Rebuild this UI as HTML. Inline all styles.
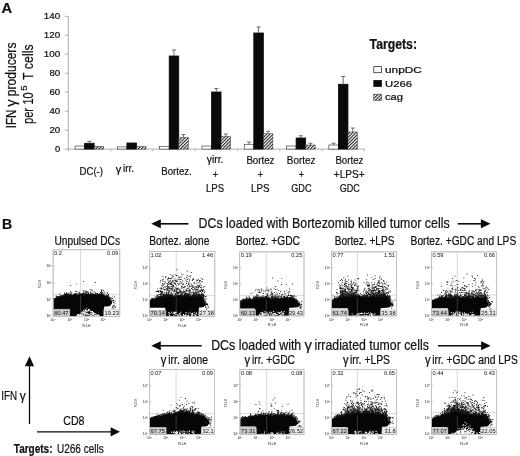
<!DOCTYPE html>
<html lang="en"><head><meta charset="utf-8"><title>Figure</title>
<style>html,body{margin:0;padding:0;background:#fff;}body{width:520px;height:456px;overflow:hidden;}svg{display:block;filter:grayscale(1);}text{font-family:"Liberation Sans", Arial, Helvetica, sans-serif;fill:#111;}.b text{stroke:#111;stroke-width:.22px;}</style>
</head><body>
<svg width="520" height="456" viewBox="0 0 520 456">
<defs><pattern id="hatch" width="2.3" height="2.3" patternUnits="userSpaceOnUse" patternTransform="rotate(-45)"><rect width="2.3" height="2.3" fill="#fff"/><rect width="2.3" height="1.05" fill="#1a1a1a"/></pattern></defs>
<rect width="520" height="456" fill="#fff"/>
<g class="b">
<text x="1.60" y="13.20" font-size="15.5" textLength="10.60" lengthAdjust="spacingAndGlyphs" font-weight="bold">A</text>
<text x="2.00" y="229.40" font-size="15.5" textLength="10.20" lengthAdjust="spacingAndGlyphs" font-weight="bold">B</text>
<g stroke="#a6a6a6" stroke-width="0.9" fill="none">
<path d="M68.3 16 V151.5"/>
<path d="M68.3 149.1 H364.5"/>
<path d="M64.8 149.10 H68.3"/>
<path d="M64.8 130.13 H68.3"/>
<path d="M64.8 111.16 H68.3"/>
<path d="M64.8 92.18 H68.3"/>
<path d="M64.8 73.21 H68.3"/>
<path d="M64.8 54.24 H68.3"/>
<path d="M64.8 35.27 H68.3"/>
<path d="M64.8 16.30 H68.3"/>
<path d="M110.60 149.1 v2.2"/>
<path d="M152.90 149.1 v2.2"/>
<path d="M195.20 149.1 v2.2"/>
<path d="M237.50 149.1 v2.2"/>
<path d="M279.80 149.1 v2.2"/>
<path d="M322.10 149.1 v2.2"/>
<path d="M364.40 149.1 v2.2"/>
</g>
<text x="55.00" y="152.10" font-size="8.7" textLength="5.20" lengthAdjust="spacingAndGlyphs" fill="#1a1a1a">0</text>
<text x="49.40" y="133.13" font-size="8.7" textLength="10.80" lengthAdjust="spacingAndGlyphs" fill="#1a1a1a">20</text>
<text x="49.40" y="114.16" font-size="8.7" textLength="10.80" lengthAdjust="spacingAndGlyphs" fill="#1a1a1a">40</text>
<text x="49.40" y="95.18" font-size="8.7" textLength="10.80" lengthAdjust="spacingAndGlyphs" fill="#1a1a1a">60</text>
<text x="49.40" y="76.21" font-size="8.7" textLength="10.80" lengthAdjust="spacingAndGlyphs" fill="#1a1a1a">80</text>
<text x="43.80" y="57.24" font-size="8.7" textLength="16.40" lengthAdjust="spacingAndGlyphs" fill="#1a1a1a">100</text>
<text x="43.80" y="38.27" font-size="8.7" textLength="16.40" lengthAdjust="spacingAndGlyphs" fill="#1a1a1a">120</text>
<text x="43.80" y="19.30" font-size="8.7" textLength="16.40" lengthAdjust="spacingAndGlyphs" fill="#1a1a1a">140</text>
<g transform="rotate(-90)">
<text x="-128.30" y="15.50" font-size="14.5" textLength="18.50" lengthAdjust="spacingAndGlyphs">IFN</text>
<text x="-106.80" y="15.50" font-size="14.5" textLength="7.40" lengthAdjust="spacingAndGlyphs">γ</text>
<text x="-96.20" y="15.50" font-size="14.5" textLength="53.60" lengthAdjust="spacingAndGlyphs">producers</text>
<text x="-124.10" y="32.90" font-size="14.5" textLength="16.20" lengthAdjust="spacingAndGlyphs">per</text>
<text x="-104.60" y="32.90" font-size="14.5" textLength="12.20" lengthAdjust="spacingAndGlyphs">10</text>
<text x="-90.70" y="27.20" font-size="9" textLength="5.40" lengthAdjust="spacingAndGlyphs">5</text>
<text x="-79.90" y="32.90" font-size="14.5" textLength="35.50" lengthAdjust="spacingAndGlyphs">T cells</text>
</g>
<rect x="75.05" y="146.00" width="9.55" height="3.10" fill="#fff" stroke="#2a2a2a" stroke-width="0.6"/>
<rect x="84.60" y="143.25" width="9.55" height="5.85" fill="#0a0a0a" stroke="#0a0a0a" stroke-width="0.8"/>
<path d="M89.38 143.25 V141.30 M87.38 141.30 h4" stroke="#4a4a4a" stroke-width="0.8" fill="none"/>
<rect x="94.15" y="146.25" width="9.55" height="2.85" fill="url(#hatch)" stroke="#333" stroke-width="0.5"/>
<rect x="117.35" y="146.90" width="9.55" height="2.20" fill="#fff" stroke="#2a2a2a" stroke-width="0.6"/>
<rect x="126.90" y="143.00" width="9.55" height="6.10" fill="#0a0a0a" stroke="#0a0a0a" stroke-width="0.8"/>
<rect x="136.45" y="146.50" width="9.55" height="2.60" fill="url(#hatch)" stroke="#333" stroke-width="0.5"/>
<rect x="159.65" y="146.25" width="9.55" height="2.85" fill="#fff" stroke="#2a2a2a" stroke-width="0.6"/>
<rect x="169.20" y="56.00" width="9.55" height="93.10" fill="#0a0a0a" stroke="#0a0a0a" stroke-width="0.8"/>
<path d="M173.97 56.00 V50.00 M171.97 50.00 h4" stroke="#4a4a4a" stroke-width="0.8" fill="none"/>
<rect x="178.75" y="137.50" width="9.55" height="11.60" fill="url(#hatch)" stroke="#333" stroke-width="0.5"/>
<path d="M183.52 137.50 V134.50 M181.52 134.50 h4" stroke="#4a4a4a" stroke-width="0.8" fill="none"/>
<rect x="201.95" y="146.00" width="9.55" height="3.10" fill="#fff" stroke="#2a2a2a" stroke-width="0.6"/>
<rect x="211.50" y="92.00" width="9.55" height="57.10" fill="#0a0a0a" stroke="#0a0a0a" stroke-width="0.8"/>
<path d="M216.28 92.00 V88.50 M214.28 88.50 h4" stroke="#4a4a4a" stroke-width="0.8" fill="none"/>
<rect x="221.05" y="136.50" width="9.55" height="12.60" fill="url(#hatch)" stroke="#333" stroke-width="0.5"/>
<path d="M225.82 136.50 V134.00 M223.82 134.00 h4" stroke="#4a4a4a" stroke-width="0.8" fill="none"/>
<rect x="244.25" y="144.25" width="9.55" height="4.85" fill="#fff" stroke="#2a2a2a" stroke-width="0.6"/>
<path d="M249.03 144.25 V142.00 M247.03 142.00 h4" stroke="#4a4a4a" stroke-width="0.8" fill="none"/>
<rect x="253.80" y="33.00" width="9.55" height="116.10" fill="#0a0a0a" stroke="#0a0a0a" stroke-width="0.8"/>
<path d="M258.57 33.00 V27.00 M256.57 27.00 h4" stroke="#4a4a4a" stroke-width="0.8" fill="none"/>
<rect x="263.35" y="133.75" width="9.55" height="15.35" fill="url(#hatch)" stroke="#333" stroke-width="0.5"/>
<path d="M268.12 133.75 V131.25 M266.12 131.25 h4" stroke="#4a4a4a" stroke-width="0.8" fill="none"/>
<rect x="286.55" y="146.00" width="9.55" height="3.10" fill="#fff" stroke="#2a2a2a" stroke-width="0.6"/>
<rect x="296.10" y="138.00" width="9.55" height="11.10" fill="#0a0a0a" stroke="#0a0a0a" stroke-width="0.8"/>
<path d="M300.88 138.00 V135.75 M298.88 135.75 h4" stroke="#4a4a4a" stroke-width="0.8" fill="none"/>
<rect x="305.65" y="145.00" width="9.55" height="4.10" fill="url(#hatch)" stroke="#333" stroke-width="0.5"/>
<path d="M310.43 145.00 V143.25 M308.43 143.25 h4" stroke="#4a4a4a" stroke-width="0.8" fill="none"/>
<rect x="328.85" y="145.00" width="9.55" height="4.10" fill="#fff" stroke="#2a2a2a" stroke-width="0.6"/>
<path d="M333.62 145.00 V143.25 M331.62 143.25 h4" stroke="#4a4a4a" stroke-width="0.8" fill="none"/>
<rect x="338.40" y="84.25" width="9.55" height="64.85" fill="#0a0a0a" stroke="#0a0a0a" stroke-width="0.8"/>
<path d="M343.17 84.25 V76.50 M341.17 76.50 h4" stroke="#4a4a4a" stroke-width="0.8" fill="none"/>
<rect x="347.95" y="132.00" width="9.55" height="17.10" fill="url(#hatch)" stroke="#333" stroke-width="0.5"/>
<path d="M352.72 132.00 V128.00 M350.72 128.00 h4" stroke="#4a4a4a" stroke-width="0.8" fill="none"/>
<text x="79.50" y="174.60" font-size="11.5" textLength="23.50" lengthAdjust="spacingAndGlyphs">DC(-)</text>
<text x="115.80" y="173.20" font-size="11.5" textLength="5.50" lengthAdjust="spacingAndGlyphs">γ</text>
<text x="123.00" y="172.20" font-size="11.5" textLength="11.00" lengthAdjust="spacingAndGlyphs">irr.</text>
<text x="161.30" y="174.60" font-size="11.5" textLength="30.50" lengthAdjust="spacingAndGlyphs">Bortez.</text>
<text x="206.70" y="163.40" font-size="11.5" textLength="16.80" lengthAdjust="spacingAndGlyphs">γirr.</text>
<text x="215.30" y="178.00" font-size="11.5" textLength="5.20" lengthAdjust="spacingAndGlyphs" text-anchor="middle">+</text>
<text x="206.00" y="192.30" font-size="11.5" textLength="18.00" lengthAdjust="spacingAndGlyphs">LPS</text>
<text x="246.40" y="163.70" font-size="11.5" textLength="28.10" lengthAdjust="spacingAndGlyphs">Bortez</text>
<text x="260.40" y="178.00" font-size="11.5" textLength="5.20" lengthAdjust="spacingAndGlyphs" text-anchor="middle">+</text>
<text x="251.00" y="192.40" font-size="11.5" textLength="18.40" lengthAdjust="spacingAndGlyphs">LPS</text>
<text x="286.80" y="163.70" font-size="11.5" textLength="28.60" lengthAdjust="spacingAndGlyphs">Bortez</text>
<text x="301.40" y="178.00" font-size="11.5" textLength="5.20" lengthAdjust="spacingAndGlyphs" text-anchor="middle">+</text>
<text x="291.20" y="192.40" font-size="11.5" textLength="20.40" lengthAdjust="spacingAndGlyphs">GDC</text>
<text x="335.40" y="163.70" font-size="11.5" textLength="28.10" lengthAdjust="spacingAndGlyphs">Bortez</text>
<text x="333.80" y="178.00" font-size="11.5" textLength="30.80" lengthAdjust="spacingAndGlyphs">+LPS+</text>
<text x="339.80" y="192.40" font-size="11.5" textLength="20.10" lengthAdjust="spacingAndGlyphs">GDC</text>
<text x="369.60" y="49.20" font-size="14.5" textLength="47.40" lengthAdjust="spacingAndGlyphs" font-weight="bold">Targets:</text>
<rect x="373.8" y="66.6" width="7.6" height="6.1" fill="#fff" stroke="#333" stroke-width="0.8"/>
<rect x="373.8" y="80.4" width="7.6" height="6.1" fill="#0a0a0a" stroke="#111" stroke-width="0.8"/>
<rect x="373.8" y="94.2" width="7.6" height="6.1" fill="url(#hatch)" stroke="#333" stroke-width="0.6"/>
<text x="385.00" y="73.00" font-size="8.6" textLength="36.80" lengthAdjust="spacingAndGlyphs" fill="#222">unpDC</text>
<text x="385.00" y="86.60" font-size="8.6" textLength="27.00" lengthAdjust="spacingAndGlyphs" fill="#222">U266</text>
<text x="385.00" y="99.80" font-size="8.6" textLength="18.00" lengthAdjust="spacingAndGlyphs" fill="#222">cag</text>
<path d="M158.2 223.8 H188.4" stroke="#0a0a0a" stroke-width="1.6" fill="none"/>
<path d="M151.2 223.8 l9.6 -4.5 v9 z" fill="#0a0a0a"/>
<text x="198.50" y="227.80" font-size="14.6" textLength="251.10" lengthAdjust="spacingAndGlyphs">DCs loaded with Bortezomib killed tumor cells</text>
<path d="M457.7 223.8 H483.5" stroke="#0a0a0a" stroke-width="1.6" fill="none"/>
<path d="M490.5 223.8 l-9.6 -4.5 v9 z" fill="#0a0a0a"/>
<path d="M158.2 345.8 H201.7" stroke="#0a0a0a" stroke-width="1.6" fill="none"/>
<path d="M151.2 345.8 l9.6 -4.5 v9 z" fill="#0a0a0a"/>
<text x="211.20" y="349.70" font-size="14.6" textLength="90.00" lengthAdjust="spacingAndGlyphs">DCs loaded with</text>
<text x="304.50" y="349.70" font-size="14.6" textLength="7.50" lengthAdjust="spacingAndGlyphs">γ</text>
<text x="314.50" y="349.70" font-size="14.6" textLength="114.30" lengthAdjust="spacingAndGlyphs">irradiated tumor cells</text>
<path d="M438 345.8 H483.7" stroke="#0a0a0a" stroke-width="1.6" fill="none"/>
<path d="M490.7 345.8 l-9.6 -4.5 v9 z" fill="#0a0a0a"/>
<text x="54.50" y="245.00" font-size="12" textLength="65.50" lengthAdjust="spacingAndGlyphs">Unpulsed DCs</text>
<text x="149.20" y="244.70" font-size="12" textLength="60.20" lengthAdjust="spacingAndGlyphs">Bortez. alone</text>
<text x="236.00" y="244.70" font-size="12" textLength="64.00" lengthAdjust="spacingAndGlyphs">Bortez. +GDC</text>
<text x="334.70" y="244.70" font-size="12" textLength="59.70" lengthAdjust="spacingAndGlyphs">Bortez. +LPS</text>
<text x="410.60" y="244.70" font-size="12" textLength="105.60" lengthAdjust="spacingAndGlyphs">Bortez. +GDC and LPS</text>
<text x="160.70" y="363.70" font-size="12" textLength="5.60" lengthAdjust="spacingAndGlyphs">γ</text>
<text x="168.30" y="363.70" font-size="12" textLength="39.60" lengthAdjust="spacingAndGlyphs">irr. alone</text>
<text x="244.50" y="363.70" font-size="12" textLength="5.60" lengthAdjust="spacingAndGlyphs">γ</text>
<text x="252.00" y="363.70" font-size="12" textLength="43.00" lengthAdjust="spacingAndGlyphs">irr. +GDC</text>
<text x="343.00" y="363.70" font-size="12" textLength="5.60" lengthAdjust="spacingAndGlyphs">γ</text>
<text x="350.00" y="363.70" font-size="12" textLength="40.00" lengthAdjust="spacingAndGlyphs">irr. +LPS</text>
<text x="425.00" y="363.70" font-size="12" textLength="5.60" lengthAdjust="spacingAndGlyphs">γ</text>
<text x="432.20" y="363.70" font-size="12" textLength="85.60" lengthAdjust="spacingAndGlyphs">irr. +GDC and LPS</text>
<path d="M29.5 424 V364" stroke="#0a0a0a" stroke-width="1.3" fill="none"/>
<path d="M29.5 356.2 l-4.6 10 h9.2 z" fill="#0a0a0a"/>
<path d="M37 431.8 H112" stroke="#0a0a0a" stroke-width="1.3" fill="none"/>
<path d="M120 431.8 l-9.4 -4.6 v9.2 z" fill="#0a0a0a"/>
<text x="1.30" y="400.00" font-size="12" textLength="15.80" lengthAdjust="spacingAndGlyphs">IFN</text>
<text x="19.80" y="400.00" font-size="12" textLength="6.00" lengthAdjust="spacingAndGlyphs">γ</text>
<text x="63.30" y="425.00" font-size="12" textLength="21.20" lengthAdjust="spacingAndGlyphs">CD8</text>
<text x="13.80" y="452.50" font-size="12" textLength="38.70" lengthAdjust="spacingAndGlyphs" font-weight="bold">Targets:</text>
<text x="57.00" y="452.50" font-size="12" textLength="46.70" lengthAdjust="spacingAndGlyphs">U266 cells</text>
</g>
<g>
<rect x="53.1" y="249.8" width="66.70" height="66.60" fill="#fff" stroke="#bcbcbc" stroke-width="0.7"/>
<path d="M80.6 249.8 V316.4 M53.1 294.4 H119.8" stroke="#c8c8c8" stroke-width="0.7" fill="none"/>
<path d="M69.78 316.4 v-1.6 M53.1 299.75 h1.6 M86.45 316.4 v-1.6 M53.1 283.10 h1.6 M103.12 316.4 v-1.6 M53.1 266.45 h1.6" stroke="#999" stroke-width="0.6" fill="none"/>
<text x="50.70" y="321.20" font-size="3.3" fill="#b8b8b8">10<tspan dy="-1.3" font-size="2.3">0</tspan></text>
<text x="46.50" y="317.40" font-size="3.3" fill="#b8b8b8">10<tspan dy="-1.3" font-size="2.3">0</tspan></text>
<text x="67.38" y="321.20" font-size="3.3" fill="#b8b8b8">10<tspan dy="-1.3" font-size="2.3">1</tspan></text>
<text x="46.50" y="300.75" font-size="3.3" fill="#b8b8b8">10<tspan dy="-1.3" font-size="2.3">1</tspan></text>
<text x="84.05" y="321.20" font-size="3.3" fill="#b8b8b8">10<tspan dy="-1.3" font-size="2.3">2</tspan></text>
<text x="46.50" y="284.10" font-size="3.3" fill="#b8b8b8">10<tspan dy="-1.3" font-size="2.3">2</tspan></text>
<text x="100.72" y="321.20" font-size="3.3" fill="#b8b8b8">10<tspan dy="-1.3" font-size="2.3">3</tspan></text>
<text x="46.50" y="267.45" font-size="3.3" fill="#b8b8b8">10<tspan dy="-1.3" font-size="2.3">3</tspan></text>
<text x="86.45" y="326.60" font-size="2.9" text-anchor="middle" fill="#999">FL1-H</text>
<text transform="translate(40.50 284.10) rotate(-90)" font-size="2.9" text-anchor="middle" fill="#999">FL2-H</text>
<path d="M53.5 298.4 L54.0 298.3 L54.5 298.6 L55.0 298.1 L55.5 297.9 L56.0 297.7 L56.5 297.1 L57.0 297.1 L57.5 297.1 L58.0 297.2 L58.5 296.5 L59.0 296.2 L59.5 295.7 L60.0 296.2 L60.5 296.3 L61.0 295.5 L61.5 296.0 L62.0 296.3 L62.5 296.0 L63.0 295.7 L63.4 295.0 L63.9 294.4 L64.4 294.5 L64.9 294.0 L65.4 293.9 L65.9 293.8 L66.4 293.4 L66.9 293.7 L67.4 293.8 L67.9 294.4 L68.4 294.3 L68.9 294.4 L69.4 294.3 L69.9 294.4 L70.4 294.3 L70.9 294.0 L71.4 294.6 L71.9 295.0 L72.4 295.0 L72.9 294.9 L73.4 294.4 L73.9 294.0 L74.4 293.9 L74.9 293.5 L75.4 294.1 L75.9 294.1 L76.4 294.5 L76.9 294.2 L77.4 294.7 L77.9 294.9 L78.4 294.0 L78.9 293.8 L79.4 294.4 L79.9 294.3 L80.4 294.8 L80.9 294.4 L81.4 293.8 L81.9 294.1 L82.4 294.5 L82.8 294.1 L83.3 293.7 L83.8 293.7 L84.3 294.5 L84.8 294.6 L85.3 294.0 L85.8 293.8 L86.3 293.6 L86.8 293.4 L87.3 294.1 L87.8 293.8 L88.3 294.0 L88.8 294.0 L89.3 293.8 L89.8 294.2 L90.3 293.8 L90.8 294.1 L91.3 293.7 L91.8 293.9 L92.3 293.7 L92.8 293.7 L93.3 294.4 L93.8 294.7 L94.3 294.2 L94.8 294.6 L95.3 294.1 L95.8 294.0 L96.3 294.5 L96.8 294.5 L97.3 293.9 L97.8 294.6 L98.3 294.1 L98.8 293.9 L99.3 294.3 L99.8 294.1 L100.3 293.9 L100.8 293.6 L101.3 293.4 L101.8 294.0 L102.3 293.9 L102.7 294.4 L103.2 294.4 L103.7 294.6 L104.2 295.4 L104.7 295.3 L105.2 295.5 L105.7 296.0 L106.2 295.6 L106.7 295.5 L107.2 296.3 L107.7 296.8 L108.2 296.5 L108.7 296.4 L109.2 297.1 L109.7 297.7 L110.2 297.8 L110.7 299.4 L111.2 300.6 L111.7 301.4 L112.2 302.0 L112.2 303.1 L111.7 303.7 L111.2 304.4 L110.7 305.0 L110.2 305.7 L109.7 306.1 L109.2 306.2 L108.7 306.3 L108.2 306.3 L107.7 306.4 L107.2 306.4 L106.7 306.5 L106.2 306.5 L105.7 306.5 L105.2 306.6 L104.7 306.6 L104.2 306.6 L103.7 316.1 L103.2 316.1 L102.7 316.1 L102.3 316.1 L101.8 316.1 L101.3 316.1 L100.8 316.1 L100.3 316.1 L99.8 316.1 L99.3 316.1 L98.8 316.1 L98.3 316.1 L97.8 316.1 L97.3 316.1 L96.8 316.1 L96.3 316.1 L95.8 316.1 L95.3 316.1 L94.8 316.1 L94.3 316.1 L93.8 316.1 L93.3 316.1 L92.8 316.1 L92.3 316.1 L91.8 316.1 L91.3 316.1 L90.8 316.1 L90.3 316.1 L89.8 316.1 L89.3 316.1 L88.8 316.1 L88.3 316.1 L87.8 316.1 L87.3 316.1 L86.8 316.1 L86.3 316.1 L85.8 316.1 L85.3 316.1 L84.8 316.1 L84.3 316.1 L83.8 316.1 L83.3 316.1 L82.8 316.1 L82.4 316.1 L81.9 316.1 L81.4 316.1 L80.9 316.1 L80.4 316.1 L79.9 316.1 L79.4 316.1 L78.9 316.1 L78.4 316.1 L77.9 316.1 L77.4 316.1 L76.9 316.1 L76.4 316.1 L75.9 316.1 L75.4 316.1 L74.9 316.1 L74.4 316.1 L73.9 316.1 L73.4 316.1 L72.9 316.1 L72.4 316.1 L71.9 316.1 L71.4 316.1 L70.9 316.1 L70.4 316.1 L69.9 316.1 L69.4 309.6 L68.9 309.6 L68.4 309.6 L67.9 309.6 L67.4 309.6 L66.9 309.6 L66.4 309.6 L65.9 309.6 L65.4 309.6 L64.9 309.6 L64.4 309.6 L63.9 309.6 L63.4 309.6 L63.0 309.6 L62.5 309.6 L62.0 309.6 L61.5 309.6 L61.0 309.6 L60.5 309.6 L60.0 309.6 L59.5 309.6 L59.0 309.6 L58.5 309.6 L58.0 309.6 L57.5 309.6 L57.0 309.6 L56.5 309.6 L56.0 309.6 L55.5 309.6 L55.0 309.6 L54.5 309.6 L54.0 309.6 L53.5 309.6Z" fill="#060606"/>
<path d="M80.6 295.7 V315.4" stroke="#5a5a5a" stroke-width="0.6" fill="none"/>
<path d="M60.2 296.2h.9v.9h-.9zM111.0 300.3h.9v.9h-.9zM95.7 293.8h.9v.9h-.9zM102.8 293.6h.9v.9h-.9zM71.4 294.5h.9v.9h-.9zM96.7 294.5h.9v.9h-.9zM67.6 293.2h.9v.9h-.9zM104.5 294.6h.9v.9h-.9zM70.7 292.3h.9v.9h-.9zM66.2 293.7h.9v.9h-.9zM70.0 294.0h.9v.9h-.9zM57.7 297.0h.9v.9h-.9zM75.9 293.4h.9v.9h-.9zM61.9 295.9h.9v.9h-.9zM106.8 292.3h.9v.9h-.9zM92.9 292.7h.9v.9h-.9zM88.6 293.9h.9v.9h-.9zM56.2 297.7h.9v.9h-.9zM107.9 295.8h.9v.9h-.9zM111.0 300.5h.9v.9h-.9zM91.7 293.3h.9v.9h-.9zM97.3 293.6h.9v.9h-.9zM113.2 302.0h.9v.9h-.9zM86.4 292.5h.9v.9h-.9zM107.3 295.2h.9v.9h-.9zM95.7 292.8h.9v.9h-.9zM108.2 296.2h.9v.9h-.9zM94.6 292.8h.9v.9h-.9zM105.6 295.6h.9v.9h-.9zM100.8 292.0h.9v.9h-.9zM88.0 293.0h.9v.9h-.9zM76.7 293.5h.9v.9h-.9zM90.1 293.7h.9v.9h-.9zM91.9 289.9h.9v.9h-.9zM106.1 294.6h.9v.9h-.9zM77.1 293.2h.9v.9h-.9zM88.4 293.6h.9v.9h-.9zM103.6 294.6h.9v.9h-.9zM98.4 294.1h.9v.9h-.9zM89.6 293.7h.9v.9h-.9zM67.7 293.4h.9v.9h-.9zM83.5 292.9h.9v.9h-.9zM108.5 296.2h.9v.9h-.9zM54.8 297.9h.9v.9h-.9zM94.2 294.1h.9v.9h-.9zM64.1 292.5h.9v.9h-.9zM93.1 294.0h.9v.9h-.9zM106.8 295.1h.9v.9h-.9zM93.5 294.3h.9v.9h-.9zM79.6 293.1h.9v.9h-.9zM108.1 294.8h.9v.9h-.9zM76.8 293.5h.9v.9h-.9zM72.8 294.8h.9v.9h-.9zM83.4 292.2h.9v.9h-.9zM104.3 294.4h.9v.9h-.9zM110.2 297.6h.9v.9h-.9zM64.1 293.9h.9v.9h-.9zM70.4 294.1h.9v.9h-.9zM78.6 293.2h.9v.9h-.9zM83.3 293.4h.9v.9h-.9zM103.7 291.4h.9v.9h-.9zM80.8 294.3h.9v.9h-.9zM56.0 296.1h.9v.9h-.9zM56.6 296.2h.9v.9h-.9zM87.8 293.5h.9v.9h-.9zM100.9 293.6h.9v.9h-.9zM62.1 295.8h.9v.9h-.9zM55.6 296.5h.9v.9h-.9zM68.1 294.3h.9v.9h-.9zM56.9 296.3h.9v.9h-.9zM80.5 294.0h.9v.9h-.9zM92.8 292.4h.9v.9h-.9zM110.7 298.5h.9v.9h-.9zM65.9 293.2h.9v.9h-.9zM64.7 294.5h.9v.9h-.9zM82.0 293.1h.9v.9h-.9zM64.7 294.3h.9v.9h-.9zM74.5 292.9h.9v.9h-.9zM84.9 293.9h.9v.9h-.9zM98.8 293.5h.9v.9h-.9zM100.9 291.7h.9v.9h-.9zM59.3 293.6h.9v.9h-.9zM96.8 294.4h.9v.9h-.9zM80.9 293.6h.9v.9h-.9zM107.9 296.4h.9v.9h-.9zM87.7 292.1h.9v.9h-.9zM101.2 291.1h.9v.9h-.9zM81.5 293.0h.9v.9h-.9zM66.2 292.4h.9v.9h-.9zM102.5 293.1h.9v.9h-.9zM96.5 294.3h.9v.9h-.9zM107.3 293.2h.9v.9h-.9zM111.9 300.7h.9v.9h-.9zM100.8 293.3h.9v.9h-.9zM107.9 295.2h.9v.9h-.9zM74.7 293.5h.9v.9h-.9zM80.2 294.1h.9v.9h-.9zM99.5 293.8h.9v.9h-.9zM55.8 296.4h.9v.9h-.9zM57.9 296.0h.9v.9h-.9zM64.3 294.2h.9v.9h-.9zM100.7 293.5h.9v.9h-.9zM62.9 295.1h.9v.9h-.9zM96.9 293.1h.9v.9h-.9zM94.8 292.3h.9v.9h-.9zM83.2 291.3h.9v.9h-.9zM59.2 296.0h.9v.9h-.9zM85.2 293.7h.9v.9h-.9zM97.2 293.1h.9v.9h-.9zM85.0 293.1h.9v.9h-.9zM87.2 293.8h.9v.9h-.9zM76.6 293.0h.9v.9h-.9zM107.3 296.1h.9v.9h-.9zM104.4 292.6h.9v.9h-.9zM85.1 293.9h.9v.9h-.9zM66.0 293.1h.9v.9h-.9zM83.8 293.0h.9v.9h-.9zM55.7 294.9h.9v.9h-.9zM84.6 294.2h.9v.9h-.9zM101.4 292.8h.9v.9h-.9zM83.1 292.8h.9v.9h-.9zM58.0 296.6h.9v.9h-.9zM78.6 291.5h.9v.9h-.9zM108.7 296.2h.9v.9h-.9zM82.1 294.0h.9v.9h-.9zM79.7 292.9h.9v.9h-.9zM107.3 295.8h.9v.9h-.9zM72.8 294.7h.9v.9h-.9zM90.6 292.1h.9v.9h-.9zM61.8 295.0h.9v.9h-.9zM55.4 297.7h.9v.9h-.9zM67.5 292.9h.9v.9h-.9zM73.1 294.5h.9v.9h-.9zM90.7 294.1h.9v.9h-.9zM97.3 293.8h.9v.9h-.9zM84.3 294.2h.9v.9h-.9zM65.8 293.2h.9v.9h-.9zM79.9 293.9h.9v.9h-.9zM78.5 293.4h.9v.9h-.9zM63.5 294.8h.9v.9h-.9zM91.4 292.9h.9v.9h-.9zM85.4 292.5h.9v.9h-.9zM90.3 292.3h.9v.9h-.9zM67.9 293.3h.9v.9h-.9zM102.0 292.1h.9v.9h-.9zM72.8 294.6h.9v.9h-.9zM108.6 296.2h.9v.9h-.9zM113.1 300.3h.9v.9h-.9zM62.0 296.0h.9v.9h-.9zM97.0 293.7h.9v.9h-.9zM59.8 294.8h.9v.9h-.9zM79.0 292.5h.9v.9h-.9zM61.5 295.6h.9v.9h-.9zM94.6 294.6h.9v.9h-.9zM66.0 292.8h.9v.9h-.9zM108.0 294.0h.9v.9h-.9zM60.9 294.9h.9v.9h-.9zM98.9 293.3h.9v.9h-.9zM94.6 294.5h.9v.9h-.9zM58.3 296.4h.9v.9h-.9zM56.3 296.5h.9v.9h-.9zM84.5 293.8h.9v.9h-.9zM62.8 295.5h.9v.9h-.9zM66.2 292.3h.9v.9h-.9zM112.6 300.0h.9v.9h-.9zM59.7 296.1h.9v.9h-.9zM110.3 297.3h.9v.9h-.9zM99.3 294.0h.9v.9h-.9zM81.7 293.6h.9v.9h-.9zM79.5 293.7h.9v.9h-.9zM114.6 306.1h.9v.9h-.9zM111.5 297.8h.9v.9h-.9zM114.7 300.6h.9v.9h-.9zM112.2 298.0h.9v.9h-.9zM112.5 295.7h.9v.9h-.9zM113.5 306.8h.9v.9h-.9zM112.3 306.3h.9v.9h-.9zM114.5 303.4h.9v.9h-.9zM113.7 301.9h.9v.9h-.9zM112.9 307.9h.9v.9h-.9zM111.8 307.0h.9v.9h-.9zM112.8 304.9h.9v.9h-.9zM111.9 300.6h.9v.9h-.9zM115.2 306.8h.9v.9h-.9zM113.7 305.2h.9v.9h-.9zM113.5 305.1h.9v.9h-.9zM114.1 296.4h.9v.9h-.9zM113.2 299.8h.9v.9h-.9zM85.7 290.6h.9v.9h-.9zM89.8 293.4h.9v.9h-.9zM101.0 290.1h.9v.9h-.9zM86.1 291.4h.9v.9h-.9zM83.7 289.9h.9v.9h-.9zM94.9 282.1h.9v.9h-.9zM64.4 293.6h.9v.9h-.9zM79.1 293.6h.9v.9h-.9zM72.8 293.9h.9v.9h-.9zM101.1 290.9h.9v.9h-.9zM89.7 288.9h.9v.9h-.9zM66.1 293.6h.9v.9h-.9zM99.4 293.8h.9v.9h-.9zM85.1 291.6h.9v.9h-.9zM70.3 285.0h.9v.9h-.9zM79.3 293.0h.9v.9h-.9zM76.4 291.1h.9v.9h-.9zM86.6 292.2h.9v.9h-.9zM69.6 293.4h.9v.9h-.9zM69.5 292.7h.9v.9h-.9zM102.9 290.0h.9v.9h-.9zM72.7 294.6h.9v.9h-.9zM100.1 292.1h.9v.9h-.9zM85.6 291.4h.9v.9h-.9zM101.4 289.3h.9v.9h-.9zM87.4 291.1h.9v.9h-.9zM69.9 291.3h.9v.9h-.9zM83.5 291.3h.9v.9h-.9zM71.4 292.8h.9v.9h-.9zM89.9 291.4h.9v.9h-.9zM82.4 289.7h.9v.9h-.9zM91.1 289.5h.9v.9h-.9zM75.0 293.2h.9v.9h-.9zM94.0 290.7h.9v.9h-.9zM75.8 283.7h.9v.9h-.9zM83.2 281.1h.9v.9h-.9zM75.0 291.0h.9v.9h-.9zM99.1 294.0h.9v.9h-.9z" fill="#161616"/>
<path d="M76.5 315.2h1v.9h-1zM85.2 311.3h1v.9h-1zM77.5 314.6h1v.9h-1zM76.7 315.4h1v.9h-1zM91.2 312.7h1v.9h-1zM90.1 313.4h1v.9h-1zM86.5 314.0h1v.9h-1zM83.2 311.4h1v.9h-1zM95.1 315.3h1v.9h-1zM77.9 313.9h1v.9h-1zM90.0 310.8h1v.9h-1zM80.1 314.1h1v.9h-1zM81.2 312.1h1v.9h-1zM83.9 311.6h1v.9h-1zM98.7 315.4h1v.9h-1zM88.2 310.1h1v.9h-1zM97.1 315.0h1v.9h-1zM83.9 315.0h1v.9h-1zM96.0 315.4h1v.9h-1zM77.0 314.8h1v.9h-1zM86.6 310.2h1v.9h-1zM82.2 311.7h1v.9h-1zM76.8 315.3h1v.9h-1zM90.9 315.1h1v.9h-1zM82.3 311.9h1v.9h-1zM91.7 314.2h1v.9h-1zM78.4 314.7h1v.9h-1zM92.4 313.9h1v.9h-1zM77.8 314.2h1v.9h-1zM88.7 309.0h1v.9h-1zM97.6 314.6h1v.9h-1zM85.5 309.8h1v.9h-1zM82.3 314.0h1v.9h-1zM84.6 309.4h1v.9h-1zM96.5 315.1h1v.9h-1zM83.7 313.4h1v.9h-1zM83.7 313.2h1v.9h-1zM84.3 314.4h1v.9h-1zM88.5 309.9h1v.9h-1zM88.0 309.3h1v.9h-1zM88.5 314.3h1v.9h-1zM93.2 312.0h1v.9h-1zM81.8 315.4h1v.9h-1zM87.4 311.3h1v.9h-1zM88.6 308.7h1v.9h-1zM90.6 310.9h1v.9h-1zM76.5 314.9h1v.9h-1zM93.9 315.2h1v.9h-1zM77.0 314.5h1v.9h-1zM96.6 315.4h1v.9h-1zM90.2 314.7h1v.9h-1zM92.9 312.9h1v.9h-1zM80.9 314.7h1v.9h-1zM93.4 313.6h1v.9h-1zM93.4 314.0h1v.9h-1zM83.1 310.1h1v.9h-1zM91.1 312.9h1v.9h-1zM87.9 310.1h1v.9h-1zM92.0 311.1h1v.9h-1zM84.9 310.0h1v.9h-1zM91.0 310.9h1v.9h-1zM94.3 312.9h1v.9h-1zM96.3 313.8h1v.9h-1zM90.4 312.5h1v.9h-1zM92.0 311.7h1v.9h-1zM85.1 312.7h1v.9h-1zM78.5 313.7h1v.9h-1zM98.8 315.4h1v.9h-1zM79.0 315.0h1v.9h-1zM85.2 313.6h1v.9h-1zM98.3 315.5h1v.9h-1zM82.4 315.0h1v.9h-1zM90.6 311.1h1v.9h-1zM79.3 315.3h1v.9h-1zM86.0 311.2h1v.9h-1zM96.8 315.5h1v.9h-1zM77.6 315.2h1v.9h-1zM80.2 314.7h1v.9h-1zM92.2 312.8h1v.9h-1zM80.4 314.9h1v.9h-1zM81.7 314.8h1v.9h-1zM93.2 314.3h1v.9h-1zM88.2 309.5h1v.9h-1zM86.5 313.6h1v.9h-1zM96.3 313.8h1v.9h-1zM83.2 312.5h1v.9h-1zM98.0 315.2h1v.9h-1zM80.3 315.3h1v.9h-1zM97.7 314.8h1v.9h-1zM84.2 312.3h1v.9h-1zM87.4 313.5h1v.9h-1zM98.8 315.4h1v.9h-1zM80.7 315.5h1v.9h-1zM86.3 312.8h1v.9h-1zM94.1 313.2h1v.9h-1zM89.5 314.6h1v.9h-1zM78.8 314.7h1v.9h-1zM81.2 311.8h1v.9h-1zM87.4 310.6h1v.9h-1zM98.8 315.5h1v.9h-1zM87.8 314.5h1v.9h-1zM93.5 315.5h1v.9h-1zM94.7 313.0h1v.9h-1zM94.7 315.3h1v.9h-1zM81.5 312.4h1v.9h-1zM77.3 314.8h1v.9h-1zM86.2 308.2h1v.9h-1zM89.1 309.7h1v.9h-1zM82.3 311.6h1v.9h-1zM85.0 309.3h1v.9h-1zM77.2 314.3h1v.9h-1zM80.0 313.7h1v.9h-1zM87.6 314.4h1v.9h-1zM95.0 314.7h1v.9h-1zM82.5 315.2h1v.9h-1zM82.3 313.2h1v.9h-1zM92.2 313.9h1v.9h-1zM91.5 315.0h1v.9h-1zM84.5 312.6h1v.9h-1zM98.2 315.1h1v.9h-1zM90.7 315.4h1v.9h-1zM84.1 311.2h1v.9h-1zM80.7 313.4h1v.9h-1zM86.0 315.4h1v.9h-1zM98.8 315.4h1v.9h-1z" fill="#fff"/>
<rect x="53.50" y="309.10" width="16.40" height="7.10" fill="#cbcbcb" stroke="#999" stroke-width="0.4"/>
<rect x="103.80" y="309.10" width="15.60" height="7.10" fill="#ececec" stroke="#aaa" stroke-width="0.4"/>
<text x="54.10" y="254.90" font-size="5.7" text-anchor="start" fill="#6a6a6a">0.2</text>
<text x="118.20" y="254.90" font-size="5.7" text-anchor="end" fill="#6a6a6a">0.09</text>
<text x="54.30" y="315.10" font-size="5.7" text-anchor="start" fill="#5c5c5c">80.47</text>
<text x="118.80" y="315.10" font-size="5.7" text-anchor="end" fill="#5c5c5c">19.23</text>
<rect x="53.1" y="249.8" width="66.70" height="66.60" fill="none" stroke="#bcbcbc" stroke-width="0.7"/>
</g>
<g>
<rect x="149.4" y="251.5" width="65.40" height="64.80" fill="#fff" stroke="#bcbcbc" stroke-width="0.7"/>
<path d="M176.2 251.5 V316.3 M149.4 295.6 H214.8" stroke="#c8c8c8" stroke-width="0.7" fill="none"/>
<path d="M165.75 316.3 v-1.6 M149.4 300.10 h1.6 M182.10 316.3 v-1.6 M149.4 283.90 h1.6 M198.45 316.3 v-1.6 M149.4 267.70 h1.6" stroke="#999" stroke-width="0.6" fill="none"/>
<text x="147.00" y="321.10" font-size="3.3" fill="#b8b8b8">10<tspan dy="-1.3" font-size="2.3">0</tspan></text>
<text x="142.80" y="317.30" font-size="3.3" fill="#b8b8b8">10<tspan dy="-1.3" font-size="2.3">0</tspan></text>
<text x="163.35" y="321.10" font-size="3.3" fill="#b8b8b8">10<tspan dy="-1.3" font-size="2.3">1</tspan></text>
<text x="142.80" y="301.10" font-size="3.3" fill="#b8b8b8">10<tspan dy="-1.3" font-size="2.3">1</tspan></text>
<text x="179.70" y="321.10" font-size="3.3" fill="#b8b8b8">10<tspan dy="-1.3" font-size="2.3">2</tspan></text>
<text x="142.80" y="284.90" font-size="3.3" fill="#b8b8b8">10<tspan dy="-1.3" font-size="2.3">2</tspan></text>
<text x="196.05" y="321.10" font-size="3.3" fill="#b8b8b8">10<tspan dy="-1.3" font-size="2.3">3</tspan></text>
<text x="142.80" y="268.70" font-size="3.3" fill="#b8b8b8">10<tspan dy="-1.3" font-size="2.3">3</tspan></text>
<text x="182.10" y="326.50" font-size="2.9" text-anchor="middle" fill="#999">FL1-H</text>
<text transform="translate(136.80 284.90) rotate(-90)" font-size="2.9" text-anchor="middle" fill="#999">FL2-H</text>
<path d="M149.8 299.7 L150.3 299.7 L150.8 299.7 L151.3 299.0 L151.8 298.4 L152.3 298.4 L152.8 298.3 L153.3 298.7 L153.8 298.8 L154.3 298.6 L154.8 298.4 L155.3 298.4 L155.8 297.7 L156.3 297.6 L156.8 297.2 L157.3 297.7 L157.8 297.0 L158.3 297.4 L158.8 296.8 L159.2 297.0 L159.7 296.7 L160.2 296.6 L160.7 296.9 L161.2 296.2 L161.7 295.8 L162.2 296.4 L162.7 296.3 L163.2 295.7 L163.7 296.3 L164.2 296.7 L164.7 295.9 L165.2 295.9 L165.7 295.5 L166.2 295.5 L166.7 295.9 L167.2 295.6 L167.7 296.0 L168.2 295.5 L168.7 295.4 L169.2 296.0 L169.7 295.9 L170.2 295.8 L170.7 296.0 L171.2 296.0 L171.7 295.9 L172.2 295.4 L172.7 295.9 L173.2 296.5 L173.7 296.8 L174.2 296.6 L174.7 296.2 L175.2 295.9 L175.7 296.2 L176.2 296.3 L176.7 295.7 L177.2 295.6 L177.7 295.6 L178.1 295.8 L178.6 296.2 L179.1 296.1 L179.6 295.6 L180.1 296.1 L180.6 296.0 L181.1 296.0 L181.6 295.7 L182.1 295.8 L182.6 295.7 L183.1 296.2 L183.6 295.6 L184.1 295.9 L184.6 295.6 L185.1 296.0 L185.6 295.5 L186.1 295.5 L186.6 295.5 L187.1 295.9 L187.6 295.4 L188.1 295.7 L188.6 295.5 L189.1 295.5 L189.6 295.7 L190.1 296.3 L190.6 296.2 L191.1 296.6 L191.6 296.0 L192.1 296.4 L192.6 296.1 L193.1 295.7 L193.6 296.1 L194.1 296.5 L194.6 295.7 L195.1 295.6 L195.6 296.1 L196.1 295.9 L196.6 295.6 L197.0 295.3 L197.5 295.1 L198.0 295.6 L198.5 296.3 L199.0 296.7 L199.5 296.4 L200.0 295.7 L200.5 295.6 L201.0 296.1 L201.5 296.4 L202.0 296.7 L202.5 296.8 L203.0 297.5 L203.5 298.2 L204.0 299.6 L204.5 300.9 L205.0 302.8 L205.5 304.2 L206.0 304.9 L206.0 305.4 L205.5 305.6 L205.0 305.7 L204.5 306.0 L204.0 306.7 L203.5 307.1 L203.0 307.2 L202.5 307.2 L202.0 307.3 L201.5 307.4 L201.0 307.4 L200.5 307.5 L200.0 307.5 L199.5 307.5 L199.0 307.5 L198.5 316.0 L198.0 316.0 L197.5 316.0 L197.0 316.0 L196.6 316.0 L196.1 316.0 L195.6 316.0 L195.1 316.0 L194.6 316.0 L194.1 316.0 L193.6 316.0 L193.1 316.0 L192.6 316.0 L192.1 316.0 L191.6 316.0 L191.1 316.0 L190.6 316.0 L190.1 316.0 L189.6 316.0 L189.1 316.0 L188.6 316.0 L188.1 316.0 L187.6 316.0 L187.1 316.0 L186.6 316.0 L186.1 316.0 L185.6 316.0 L185.1 316.0 L184.6 316.0 L184.1 316.0 L183.6 316.0 L183.1 316.0 L182.6 316.0 L182.1 316.0 L181.6 316.0 L181.1 316.0 L180.6 316.0 L180.1 316.0 L179.6 316.0 L179.1 316.0 L178.6 316.0 L178.1 316.0 L177.7 316.0 L177.2 316.0 L176.7 316.0 L176.2 316.0 L175.7 316.0 L175.2 316.0 L174.7 316.0 L174.2 316.0 L173.7 316.0 L173.2 316.0 L172.7 316.0 L172.2 316.0 L171.7 316.0 L171.2 316.0 L170.7 316.0 L170.2 316.0 L169.7 316.0 L169.2 316.0 L168.7 316.0 L168.2 316.0 L167.7 316.0 L167.2 316.0 L166.7 316.0 L166.2 316.0 L165.7 316.0 L165.2 307.7 L164.7 307.7 L164.2 307.7 L163.7 307.7 L163.2 307.7 L162.7 307.7 L162.2 307.7 L161.7 307.7 L161.2 307.7 L160.7 307.7 L160.2 307.7 L159.7 307.7 L159.2 307.7 L158.8 307.7 L158.3 307.7 L157.8 307.7 L157.3 307.7 L156.8 307.7 L156.3 307.7 L155.8 307.7 L155.3 307.7 L154.8 307.7 L154.3 307.7 L153.8 307.7 L153.3 307.7 L152.8 307.7 L152.3 307.7 L151.8 307.7 L151.3 307.7 L150.8 307.7 L150.3 307.7 L149.8 307.7Z" fill="#060606"/>
<path d="M176.2 297.5 V315.3" stroke="#5a5a5a" stroke-width="0.6" fill="none"/>
<path d="M166.9 294.4h.9v.9h-.9zM166.2 293.5h.9v.9h-.9zM179.6 294.7h.9v.9h-.9zM190.3 296.2h.9v.9h-.9zM166.5 295.7h.9v.9h-.9zM189.1 294.6h.9v.9h-.9zM157.9 295.5h.9v.9h-.9zM174.2 296.4h.9v.9h-.9zM175.0 293.2h.9v.9h-.9zM182.1 295.1h.9v.9h-.9zM202.5 294.5h.9v.9h-.9zM193.4 295.7h.9v.9h-.9zM183.7 294.0h.9v.9h-.9zM195.1 295.0h.9v.9h-.9zM170.1 295.5h.9v.9h-.9zM192.0 295.9h.9v.9h-.9zM151.4 298.1h.9v.9h-.9zM201.6 295.3h.9v.9h-.9zM201.2 294.4h.9v.9h-.9zM180.7 294.9h.9v.9h-.9zM171.9 295.8h.9v.9h-.9zM170.4 295.6h.9v.9h-.9zM203.3 297.4h.9v.9h-.9zM181.1 295.3h.9v.9h-.9zM157.5 297.2h.9v.9h-.9zM190.1 296.0h.9v.9h-.9zM164.3 296.3h.9v.9h-.9zM168.7 294.6h.9v.9h-.9zM158.4 297.4h.9v.9h-.9zM168.1 294.7h.9v.9h-.9zM193.4 295.4h.9v.9h-.9zM203.3 297.9h.9v.9h-.9zM152.1 298.0h.9v.9h-.9zM175.5 296.0h.9v.9h-.9zM188.2 295.4h.9v.9h-.9zM163.9 296.1h.9v.9h-.9zM203.8 299.6h.9v.9h-.9zM170.8 295.8h.9v.9h-.9zM161.8 295.4h.9v.9h-.9zM162.9 294.5h.9v.9h-.9zM178.8 295.4h.9v.9h-.9zM159.6 296.3h.9v.9h-.9zM184.7 294.3h.9v.9h-.9zM164.5 295.5h.9v.9h-.9zM198.8 295.1h.9v.9h-.9zM163.3 295.2h.9v.9h-.9zM193.5 295.8h.9v.9h-.9zM188.5 294.7h.9v.9h-.9zM205.4 303.7h.9v.9h-.9zM188.9 295.2h.9v.9h-.9zM191.8 296.2h.9v.9h-.9zM178.7 295.9h.9v.9h-.9zM167.8 295.9h.9v.9h-.9zM163.2 295.2h.9v.9h-.9zM164.7 295.9h.9v.9h-.9zM195.9 295.6h.9v.9h-.9zM203.4 297.6h.9v.9h-.9zM172.4 294.0h.9v.9h-.9zM201.2 295.8h.9v.9h-.9zM157.5 296.3h.9v.9h-.9zM198.1 295.0h.9v.9h-.9zM194.8 295.4h.9v.9h-.9zM185.4 295.3h.9v.9h-.9zM173.4 296.4h.9v.9h-.9zM172.2 295.1h.9v.9h-.9zM196.1 295.7h.9v.9h-.9zM162.0 296.2h.9v.9h-.9zM205.4 303.7h.9v.9h-.9zM153.4 297.5h.9v.9h-.9zM199.8 294.5h.9v.9h-.9zM170.7 295.1h.9v.9h-.9zM167.7 295.9h.9v.9h-.9zM199.4 295.2h.9v.9h-.9zM162.4 294.9h.9v.9h-.9zM151.8 298.2h.9v.9h-.9zM151.1 298.9h.9v.9h-.9zM159.6 295.9h.9v.9h-.9zM167.2 295.4h.9v.9h-.9zM160.8 296.7h.9v.9h-.9zM199.2 296.1h.9v.9h-.9zM156.2 296.8h.9v.9h-.9zM180.8 295.6h.9v.9h-.9zM180.3 295.4h.9v.9h-.9zM195.7 295.6h.9v.9h-.9zM186.4 295.1h.9v.9h-.9zM186.3 295.1h.9v.9h-.9zM173.9 296.3h.9v.9h-.9zM190.9 296.4h.9v.9h-.9zM202.7 296.3h.9v.9h-.9zM198.8 295.9h.9v.9h-.9zM204.5 300.1h.9v.9h-.9zM174.6 295.8h.9v.9h-.9zM184.8 294.6h.9v.9h-.9zM197.9 295.5h.9v.9h-.9zM153.9 298.7h.9v.9h-.9zM155.2 298.3h.9v.9h-.9zM150.9 299.5h.9v.9h-.9zM156.8 296.4h.9v.9h-.9zM185.3 293.6h.9v.9h-.9zM204.8 301.9h.9v.9h-.9zM204.1 299.6h.9v.9h-.9zM163.3 293.9h.9v.9h-.9zM177.3 295.4h.9v.9h-.9zM193.2 295.3h.9v.9h-.9zM181.1 295.7h.9v.9h-.9zM164.1 296.6h.9v.9h-.9zM184.7 293.4h.9v.9h-.9zM206.2 303.9h.9v.9h-.9zM203.2 297.2h.9v.9h-.9zM167.3 293.8h.9v.9h-.9zM184.4 294.8h.9v.9h-.9zM151.1 298.8h.9v.9h-.9zM177.7 294.7h.9v.9h-.9zM197.1 294.3h.9v.9h-.9zM169.6 295.6h.9v.9h-.9zM199.2 293.5h.9v.9h-.9zM177.9 295.5h.9v.9h-.9zM185.7 294.9h.9v.9h-.9zM170.9 295.8h.9v.9h-.9zM172.2 294.7h.9v.9h-.9zM157.6 296.5h.9v.9h-.9zM204.3 299.9h.9v.9h-.9zM164.7 295.6h.9v.9h-.9zM156.2 296.7h.9v.9h-.9zM186.2 295.3h.9v.9h-.9zM181.4 295.1h.9v.9h-.9zM183.1 295.8h.9v.9h-.9zM167.9 295.7h.9v.9h-.9zM206.9 304.6h.9v.9h-.9zM178.8 295.8h.9v.9h-.9zM160.2 296.2h.9v.9h-.9zM162.0 296.1h.9v.9h-.9zM171.2 295.7h.9v.9h-.9zM203.5 298.0h.9v.9h-.9zM169.2 295.2h.9v.9h-.9zM172.9 295.4h.9v.9h-.9zM187.1 295.8h.9v.9h-.9zM188.4 295.4h.9v.9h-.9zM164.6 294.8h.9v.9h-.9zM206.4 304.1h.9v.9h-.9zM160.1 296.2h.9v.9h-.9zM166.4 294.2h.9v.9h-.9zM163.6 296.2h.9v.9h-.9zM186.5 294.8h.9v.9h-.9zM183.8 295.2h.9v.9h-.9zM204.7 300.5h.9v.9h-.9zM203.4 297.9h.9v.9h-.9zM176.7 295.4h.9v.9h-.9zM190.9 295.6h.9v.9h-.9zM163.9 295.8h.9v.9h-.9zM191.5 295.5h.9v.9h-.9zM187.9 295.0h.9v.9h-.9zM190.8 296.3h.9v.9h-.9zM167.8 296.0h.9v.9h-.9zM200.8 295.0h.9v.9h-.9zM172.5 293.5h.9v.9h-.9zM201.5 296.3h.9v.9h-.9zM197.8 294.7h.9v.9h-.9zM168.2 295.3h.9v.9h-.9zM173.8 296.7h.9v.9h-.9zM153.3 298.6h.9v.9h-.9zM167.8 295.9h.9v.9h-.9zM157.3 296.5h.9v.9h-.9zM171.9 295.4h.9v.9h-.9zM184.4 293.7h.9v.9h-.9zM158.7 296.6h.9v.9h-.9zM199.1 295.0h.9v.9h-.9zM203.1 297.0h.9v.9h-.9zM171.2 295.8h.9v.9h-.9zM201.9 295.7h.9v.9h-.9zM181.6 294.6h.9v.9h-.9zM165.2 295.3h.9v.9h-.9zM201.7 296.4h.9v.9h-.9zM185.3 295.8h.9v.9h-.9zM197.8 294.4h.9v.9h-.9zM186.9 295.5h.9v.9h-.9zM151.6 297.9h.9v.9h-.9zM170.7 295.7h.9v.9h-.9zM154.8 296.7h.9v.9h-.9zM179.9 295.5h.9v.9h-.9zM198.1 294.0h.9v.9h-.9zM181.5 295.2h.9v.9h-.9zM198.3 296.0h.9v.9h-.9zM201.4 296.4h.9v.9h-.9zM195.5 295.6h.9v.9h-.9zM185.6 292.2h.9v.9h-.9zM162.8 295.9h.9v.9h-.9zM195.7 295.1h.9v.9h-.9zM180.1 295.1h.9v.9h-.9zM188.7 294.1h.9v.9h-.9zM187.2 295.6h.9v.9h-.9zM166.6 295.8h.9v.9h-.9zM157.4 297.7h.9v.9h-.9zM205.6 304.1h.9v.9h-.9zM184.5 295.5h.9v.9h-.9zM205.1 302.3h.9v.9h-.9zM160.4 295.4h.9v.9h-.9zM199.1 294.1h.9v.9h-.9zM163.0 295.3h.9v.9h-.9zM187.8 295.2h.9v.9h-.9zM208.1 306.8h.9v.9h-.9zM206.4 307.4h.9v.9h-.9zM205.0 306.8h.9v.9h-.9zM206.8 303.9h.9v.9h-.9zM205.2 305.6h.9v.9h-.9zM205.4 303.2h.9v.9h-.9zM207.1 303.7h.9v.9h-.9zM206.4 302.9h.9v.9h-.9zM207.5 304.8h.9v.9h-.9zM206.1 308.9h.9v.9h-.9zM206.5 307.8h.9v.9h-.9zM206.0 302.8h.9v.9h-.9zM188.7 286.3h.9v.9h-.9zM170.3 295.3h.9v.9h-.9zM168.8 291.1h.9v.9h-.9zM192.4 284.8h.9v.9h-.9zM171.1 277.8h.9v.9h-.9zM176.7 279.8h.9v.9h-.9zM189.6 290.8h.9v.9h-.9zM166.7 295.1h.9v.9h-.9zM180.3 279.1h.9v.9h-.9zM197.8 290.9h.9v.9h-.9zM193.2 286.5h.9v.9h-.9zM205.0 296.1h.9v.9h-.9zM162.4 291.6h.9v.9h-.9zM178.8 292.3h.9v.9h-.9zM166.4 288.2h.9v.9h-.9zM175.4 290.7h.9v.9h-.9zM177.2 291.8h.9v.9h-.9zM170.7 288.1h.9v.9h-.9zM186.5 294.4h.9v.9h-.9zM183.3 289.5h.9v.9h-.9zM166.5 293.9h.9v.9h-.9zM187.2 294.6h.9v.9h-.9zM184.7 294.4h.9v.9h-.9zM200.6 290.5h.9v.9h-.9zM200.7 289.7h.9v.9h-.9zM169.9 281.2h.9v.9h-.9zM170.3 293.5h.9v.9h-.9zM202.1 280.9h.9v.9h-.9zM188.0 282.3h.9v.9h-.9zM163.2 294.0h.9v.9h-.9zM178.3 295.3h.9v.9h-.9zM198.7 296.3h.9v.9h-.9zM192.6 294.3h.9v.9h-.9zM178.9 277.0h.9v.9h-.9zM195.6 294.6h.9v.9h-.9zM170.7 284.2h.9v.9h-.9zM164.4 296.0h.9v.9h-.9zM170.7 286.4h.9v.9h-.9zM161.6 287.7h.9v.9h-.9zM162.2 280.6h.9v.9h-.9zM160.6 294.5h.9v.9h-.9zM190.9 285.6h.9v.9h-.9zM178.4 296.2h.9v.9h-.9zM162.4 276.2h.9v.9h-.9zM189.0 280.6h.9v.9h-.9zM197.7 287.1h.9v.9h-.9zM191.4 295.2h.9v.9h-.9zM200.0 287.0h.9v.9h-.9zM193.8 283.0h.9v.9h-.9zM170.7 295.7h.9v.9h-.9zM201.1 293.3h.9v.9h-.9zM174.2 295.2h.9v.9h-.9zM166.3 295.0h.9v.9h-.9zM158.9 296.7h.9v.9h-.9zM174.5 292.9h.9v.9h-.9zM171.0 291.9h.9v.9h-.9zM170.3 295.4h.9v.9h-.9zM193.9 286.5h.9v.9h-.9zM172.1 286.8h.9v.9h-.9zM194.6 294.6h.9v.9h-.9zM193.4 294.3h.9v.9h-.9zM202.3 289.5h.9v.9h-.9zM164.2 293.4h.9v.9h-.9zM181.1 294.9h.9v.9h-.9zM163.3 294.2h.9v.9h-.9zM164.1 292.2h.9v.9h-.9zM164.4 296.3h.9v.9h-.9zM192.4 285.1h.9v.9h-.9zM191.3 292.5h.9v.9h-.9zM176.1 295.7h.9v.9h-.9zM202.9 289.1h.9v.9h-.9zM204.7 300.4h.9v.9h-.9zM202.4 290.3h.9v.9h-.9zM186.7 290.6h.9v.9h-.9zM194.9 291.7h.9v.9h-.9zM185.3 289.4h.9v.9h-.9zM201.4 286.9h.9v.9h-.9zM166.2 290.6h.9v.9h-.9zM181.6 294.5h.9v.9h-.9zM164.8 288.7h.9v.9h-.9zM161.2 292.0h.9v.9h-.9zM166.0 288.7h.9v.9h-.9zM175.2 287.3h.9v.9h-.9zM165.2 293.7h.9v.9h-.9zM189.5 289.5h.9v.9h-.9zM176.7 287.7h.9v.9h-.9zM188.1 295.6h.9v.9h-.9zM185.9 289.7h.9v.9h-.9zM178.6 295.1h.9v.9h-.9zM166.8 278.6h.9v.9h-.9zM162.4 292.8h.9v.9h-.9zM188.4 283.5h.9v.9h-.9zM175.5 294.7h.9v.9h-.9zM160.7 288.6h.9v.9h-.9zM186.7 293.1h.9v.9h-.9zM182.7 293.6h.9v.9h-.9zM199.2 295.0h.9v.9h-.9zM176.6 281.1h.9v.9h-.9zM193.9 289.1h.9v.9h-.9zM184.6 291.3h.9v.9h-.9zM193.9 293.0h.9v.9h-.9zM159.9 291.6h.9v.9h-.9zM190.9 296.2h.9v.9h-.9zM167.2 294.6h.9v.9h-.9zM203.7 295.2h.9v.9h-.9zM157.2 290.6h.9v.9h-.9zM197.6 294.4h.9v.9h-.9zM204.1 291.8h.9v.9h-.9zM169.5 294.7h.9v.9h-.9zM161.6 291.3h.9v.9h-.9zM184.3 291.0h.9v.9h-.9zM192.1 295.0h.9v.9h-.9zM186.7 288.2h.9v.9h-.9zM195.9 283.2h.9v.9h-.9zM173.8 290.6h.9v.9h-.9zM195.5 291.5h.9v.9h-.9zM171.6 281.8h.9v.9h-.9zM178.7 292.2h.9v.9h-.9zM191.0 288.1h.9v.9h-.9zM162.2 283.0h.9v.9h-.9zM176.6 293.1h.9v.9h-.9zM191.8 287.1h.9v.9h-.9zM167.6 284.2h.9v.9h-.9zM192.4 295.1h.9v.9h-.9zM194.4 294.9h.9v.9h-.9zM185.8 290.6h.9v.9h-.9zM188.4 287.7h.9v.9h-.9zM168.5 285.9h.9v.9h-.9zM167.3 287.0h.9v.9h-.9zM193.6 293.8h.9v.9h-.9zM168.1 280.4h.9v.9h-.9zM169.9 279.8h.9v.9h-.9zM196.5 294.0h.9v.9h-.9zM192.8 296.0h.9v.9h-.9zM186.7 285.1h.9v.9h-.9zM180.0 291.5h.9v.9h-.9zM193.1 292.2h.9v.9h-.9zM189.0 285.4h.9v.9h-.9zM169.2 283.2h.9v.9h-.9zM192.5 292.1h.9v.9h-.9zM185.5 292.5h.9v.9h-.9zM177.2 288.4h.9v.9h-.9zM189.8 290.1h.9v.9h-.9zM180.1 291.7h.9v.9h-.9zM175.7 290.8h.9v.9h-.9zM161.1 292.8h.9v.9h-.9zM185.8 289.1h.9v.9h-.9zM168.1 278.3h.9v.9h-.9zM190.3 295.5h.9v.9h-.9zM169.6 289.8h.9v.9h-.9zM193.9 294.3h.9v.9h-.9zM164.1 282.9h.9v.9h-.9zM174.3 289.5h.9v.9h-.9zM169.5 295.0h.9v.9h-.9zM183.7 294.3h.9v.9h-.9zM195.3 291.9h.9v.9h-.9zM183.3 291.0h.9v.9h-.9zM176.2 288.7h.9v.9h-.9zM167.7 289.8h.9v.9h-.9zM172.5 276.3h.9v.9h-.9zM197.6 282.0h.9v.9h-.9zM182.0 284.3h.9v.9h-.9zM178.4 292.7h.9v.9h-.9zM159.6 296.7h.9v.9h-.9zM160.4 291.2h.9v.9h-.9zM191.5 295.2h.9v.9h-.9zM199.1 281.3h.9v.9h-.9zM198.0 287.0h.9v.9h-.9zM190.8 296.0h.9v.9h-.9zM205.6 297.9h.9v.9h-.9zM181.0 292.9h.9v.9h-.9zM179.7 295.3h.9v.9h-.9zM175.9 288.3h.9v.9h-.9zM180.7 276.3h.9v.9h-.9zM181.8 285.9h.9v.9h-.9zM177.4 283.1h.9v.9h-.9zM186.1 282.9h.9v.9h-.9zM180.8 278.9h.9v.9h-.9zM197.1 291.9h.9v.9h-.9zM175.8 289.5h.9v.9h-.9zM181.0 295.9h.9v.9h-.9zM185.6 293.6h.9v.9h-.9zM186.4 294.2h.9v.9h-.9zM172.7 294.9h.9v.9h-.9zM200.7 295.5h.9v.9h-.9zM175.8 288.3h.9v.9h-.9zM196.9 294.5h.9v.9h-.9zM180.9 291.3h.9v.9h-.9zM189.3 283.4h.9v.9h-.9zM178.3 294.4h.9v.9h-.9zM201.1 292.4h.9v.9h-.9zM187.1 290.2h.9v.9h-.9zM177.7 295.5h.9v.9h-.9zM180.7 287.7h.9v.9h-.9zM175.4 279.9h.9v.9h-.9zM167.8 287.8h.9v.9h-.9zM182.5 295.1h.9v.9h-.9zM197.7 292.7h.9v.9h-.9zM173.2 291.4h.9v.9h-.9zM200.3 295.1h.9v.9h-.9zM174.9 295.5h.9v.9h-.9zM201.7 293.4h.9v.9h-.9zM163.0 278.7h.9v.9h-.9zM165.1 281.5h.9v.9h-.9zM179.3 278.8h.9v.9h-.9zM192.3 295.0h.9v.9h-.9zM185.9 294.6h.9v.9h-.9zM160.0 294.0h.9v.9h-.9zM187.1 294.0h.9v.9h-.9zM194.0 292.6h.9v.9h-.9zM198.8 296.4h.9v.9h-.9zM199.5 290.3h.9v.9h-.9zM195.2 290.2h.9v.9h-.9zM188.1 294.0h.9v.9h-.9zM198.7 294.5h.9v.9h-.9zM171.4 284.4h.9v.9h-.9zM159.8 281.9h.9v.9h-.9zM160.0 294.6h.9v.9h-.9zM172.3 290.3h.9v.9h-.9zM170.9 295.2h.9v.9h-.9zM202.0 291.1h.9v.9h-.9zM197.4 292.2h.9v.9h-.9zM174.1 289.6h.9v.9h-.9zM180.4 281.2h.9v.9h-.9zM177.7 294.5h.9v.9h-.9zM181.5 286.9h.9v.9h-.9zM159.6 287.8h.9v.9h-.9zM168.4 287.7h.9v.9h-.9zM165.0 286.7h.9v.9h-.9zM188.7 289.3h.9v.9h-.9zM174.7 283.1h.9v.9h-.9zM189.5 292.6h.9v.9h-.9zM193.7 282.2h.9v.9h-.9zM204.0 292.3h.9v.9h-.9zM168.4 292.7h.9v.9h-.9zM167.1 289.1h.9v.9h-.9zM176.5 290.4h.9v.9h-.9zM200.7 294.2h.9v.9h-.9zM174.4 295.0h.9v.9h-.9zM172.4 289.4h.9v.9h-.9zM162.2 293.7h.9v.9h-.9zM195.5 285.9h.9v.9h-.9zM177.8 287.8h.9v.9h-.9zM195.1 287.5h.9v.9h-.9zM160.7 291.0h.9v.9h-.9zM186.7 294.6h.9v.9h-.9zM194.8 293.4h.9v.9h-.9zM158.9 294.0h.9v.9h-.9zM180.8 295.2h.9v.9h-.9zM168.2 282.2h.9v.9h-.9zM203.8 296.2h.9v.9h-.9zM197.3 284.5h.9v.9h-.9zM185.9 289.9h.9v.9h-.9zM164.5 286.0h.9v.9h-.9zM201.0 285.3h.9v.9h-.9zM196.6 295.2h.9v.9h-.9zM195.0 295.2h.9v.9h-.9zM179.7 291.0h.9v.9h-.9zM165.4 276.1h.9v.9h-.9zM202.7 293.8h.9v.9h-.9zM160.3 293.3h.9v.9h-.9zM194.7 291.8h.9v.9h-.9zM172.4 284.6h.9v.9h-.9zM194.2 294.6h.9v.9h-.9zM177.9 293.4h.9v.9h-.9zM170.6 283.5h.9v.9h-.9zM157.7 291.6h.9v.9h-.9zM180.5 276.6h.9v.9h-.9zM172.3 285.3h.9v.9h-.9zM157.0 288.4h.9v.9h-.9zM177.6 293.3h.9v.9h-.9zM182.1 293.0h.9v.9h-.9zM161.6 288.1h.9v.9h-.9zM194.8 294.5h.9v.9h-.9zM171.1 285.9h.9v.9h-.9zM176.6 291.6h.9v.9h-.9zM160.9 287.5h.9v.9h-.9zM163.5 288.9h.9v.9h-.9zM188.6 279.0h.9v.9h-.9zM171.3 288.9h.9v.9h-.9zM159.8 294.0h.9v.9h-.9zM200.8 289.2h.9v.9h-.9zM181.3 295.0h.9v.9h-.9zM162.2 293.4h.9v.9h-.9zM169.6 288.2h.9v.9h-.9zM167.6 292.2h.9v.9h-.9zM160.9 288.6h.9v.9h-.9zM178.9 288.7h.9v.9h-.9zM200.7 294.4h.9v.9h-.9zM157.2 297.2h.9v.9h-.9zM196.2 286.2h.9v.9h-.9zM160.5 290.4h.9v.9h-.9zM160.2 296.5h.9v.9h-.9zM177.0 292.3h.9v.9h-.9zM197.1 286.7h.9v.9h-.9zM203.1 296.0h.9v.9h-.9zM166.3 286.1h.9v.9h-.9zM177.3 289.2h.9v.9h-.9zM195.9 293.3h.9v.9h-.9zM198.0 295.3h.9v.9h-.9zM170.8 295.5h.9v.9h-.9zM162.7 283.7h.9v.9h-.9zM199.3 294.6h.9v.9h-.9zM198.4 286.7h.9v.9h-.9zM171.1 293.5h.9v.9h-.9zM175.7 281.1h.9v.9h-.9zM190.8 295.8h.9v.9h-.9zM195.1 294.0h.9v.9h-.9zM195.2 291.8h.9v.9h-.9zM183.5 291.5h.9v.9h-.9zM184.9 293.8h.9v.9h-.9zM181.7 287.9h.9v.9h-.9zM172.6 295.6h.9v.9h-.9zM165.9 295.0h.9v.9h-.9zM200.1 295.1h.9v.9h-.9zM203.2 294.4h.9v.9h-.9zM189.0 294.8h.9v.9h-.9zM168.7 294.9h.9v.9h-.9zM157.6 293.9h.9v.9h-.9zM171.9 288.3h.9v.9h-.9zM168.3 293.6h.9v.9h-.9zM163.6 281.3h.9v.9h-.9zM176.0 294.4h.9v.9h-.9zM197.8 279.2h.9v.9h-.9zM160.2 293.3h.9v.9h-.9zM193.9 282.4h.9v.9h-.9zM174.5 278.6h.9v.9h-.9zM170.9 281.8h.9v.9h-.9zM161.7 285.5h.9v.9h-.9zM190.1 294.8h.9v.9h-.9zM171.1 293.9h.9v.9h-.9zM181.0 285.8h.9v.9h-.9zM189.3 292.1h.9v.9h-.9zM167.0 289.4h.9v.9h-.9zM186.2 277.0h.9v.9h-.9zM167.5 293.6h.9v.9h-.9zM203.2 294.1h.9v.9h-.9zM196.9 294.8h.9v.9h-.9zM182.0 291.4h.9v.9h-.9zM184.8 286.2h.9v.9h-.9zM179.4 283.3h.9v.9h-.9zM164.4 288.9h.9v.9h-.9zM177.6 295.1h.9v.9h-.9zM197.2 289.1h.9v.9h-.9zM180.0 292.3h.9v.9h-.9zM155.8 291.1h.9v.9h-.9zM167.2 283.5h.9v.9h-.9zM196.5 294.1h.9v.9h-.9zM196.4 289.4h.9v.9h-.9zM168.8 291.6h.9v.9h-.9zM174.6 280.0h.9v.9h-.9zM164.8 293.7h.9v.9h-.9zM195.3 290.3h.9v.9h-.9zM168.8 287.8h.9v.9h-.9zM177.8 279.0h.9v.9h-.9zM167.0 293.8h.9v.9h-.9zM183.1 291.9h.9v.9h-.9zM164.8 294.3h.9v.9h-.9zM167.2 279.7h.9v.9h-.9zM178.4 289.8h.9v.9h-.9zM200.0 280.3h.9v.9h-.9zM188.9 291.4h.9v.9h-.9zM195.3 294.1h.9v.9h-.9zM173.5 282.3h.9v.9h-.9zM169.8 283.8h.9v.9h-.9zM181.0 273.4h.9v.9h-.9zM173.5 286.3h.9v.9h-.9zM181.7 281.8h.9v.9h-.9zM200.7 281.4h.9v.9h-.9zM198.5 289.9h.9v.9h-.9zM182.4 295.6h.9v.9h-.9zM200.1 291.0h.9v.9h-.9zM176.1 291.9h.9v.9h-.9zM176.6 294.7h.9v.9h-.9zM189.8 294.0h.9v.9h-.9zM172.4 276.8h.9v.9h-.9zM190.0 276.7h.9v.9h-.9zM195.1 294.8h.9v.9h-.9zM198.7 285.0h.9v.9h-.9zM170.8 293.0h.9v.9h-.9zM170.1 293.9h.9v.9h-.9zM190.9 288.1h.9v.9h-.9zM183.7 287.4h.9v.9h-.9zM164.8 295.1h.9v.9h-.9zM184.4 278.1h.9v.9h-.9zM191.8 287.7h.9v.9h-.9zM197.3 290.6h.9v.9h-.9zM184.0 291.2h.9v.9h-.9zM155.5 295.9h.9v.9h-.9zM204.8 301.4h.9v.9h-.9zM189.5 291.1h.9v.9h-.9zM201.8 293.9h.9v.9h-.9zM171.2 289.6h.9v.9h-.9zM159.9 290.6h.9v.9h-.9zM167.1 285.0h.9v.9h-.9zM176.8 275.2h.9v.9h-.9zM168.0 290.5h.9v.9h-.9zM169.3 287.8h.9v.9h-.9zM198.8 295.8h.9v.9h-.9zM191.5 294.2h.9v.9h-.9zM195.4 292.4h.9v.9h-.9zM167.3 285.9h.9v.9h-.9zM180.9 292.4h.9v.9h-.9zM171.4 294.7h.9v.9h-.9zM182.8 287.0h.9v.9h-.9zM166.1 290.3h.9v.9h-.9zM194.0 295.8h.9v.9h-.9zM175.1 295.9h.9v.9h-.9zM162.7 285.2h.9v.9h-.9zM163.0 288.7h.9v.9h-.9zM186.6 280.7h.9v.9h-.9zM201.5 293.3h.9v.9h-.9zM162.3 296.0h.9v.9h-.9zM202.3 295.1h.9v.9h-.9zM166.5 288.1h.9v.9h-.9zM162.2 279.3h.9v.9h-.9zM175.2 294.0h.9v.9h-.9zM180.3 293.8h.9v.9h-.9zM179.6 281.4h.9v.9h-.9zM176.4 295.2h.9v.9h-.9zM168.2 294.5h.9v.9h-.9zM165.2 277.0h.9v.9h-.9zM160.4 294.4h.9v.9h-.9zM156.6 291.2h.9v.9h-.9zM173.0 285.0h.9v.9h-.9zM184.4 293.3h.9v.9h-.9zM157.2 295.1h.9v.9h-.9zM166.6 295.4h.9v.9h-.9zM180.3 290.3h.9v.9h-.9zM178.4 284.2h.9v.9h-.9zM199.6 283.3h.9v.9h-.9zM203.1 289.2h.9v.9h-.9zM156.1 294.7h.9v.9h-.9zM172.7 286.1h.9v.9h-.9zM176.3 295.5h.9v.9h-.9zM174.3 294.4h.9v.9h-.9zM171.4 283.3h.9v.9h-.9zM175.8 292.7h.9v.9h-.9zM164.2 294.5h.9v.9h-.9zM182.4 280.2h.9v.9h-.9zM171.1 295.5h.9v.9h-.9zM195.9 287.3h.9v.9h-.9zM205.5 298.5h.9v.9h-.9zM181.2 292.7h.9v.9h-.9zM167.7 290.1h.9v.9h-.9zM163.1 295.5h.9v.9h-.9zM196.1 292.6h.9v.9h-.9zM189.8 290.8h.9v.9h-.9zM163.1 288.7h.9v.9h-.9zM172.5 279.8h.9v.9h-.9zM200.7 277.9h.9v.9h-.9zM187.1 278.8h.9v.9h-.9zM163.8 294.8h.9v.9h-.9zM156.9 290.9h.9v.9h-.9zM173.9 289.1h.9v.9h-.9zM169.5 286.5h.9v.9h-.9zM182.6 291.8h.9v.9h-.9zM166.2 292.2h.9v.9h-.9zM197.2 280.1h.9v.9h-.9zM165.9 292.0h.9v.9h-.9zM197.4 288.5h.9v.9h-.9zM184.5 292.9h.9v.9h-.9zM161.5 293.2h.9v.9h-.9zM192.6 294.8h.9v.9h-.9zM181.8 295.3h.9v.9h-.9zM184.0 293.8h.9v.9h-.9zM164.6 289.4h.9v.9h-.9zM174.5 281.5h.9v.9h-.9zM184.5 286.7h.9v.9h-.9zM167.4 287.4h.9v.9h-.9zM177.9 276.6h.9v.9h-.9zM192.3 294.3h.9v.9h-.9zM188.5 292.9h.9v.9h-.9zM159.2 296.0h.9v.9h-.9zM173.0 280.7h.9v.9h-.9zM167.9 292.3h.9v.9h-.9zM161.6 294.1h.9v.9h-.9zM197.7 288.4h.9v.9h-.9zM183.8 294.4h.9v.9h-.9zM158.5 291.3h.9v.9h-.9zM171.6 288.7h.9v.9h-.9zM193.0 293.1h.9v.9h-.9zM166.2 293.0h.9v.9h-.9zM200.3 287.4h.9v.9h-.9zM194.3 294.8h.9v.9h-.9zM168.0 277.3h.9v.9h-.9zM201.1 295.7h.9v.9h-.9zM180.7 283.1h.9v.9h-.9zM177.9 284.5h.9v.9h-.9zM182.6 295.5h.9v.9h-.9zM168.8 294.2h.9v.9h-.9zM177.0 294.4h.9v.9h-.9zM203.9 290.3h.9v.9h-.9zM161.4 284.6h.9v.9h-.9zM183.9 285.9h.9v.9h-.9zM172.5 287.8h.9v.9h-.9zM171.7 275.3h.9v.9h-.9zM188.2 293.7h.9v.9h-.9zM169.0 289.7h.9v.9h-.9zM175.1 284.1h.9v.9h-.9zM179.4 283.2h.9v.9h-.9zM166.5 283.0h.9v.9h-.9zM187.1 293.3h.9v.9h-.9zM202.3 278.7h.9v.9h-.9zM170.2 273.9h.9v.9h-.9zM183.2 284.1h.9v.9h-.9zM177.3 292.1h.9v.9h-.9zM186.8 270.8h.9v.9h-.9zM193.1 294.5h.9v.9h-.9zM203.3 297.8h.9v.9h-.9zM198.3 291.6h.9v.9h-.9zM161.0 291.9h.9v.9h-.9zM162.4 290.7h.9v.9h-.9zM178.6 292.6h.9v.9h-.9zM176.2 285.4h.9v.9h-.9zM192.8 289.8h.9v.9h-.9zM175.9 275.1h.9v.9h-.9zM192.8 291.2h.9v.9h-.9zM188.4 295.2h.9v.9h-.9zM174.4 290.8h.9v.9h-.9zM192.2 279.3h.9v.9h-.9zM169.6 288.6h.9v.9h-.9zM198.4 293.5h.9v.9h-.9zM173.5 291.5h.9v.9h-.9zM175.2 274.7h.9v.9h-.9zM169.1 278.2h.9v.9h-.9zM170.0 282.8h.9v.9h-.9zM173.3 286.2h.9v.9h-.9zM164.3 289.4h.9v.9h-.9zM185.6 292.5h.9v.9h-.9zM196.0 280.5h.9v.9h-.9zM168.0 281.9h.9v.9h-.9zM159.6 289.9h.9v.9h-.9zM194.4 288.5h.9v.9h-.9zM192.7 278.1h.9v.9h-.9zM180.0 294.0h.9v.9h-.9zM189.7 285.9h.9v.9h-.9zM182.1 291.6h.9v.9h-.9zM163.3 287.1h.9v.9h-.9zM167.1 288.8h.9v.9h-.9zM170.5 278.1h.9v.9h-.9zM202.9 286.6h.9v.9h-.9zM206.1 295.7h.9v.9h-.9zM197.8 285.5h.9v.9h-.9zM176.7 294.9h.9v.9h-.9zM187.9 291.4h.9v.9h-.9zM183.9 292.2h.9v.9h-.9zM198.4 286.5h.9v.9h-.9zM199.3 294.4h.9v.9h-.9zM178.1 294.4h.9v.9h-.9zM169.9 294.5h.9v.9h-.9zM193.0 286.9h.9v.9h-.9zM176.7 295.3h.9v.9h-.9zM195.6 292.1h.9v.9h-.9zM183.2 283.4h.9v.9h-.9zM172.8 274.4h.9v.9h-.9zM168.9 281.2h.9v.9h-.9zM192.0 286.3h.9v.9h-.9zM177.3 288.2h.9v.9h-.9zM190.8 272.0h.9v.9h-.9zM196.4 279.4h.9v.9h-.9zM199.0 286.1h.9v.9h-.9zM195.4 292.4h.9v.9h-.9zM202.2 294.6h.9v.9h-.9zM188.5 290.1h.9v.9h-.9zM193.2 279.0h.9v.9h-.9zM187.4 287.8h.9v.9h-.9zM191.8 280.0h.9v.9h-.9zM196.0 292.7h.9v.9h-.9zM184.8 286.4h.9v.9h-.9zM200.8 293.7h.9v.9h-.9zM179.4 289.4h.9v.9h-.9zM172.0 280.5h.9v.9h-.9zM165.6 294.0h.9v.9h-.9zM188.6 293.0h.9v.9h-.9zM199.1 280.0h.9v.9h-.9zM188.2 284.2h.9v.9h-.9zM203.0 295.5h.9v.9h-.9zM170.2 278.2h.9v.9h-.9zM157.5 295.5h.9v.9h-.9zM185.8 281.4h.9v.9h-.9zM187.4 294.9h.9v.9h-.9zM179.1 291.4h.9v.9h-.9zM169.7 291.7h.9v.9h-.9zM201.5 294.9h.9v.9h-.9zM191.8 289.0h.9v.9h-.9zM178.6 291.8h.9v.9h-.9zM179.7 290.3h.9v.9h-.9zM182.5 274.3h.9v.9h-.9zM188.5 275.8h.9v.9h-.9zM190.6 285.7h.9v.9h-.9zM163.8 283.9h.9v.9h-.9zM196.0 289.7h.9v.9h-.9zM168.0 286.7h.9v.9h-.9zM194.0 288.6h.9v.9h-.9zM160.1 280.3h.9v.9h-.9zM175.2 287.5h.9v.9h-.9zM185.5 279.5h.9v.9h-.9zM199.7 284.7h.9v.9h-.9zM202.3 291.4h.9v.9h-.9zM181.1 294.1h.9v.9h-.9zM167.9 283.8h.9v.9h-.9zM201.3 290.1h.9v.9h-.9zM202.3 279.1h.9v.9h-.9zM186.9 285.4h.9v.9h-.9zM169.0 283.3h.9v.9h-.9zM189.0 290.1h.9v.9h-.9zM186.1 283.0h.9v.9h-.9zM177.6 292.1h.9v.9h-.9zM204.4 286.1h.9v.9h-.9zM199.4 291.3h.9v.9h-.9zM173.9 283.2h.9v.9h-.9zM180.6 295.9h.9v.9h-.9zM171.9 280.6h.9v.9h-.9zM201.0 288.7h.9v.9h-.9zM204.9 301.9h.9v.9h-.9zM195.5 290.3h.9v.9h-.9zM172.8 295.8h.9v.9h-.9zM193.8 295.0h.9v.9h-.9zM199.2 296.2h.9v.9h-.9zM158.0 290.5h.9v.9h-.9zM190.7 292.3h.9v.9h-.9zM191.1 283.8h.9v.9h-.9zM197.1 292.5h.9v.9h-.9zM186.9 275.3h.9v.9h-.9zM185.4 294.4h.9v.9h-.9zM190.2 275.3h.9v.9h-.9zM195.6 288.9h.9v.9h-.9zM176.6 269.3h.9v.9h-.9zM157.5 295.8h.9v.9h-.9z" fill="#161616"/>
<path d="M195.9 312.5h1v.9h-1zM196.0 313.4h1v.9h-1zM195.8 313.0h1v.9h-1zM172.9 313.2h1v.9h-1zM193.9 311.9h1v.9h-1zM185.4 312.1h1v.9h-1zM191.7 315.4h1v.9h-1zM173.8 312.0h1v.9h-1zM195.4 314.7h1v.9h-1zM169.5 312.9h1v.9h-1zM180.5 311.7h1v.9h-1zM191.5 315.3h1v.9h-1zM183.0 314.1h1v.9h-1zM168.3 312.1h1v.9h-1zM179.8 314.5h1v.9h-1zM179.0 312.9h1v.9h-1zM194.8 315.1h1v.9h-1zM191.6 313.9h1v.9h-1zM182.8 315.4h1v.9h-1zM174.7 312.3h1v.9h-1zM191.3 314.1h1v.9h-1zM188.2 315.1h1v.9h-1zM190.3 312.9h1v.9h-1zM193.5 314.2h1v.9h-1zM172.4 313.2h1v.9h-1zM192.0 313.1h1v.9h-1zM187.8 312.8h1v.9h-1zM185.4 315.3h1v.9h-1zM168.3 314.4h1v.9h-1zM191.4 314.8h1v.9h-1zM183.2 314.7h1v.9h-1zM184.7 314.7h1v.9h-1zM176.6 314.0h1v.9h-1zM175.6 312.0h1v.9h-1zM194.3 314.6h1v.9h-1zM174.1 313.0h1v.9h-1zM179.8 312.7h1v.9h-1zM168.7 312.8h1v.9h-1zM185.5 312.4h1v.9h-1zM169.3 315.3h1v.9h-1zM191.8 312.8h1v.9h-1zM174.6 313.7h1v.9h-1zM191.4 314.3h1v.9h-1zM186.8 315.3h1v.9h-1zM171.0 311.8h1v.9h-1zM183.6 315.4h1v.9h-1zM173.3 315.3h1v.9h-1zM187.6 315.3h1v.9h-1zM178.4 314.6h1v.9h-1zM195.3 314.8h1v.9h-1zM175.4 314.2h1v.9h-1zM189.5 311.7h1v.9h-1zM184.2 315.4h1v.9h-1zM191.4 315.3h1v.9h-1zM180.2 314.8h1v.9h-1zM191.1 314.5h1v.9h-1zM180.6 315.4h1v.9h-1zM175.4 311.6h1v.9h-1zM169.0 315.4h1v.9h-1zM185.6 313.9h1v.9h-1zM173.7 315.2h1v.9h-1zM185.0 315.1h1v.9h-1zM177.4 315.1h1v.9h-1zM191.7 312.7h1v.9h-1zM191.8 314.4h1v.9h-1zM179.0 314.2h1v.9h-1zM173.3 311.8h1v.9h-1zM174.4 312.7h1v.9h-1zM186.9 315.2h1v.9h-1zM192.2 313.5h1v.9h-1z" fill="#fff"/>
<rect x="149.80" y="310.20" width="16.10" height="5.90" fill="#cbcbcb" stroke="#999" stroke-width="0.4"/>
<rect x="199.00" y="310.20" width="15.40" height="5.90" fill="#ececec" stroke="#aaa" stroke-width="0.4"/>
<text x="150.40" y="256.60" font-size="5.7" text-anchor="start" fill="#6a6a6a">1.02</text>
<text x="213.20" y="256.60" font-size="5.7" text-anchor="end" fill="#6a6a6a">1.46</text>
<text x="150.60" y="315.00" font-size="5.7" text-anchor="start" fill="#5c5c5c">70.14</text>
<text x="213.80" y="315.00" font-size="5.7" text-anchor="end" fill="#5c5c5c">27.38</text>
<rect x="149.4" y="251.5" width="65.40" height="64.80" fill="none" stroke="#bcbcbc" stroke-width="0.7"/>
</g>
<g>
<rect x="239.7" y="251.9" width="64.30" height="64.10" fill="#fff" stroke="#bcbcbc" stroke-width="0.7"/>
<path d="M266.2 251.9 V316.0 M239.7 295.4 H304.0" stroke="#c8c8c8" stroke-width="0.7" fill="none"/>
<path d="M255.77 316.0 v-1.6 M239.7 299.98 h1.6 M271.85 316.0 v-1.6 M239.7 283.95 h1.6 M287.93 316.0 v-1.6 M239.7 267.93 h1.6" stroke="#999" stroke-width="0.6" fill="none"/>
<text x="237.30" y="320.80" font-size="3.3" fill="#b8b8b8">10<tspan dy="-1.3" font-size="2.3">0</tspan></text>
<text x="233.10" y="317.00" font-size="3.3" fill="#b8b8b8">10<tspan dy="-1.3" font-size="2.3">0</tspan></text>
<text x="253.37" y="320.80" font-size="3.3" fill="#b8b8b8">10<tspan dy="-1.3" font-size="2.3">1</tspan></text>
<text x="233.10" y="300.98" font-size="3.3" fill="#b8b8b8">10<tspan dy="-1.3" font-size="2.3">1</tspan></text>
<text x="269.45" y="320.80" font-size="3.3" fill="#b8b8b8">10<tspan dy="-1.3" font-size="2.3">2</tspan></text>
<text x="233.10" y="284.95" font-size="3.3" fill="#b8b8b8">10<tspan dy="-1.3" font-size="2.3">2</tspan></text>
<text x="285.53" y="320.80" font-size="3.3" fill="#b8b8b8">10<tspan dy="-1.3" font-size="2.3">3</tspan></text>
<text x="233.10" y="268.93" font-size="3.3" fill="#b8b8b8">10<tspan dy="-1.3" font-size="2.3">3</tspan></text>
<text x="271.85" y="326.20" font-size="2.9" text-anchor="middle" fill="#999">FL1-H</text>
<text transform="translate(227.10 284.95) rotate(-90)" font-size="2.9" text-anchor="middle" fill="#999">FL2-H</text>
<path d="M240.1 300.6 L240.6 300.8 L241.1 300.9 L241.6 301.0 L242.1 300.3 L242.6 300.0 L243.1 299.6 L243.6 299.4 L244.1 299.9 L244.6 299.4 L245.1 299.5 L245.6 299.2 L246.1 299.0 L246.6 299.0 L247.1 299.4 L247.6 299.4 L248.0 298.6 L248.5 298.5 L249.0 298.2 L249.5 298.8 L250.0 299.0 L250.5 299.1 L251.0 299.1 L251.5 299.0 L252.0 299.1 L252.5 298.9 L253.0 298.2 L253.5 298.5 L254.0 298.2 L254.5 298.4 L255.0 298.3 L255.5 298.1 L256.0 297.9 L256.5 297.9 L257.0 297.7 L257.5 297.4 L258.0 298.0 L258.5 298.3 L259.0 298.7 L259.5 298.6 L260.0 298.4 L260.5 298.5 L261.0 297.9 L261.5 298.1 L262.0 298.0 L262.5 297.6 L262.9 297.5 L263.4 297.7 L263.9 297.6 L264.4 297.7 L264.9 298.0 L265.4 297.9 L265.9 297.5 L266.4 297.7 L266.9 297.6 L267.4 297.5 L267.9 297.4 L268.4 297.5 L268.9 297.3 L269.4 297.8 L269.9 298.4 L270.4 298.1 L270.9 298.3 L271.4 298.6 L271.9 297.8 L272.4 297.5 L272.9 298.1 L273.4 298.4 L273.9 298.4 L274.4 297.8 L274.9 297.8 L275.4 298.3 L275.9 298.6 L276.4 298.7 L276.9 298.0 L277.4 298.4 L277.8 298.1 L278.3 298.3 L278.8 297.8 L279.3 298.4 L279.8 298.3 L280.3 298.4 L280.8 297.9 L281.3 298.1 L281.8 298.1 L282.3 298.2 L282.8 297.9 L283.3 298.2 L283.8 297.9 L284.3 297.7 L284.8 297.5 L285.3 297.9 L285.8 297.5 L286.3 297.4 L286.8 297.2 L287.3 297.7 L287.8 297.9 L288.3 298.0 L288.8 297.5 L289.3 297.7 L289.8 297.6 L290.3 297.4 L290.8 297.1 L291.3 298.1 L291.8 297.8 L292.3 297.9 L292.7 298.0 L293.2 298.5 L293.7 298.4 L294.2 298.8 L294.7 299.1 L295.2 299.9 L295.7 299.5 L296.2 299.8 L296.7 300.3 L297.2 301.3 L297.7 301.4 L298.2 301.9 L298.7 303.0 L299.2 303.5 L299.7 304.0 L300.2 304.9 L300.2 305.5 L299.7 305.6 L299.2 306.1 L298.7 306.5 L298.2 306.9 L297.7 307.2 L297.2 307.3 L296.7 307.3 L296.2 307.4 L295.7 307.4 L295.2 307.5 L294.7 307.5 L294.2 307.6 L293.7 307.6 L293.2 307.7 L292.7 307.7 L292.3 307.7 L291.8 307.7 L291.3 307.8 L290.8 307.8 L290.3 307.8 L289.8 307.8 L289.3 307.8 L288.8 315.7 L288.3 315.7 L287.8 315.7 L287.3 315.7 L286.8 315.7 L286.3 315.7 L285.8 315.7 L285.3 315.7 L284.8 315.7 L284.3 315.7 L283.8 315.7 L283.3 315.7 L282.8 315.7 L282.3 315.7 L281.8 315.7 L281.3 315.7 L280.8 315.7 L280.3 315.7 L279.8 315.7 L279.3 315.7 L278.8 315.7 L278.3 315.7 L277.8 315.7 L277.4 315.7 L276.9 315.7 L276.4 315.7 L275.9 315.7 L275.4 315.7 L274.9 315.7 L274.4 315.7 L273.9 315.7 L273.4 315.7 L272.9 315.7 L272.4 315.7 L271.9 315.7 L271.4 315.7 L270.9 315.7 L270.4 315.7 L269.9 315.7 L269.4 315.7 L268.9 315.7 L268.4 315.7 L267.9 315.7 L267.4 315.7 L266.9 315.7 L266.4 315.7 L265.9 315.7 L265.4 315.7 L264.9 315.7 L264.4 315.7 L263.9 315.7 L263.4 315.7 L262.9 315.7 L262.5 315.7 L262.0 315.7 L261.5 315.7 L261.0 315.7 L260.5 315.7 L260.0 315.7 L259.5 315.7 L259.0 315.7 L258.5 315.7 L258.0 315.7 L257.5 315.7 L257.0 315.7 L256.5 315.7 L256.0 315.7 L255.5 315.7 L255.0 308.4 L254.5 308.4 L254.0 308.4 L253.5 308.4 L253.0 308.4 L252.5 308.4 L252.0 308.4 L251.5 308.4 L251.0 308.4 L250.5 308.4 L250.0 308.4 L249.5 308.4 L249.0 308.4 L248.5 308.4 L248.0 308.4 L247.6 308.4 L247.1 308.4 L246.6 308.4 L246.1 308.4 L245.6 308.4 L245.1 308.4 L244.6 308.4 L244.1 308.4 L243.6 308.4 L243.1 308.4 L242.6 308.4 L242.1 308.4 L241.6 308.4 L241.1 308.4 L240.6 308.4 L240.1 308.4Z" fill="#060606"/>
<path d="M266.2 299.5 V315.0" stroke="#5a5a5a" stroke-width="0.6" fill="none"/>
<path d="M295.8 298.6h.9v.9h-.9zM256.3 297.1h.9v.9h-.9zM292.1 297.7h.9v.9h-.9zM276.3 298.4h.9v.9h-.9zM255.5 297.9h.9v.9h-.9zM253.0 297.9h.9v.9h-.9zM243.0 299.2h.9v.9h-.9zM245.9 298.0h.9v.9h-.9zM277.0 298.0h.9v.9h-.9zM287.5 297.6h.9v.9h-.9zM269.8 297.8h.9v.9h-.9zM260.8 297.6h.9v.9h-.9zM267.0 297.5h.9v.9h-.9zM292.9 297.9h.9v.9h-.9zM290.5 296.9h.9v.9h-.9zM259.1 298.4h.9v.9h-.9zM242.7 299.9h.9v.9h-.9zM262.5 297.2h.9v.9h-.9zM293.7 295.2h.9v.9h-.9zM243.3 298.9h.9v.9h-.9zM248.5 297.3h.9v.9h-.9zM260.2 296.9h.9v.9h-.9zM273.7 298.3h.9v.9h-.9zM241.0 300.7h.9v.9h-.9zM293.2 298.4h.9v.9h-.9zM269.7 298.0h.9v.9h-.9zM261.6 297.0h.9v.9h-.9zM253.6 297.6h.9v.9h-.9zM281.0 296.0h.9v.9h-.9zM272.2 295.7h.9v.9h-.9zM267.4 296.9h.9v.9h-.9zM278.2 297.0h.9v.9h-.9zM295.0 299.8h.9v.9h-.9zM249.0 297.6h.9v.9h-.9zM289.9 297.1h.9v.9h-.9zM258.8 296.4h.9v.9h-.9zM258.7 298.3h.9v.9h-.9zM243.9 299.8h.9v.9h-.9zM284.7 297.4h.9v.9h-.9zM284.0 296.5h.9v.9h-.9zM301.2 303.7h.9v.9h-.9zM266.4 297.0h.9v.9h-.9zM291.1 297.2h.9v.9h-.9zM258.3 297.3h.9v.9h-.9zM247.3 299.1h.9v.9h-.9zM301.0 304.4h.9v.9h-.9zM256.9 296.6h.9v.9h-.9zM267.9 297.4h.9v.9h-.9zM242.5 299.8h.9v.9h-.9zM260.8 295.9h.9v.9h-.9zM255.7 296.8h.9v.9h-.9zM292.3 297.5h.9v.9h-.9zM300.8 303.9h.9v.9h-.9zM270.0 298.2h.9v.9h-.9zM268.6 295.9h.9v.9h-.9zM273.2 298.3h.9v.9h-.9zM263.4 297.3h.9v.9h-.9zM252.2 298.5h.9v.9h-.9zM242.8 298.8h.9v.9h-.9zM251.5 298.9h.9v.9h-.9zM276.3 298.4h.9v.9h-.9zM294.3 298.3h.9v.9h-.9zM272.2 296.3h.9v.9h-.9zM253.7 297.5h.9v.9h-.9zM280.0 297.9h.9v.9h-.9zM298.7 302.9h.9v.9h-.9zM292.9 297.9h.9v.9h-.9zM291.5 298.0h.9v.9h-.9zM243.9 299.4h.9v.9h-.9zM296.7 300.1h.9v.9h-.9zM270.1 297.7h.9v.9h-.9zM255.4 297.6h.9v.9h-.9zM241.3 300.5h.9v.9h-.9zM286.7 296.9h.9v.9h-.9zM254.0 298.2h.9v.9h-.9zM283.1 297.8h.9v.9h-.9zM296.0 298.9h.9v.9h-.9zM246.8 297.3h.9v.9h-.9zM297.1 300.1h.9v.9h-.9zM291.0 296.3h.9v.9h-.9zM284.3 297.0h.9v.9h-.9zM276.4 298.5h.9v.9h-.9zM248.8 297.5h.9v.9h-.9zM276.8 298.0h.9v.9h-.9zM279.5 297.7h.9v.9h-.9zM271.6 296.8h.9v.9h-.9zM293.7 298.0h.9v.9h-.9zM290.0 297.2h.9v.9h-.9zM275.3 297.9h.9v.9h-.9zM297.1 300.9h.9v.9h-.9zM298.3 301.6h.9v.9h-.9zM281.4 296.4h.9v.9h-.9zM282.1 297.8h.9v.9h-.9zM245.4 298.7h.9v.9h-.9zM265.8 296.3h.9v.9h-.9zM288.2 295.0h.9v.9h-.9zM267.8 297.0h.9v.9h-.9zM274.8 296.8h.9v.9h-.9zM245.5 299.0h.9v.9h-.9zM249.5 298.5h.9v.9h-.9zM258.8 296.3h.9v.9h-.9zM253.3 296.6h.9v.9h-.9zM258.5 298.2h.9v.9h-.9zM299.6 303.9h.9v.9h-.9zM247.5 299.3h.9v.9h-.9zM244.7 299.0h.9v.9h-.9zM253.5 298.4h.9v.9h-.9zM241.6 300.2h.9v.9h-.9zM243.7 299.3h.9v.9h-.9zM274.9 296.3h.9v.9h-.9zM280.6 297.1h.9v.9h-.9zM283.1 297.1h.9v.9h-.9zM292.3 297.8h.9v.9h-.9zM244.0 299.2h.9v.9h-.9zM272.1 297.3h.9v.9h-.9zM288.0 297.8h.9v.9h-.9zM283.4 297.8h.9v.9h-.9zM266.2 297.5h.9v.9h-.9zM257.7 297.4h.9v.9h-.9zM274.2 296.2h.9v.9h-.9zM257.7 296.5h.9v.9h-.9zM246.6 298.3h.9v.9h-.9zM250.4 297.7h.9v.9h-.9zM299.1 303.3h.9v.9h-.9zM289.6 297.5h.9v.9h-.9zM259.2 298.6h.9v.9h-.9zM267.4 297.4h.9v.9h-.9zM283.3 297.6h.9v.9h-.9zM266.1 296.7h.9v.9h-.9zM254.8 298.0h.9v.9h-.9zM262.7 297.6h.9v.9h-.9zM294.4 298.8h.9v.9h-.9zM246.8 298.3h.9v.9h-.9zM290.2 296.9h.9v.9h-.9zM266.2 297.6h.9v.9h-.9zM240.8 300.3h.9v.9h-.9zM255.5 298.0h.9v.9h-.9zM295.5 299.5h.9v.9h-.9zM262.6 296.7h.9v.9h-.9zM285.9 297.5h.9v.9h-.9zM285.6 297.0h.9v.9h-.9zM278.8 295.7h.9v.9h-.9zM289.0 296.9h.9v.9h-.9zM287.3 297.3h.9v.9h-.9zM274.1 297.2h.9v.9h-.9zM278.2 298.0h.9v.9h-.9zM241.9 299.3h.9v.9h-.9zM261.3 297.7h.9v.9h-.9zM258.1 297.5h.9v.9h-.9zM265.0 296.7h.9v.9h-.9zM276.6 297.5h.9v.9h-.9zM288.1 297.6h.9v.9h-.9zM273.2 297.4h.9v.9h-.9zM284.4 296.8h.9v.9h-.9zM294.6 298.5h.9v.9h-.9zM274.3 297.7h.9v.9h-.9zM255.3 297.7h.9v.9h-.9zM270.9 296.7h.9v.9h-.9zM243.3 299.3h.9v.9h-.9zM285.5 297.5h.9v.9h-.9zM292.0 297.8h.9v.9h-.9zM287.4 297.3h.9v.9h-.9zM275.0 297.8h.9v.9h-.9zM265.1 296.8h.9v.9h-.9zM285.2 297.3h.9v.9h-.9zM266.3 297.7h.9v.9h-.9zM283.0 297.5h.9v.9h-.9zM284.5 297.1h.9v.9h-.9zM265.0 296.5h.9v.9h-.9zM248.7 296.2h.9v.9h-.9zM245.9 296.6h.9v.9h-.9zM276.2 298.2h.9v.9h-.9zM297.3 300.8h.9v.9h-.9zM271.5 298.6h.9v.9h-.9zM289.0 296.8h.9v.9h-.9zM255.2 298.2h.9v.9h-.9zM266.1 295.6h.9v.9h-.9zM293.4 298.1h.9v.9h-.9zM242.9 298.4h.9v.9h-.9zM252.9 297.3h.9v.9h-.9zM270.9 296.0h.9v.9h-.9zM249.6 297.7h.9v.9h-.9zM284.3 297.7h.9v.9h-.9zM274.9 297.6h.9v.9h-.9zM282.8 295.7h.9v.9h-.9zM281.0 297.4h.9v.9h-.9zM277.2 298.2h.9v.9h-.9zM269.0 297.2h.9v.9h-.9zM284.3 297.7h.9v.9h-.9zM272.6 297.4h.9v.9h-.9zM274.8 297.8h.9v.9h-.9zM242.4 299.3h.9v.9h-.9zM284.2 296.2h.9v.9h-.9zM281.7 294.3h.9v.9h-.9zM249.3 298.1h.9v.9h-.9zM279.2 298.3h.9v.9h-.9zM249.2 298.0h.9v.9h-.9zM272.4 296.4h.9v.9h-.9zM283.7 297.4h.9v.9h-.9zM245.4 298.3h.9v.9h-.9zM300.5 305.7h.9v.9h-.9zM299.3 302.3h.9v.9h-.9zM300.1 307.0h.9v.9h-.9zM301.4 301.0h.9v.9h-.9zM300.7 306.2h.9v.9h-.9zM299.8 307.6h.9v.9h-.9zM299.5 304.3h.9v.9h-.9zM299.6 305.0h.9v.9h-.9zM300.9 307.5h.9v.9h-.9zM299.3 307.3h.9v.9h-.9zM299.2 305.4h.9v.9h-.9zM269.8 294.6h.9v.9h-.9zM266.2 297.2h.9v.9h-.9zM285.8 290.4h.9v.9h-.9zM258.3 296.9h.9v.9h-.9zM274.7 297.2h.9v.9h-.9zM271.4 291.9h.9v.9h-.9zM270.8 294.3h.9v.9h-.9zM287.3 296.4h.9v.9h-.9zM278.9 293.1h.9v.9h-.9zM289.2 291.0h.9v.9h-.9zM277.1 295.7h.9v.9h-.9zM256.4 295.1h.9v.9h-.9zM278.6 296.0h.9v.9h-.9zM264.9 297.3h.9v.9h-.9zM274.9 296.6h.9v.9h-.9zM290.5 295.3h.9v.9h-.9zM278.6 295.3h.9v.9h-.9zM262.1 297.6h.9v.9h-.9zM276.7 288.7h.9v.9h-.9zM254.5 297.8h.9v.9h-.9zM267.1 293.2h.9v.9h-.9zM266.8 289.8h.9v.9h-.9zM259.6 298.1h.9v.9h-.9zM281.6 293.4h.9v.9h-.9zM278.9 295.4h.9v.9h-.9zM265.6 297.5h.9v.9h-.9zM291.9 296.4h.9v.9h-.9zM287.5 292.2h.9v.9h-.9zM284.9 293.2h.9v.9h-.9zM260.8 288.4h.9v.9h-.9zM292.9 297.1h.9v.9h-.9zM259.2 292.1h.9v.9h-.9zM269.7 298.2h.9v.9h-.9zM272.1 294.2h.9v.9h-.9zM289.0 297.1h.9v.9h-.9zM264.6 296.4h.9v.9h-.9zM262.7 295.9h.9v.9h-.9zM262.6 295.3h.9v.9h-.9zM256.4 295.9h.9v.9h-.9zM264.9 296.3h.9v.9h-.9zM266.5 296.6h.9v.9h-.9zM280.2 296.3h.9v.9h-.9zM258.9 297.3h.9v.9h-.9zM287.7 294.8h.9v.9h-.9zM275.5 296.6h.9v.9h-.9zM275.2 289.0h.9v.9h-.9zM259.0 290.3h.9v.9h-.9zM288.3 291.7h.9v.9h-.9zM257.6 291.4h.9v.9h-.9zM267.6 295.3h.9v.9h-.9zM273.9 292.0h.9v.9h-.9zM273.1 296.2h.9v.9h-.9zM268.2 291.5h.9v.9h-.9zM291.2 296.6h.9v.9h-.9zM262.6 296.7h.9v.9h-.9zM264.2 296.4h.9v.9h-.9zM258.1 294.7h.9v.9h-.9zM289.5 296.7h.9v.9h-.9zM264.4 297.4h.9v.9h-.9zM275.0 295.8h.9v.9h-.9zM266.7 296.8h.9v.9h-.9zM260.8 297.0h.9v.9h-.9zM256.7 296.2h.9v.9h-.9zM260.0 297.7h.9v.9h-.9zM287.1 296.4h.9v.9h-.9zM272.8 296.3h.9v.9h-.9zM254.5 296.8h.9v.9h-.9zM284.3 295.9h.9v.9h-.9zM266.9 296.6h.9v.9h-.9zM285.9 295.4h.9v.9h-.9zM272.4 293.3h.9v.9h-.9zM271.1 297.2h.9v.9h-.9zM284.0 291.3h.9v.9h-.9zM271.2 296.9h.9v.9h-.9zM265.6 289.7h.9v.9h-.9zM275.6 298.0h.9v.9h-.9zM258.5 292.1h.9v.9h-.9zM283.8 296.8h.9v.9h-.9zM271.7 294.5h.9v.9h-.9zM255.2 296.2h.9v.9h-.9zM277.0 293.6h.9v.9h-.9zM263.5 291.2h.9v.9h-.9zM289.7 295.1h.9v.9h-.9zM266.3 296.8h.9v.9h-.9zM283.7 297.9h.9v.9h-.9zM273.5 287.7h.9v.9h-.9zM257.5 289.6h.9v.9h-.9zM275.4 297.2h.9v.9h-.9zM264.8 296.1h.9v.9h-.9zM277.0 297.7h.9v.9h-.9zM271.6 296.5h.9v.9h-.9zM279.9 291.4h.9v.9h-.9zM273.9 294.8h.9v.9h-.9zM267.4 295.1h.9v.9h-.9zM257.1 294.5h.9v.9h-.9zM276.5 297.3h.9v.9h-.9zM260.1 298.1h.9v.9h-.9zM259.8 298.3h.9v.9h-.9zM288.5 294.4h.9v.9h-.9zM293.7 296.3h.9v.9h-.9zM265.8 293.7h.9v.9h-.9zM280.5 290.7h.9v.9h-.9zM260.8 289.3h.9v.9h-.9zM253.4 296.1h.9v.9h-.9zM259.5 297.1h.9v.9h-.9zM264.9 297.2h.9v.9h-.9zM260.7 296.5h.9v.9h-.9zM291.3 294.9h.9v.9h-.9zM258.5 297.1h.9v.9h-.9zM290.3 294.7h.9v.9h-.9zM276.5 296.4h.9v.9h-.9zM287.2 297.0h.9v.9h-.9zM275.4 293.9h.9v.9h-.9zM271.5 292.7h.9v.9h-.9zM291.7 294.9h.9v.9h-.9zM279.8 298.1h.9v.9h-.9zM277.9 290.1h.9v.9h-.9zM277.7 296.4h.9v.9h-.9zM266.4 296.8h.9v.9h-.9zM285.7 283.9h.9v.9h-.9zM287.9 297.5h.9v.9h-.9zM256.6 295.4h.9v.9h-.9zM270.1 288.6h.9v.9h-.9zM262.6 292.9h.9v.9h-.9zM277.5 280.5h.9v.9h-.9zM271.0 288.9h.9v.9h-.9zM267.3 294.0h.9v.9h-.9zM258.2 288.9h.9v.9h-.9zM280.9 294.5h.9v.9h-.9zM255.6 288.7h.9v.9h-.9zM288.0 293.4h.9v.9h-.9zM265.3 290.4h.9v.9h-.9zM272.2 277.5h.9v.9h-.9zM295.7 298.6h.9v.9h-.9zM275.8 292.4h.9v.9h-.9zM270.7 292.8h.9v.9h-.9zM268.7 289.9h.9v.9h-.9zM260.0 292.2h.9v.9h-.9zM295.5 295.9h.9v.9h-.9zM255.2 289.9h.9v.9h-.9zM261.0 290.5h.9v.9h-.9zM292.3 295.7h.9v.9h-.9zM255.1 296.5h.9v.9h-.9zM270.7 290.9h.9v.9h-.9zM271.1 297.2h.9v.9h-.9zM256.3 297.3h.9v.9h-.9zM286.7 296.1h.9v.9h-.9zM291.9 297.5h.9v.9h-.9zM281.2 278.2h.9v.9h-.9zM249.7 298.3h.9v.9h-.9zM264.8 296.6h.9v.9h-.9zM283.8 293.5h.9v.9h-.9zM292.7 295.8h.9v.9h-.9zM272.2 294.3h.9v.9h-.9zM256.0 293.7h.9v.9h-.9zM255.1 297.1h.9v.9h-.9zM266.7 287.5h.9v.9h-.9zM289.2 288.5h.9v.9h-.9zM268.0 289.6h.9v.9h-.9zM262.7 289.7h.9v.9h-.9zM250.7 293.1h.9v.9h-.9zM283.4 295.8h.9v.9h-.9zM262.2 296.5h.9v.9h-.9zM275.8 294.7h.9v.9h-.9zM281.1 284.0h.9v.9h-.9zM291.8 283.6h.9v.9h-.9zM266.8 295.4h.9v.9h-.9zM271.8 296.7h.9v.9h-.9zM275.2 286.1h.9v.9h-.9zM253.3 292.4h.9v.9h-.9zM263.1 293.2h.9v.9h-.9zM281.0 294.7h.9v.9h-.9z" fill="#161616"/>
<path d="M279.5 315.0h1v.9h-1zM260.0 315.1h1v.9h-1zM272.5 313.8h1v.9h-1zM271.9 313.8h1v.9h-1zM280.8 314.7h1v.9h-1zM261.8 314.6h1v.9h-1zM279.7 312.1h1v.9h-1zM260.9 315.1h1v.9h-1zM283.7 311.1h1v.9h-1zM265.2 313.6h1v.9h-1zM259.2 313.7h1v.9h-1zM262.5 312.8h1v.9h-1zM262.0 313.4h1v.9h-1zM266.6 313.8h1v.9h-1zM282.7 313.6h1v.9h-1zM283.3 312.6h1v.9h-1zM263.9 314.6h1v.9h-1zM279.2 312.3h1v.9h-1zM261.7 312.1h1v.9h-1zM265.7 313.4h1v.9h-1zM281.2 311.4h1v.9h-1zM262.5 314.9h1v.9h-1zM264.9 313.2h1v.9h-1zM283.1 313.0h1v.9h-1zM277.8 312.0h1v.9h-1zM270.4 314.2h1v.9h-1zM278.7 313.1h1v.9h-1zM281.0 310.9h1v.9h-1zM270.1 314.3h1v.9h-1zM261.3 313.3h1v.9h-1zM266.2 314.4h1v.9h-1zM271.2 312.6h1v.9h-1zM275.7 313.9h1v.9h-1zM274.9 313.1h1v.9h-1zM281.8 312.8h1v.9h-1zM280.1 314.7h1v.9h-1zM280.1 315.1h1v.9h-1zM279.2 315.1h1v.9h-1zM273.8 314.6h1v.9h-1zM262.2 312.5h1v.9h-1zM261.6 312.8h1v.9h-1zM260.1 314.8h1v.9h-1zM268.3 313.4h1v.9h-1zM275.1 314.3h1v.9h-1zM280.5 315.1h1v.9h-1zM263.0 314.2h1v.9h-1zM273.9 313.0h1v.9h-1zM281.1 314.3h1v.9h-1zM274.7 312.8h1v.9h-1zM262.2 314.3h1v.9h-1zM269.5 313.2h1v.9h-1zM271.8 314.9h1v.9h-1zM263.3 314.4h1v.9h-1zM260.3 312.3h1v.9h-1zM281.3 312.5h1v.9h-1zM263.7 313.3h1v.9h-1zM258.8 314.8h1v.9h-1zM264.6 313.3h1v.9h-1zM273.1 313.5h1v.9h-1zM262.2 313.7h1v.9h-1zM277.4 311.7h1v.9h-1zM267.6 313.9h1v.9h-1zM280.6 315.1h1v.9h-1zM273.7 315.0h1v.9h-1zM278.9 312.9h1v.9h-1zM259.9 315.1h1v.9h-1zM282.5 314.5h1v.9h-1zM273.1 313.3h1v.9h-1zM267.9 315.0h1v.9h-1zM276.8 314.4h1v.9h-1zM269.1 312.2h1v.9h-1zM282.4 314.5h1v.9h-1zM266.7 312.3h1v.9h-1zM269.7 311.6h1v.9h-1zM267.7 315.1h1v.9h-1zM265.4 311.6h1v.9h-1zM273.0 311.1h1v.9h-1zM279.4 312.8h1v.9h-1zM262.7 314.1h1v.9h-1zM258.5 314.4h1v.9h-1zM263.7 311.3h1v.9h-1zM262.1 314.3h1v.9h-1zM258.6 314.9h1v.9h-1zM276.1 314.1h1v.9h-1zM271.1 312.0h1v.9h-1z" fill="#fff"/>
<rect x="240.10" y="309.90" width="15.70" height="5.90" fill="#cbcbcb" stroke="#999" stroke-width="0.4"/>
<rect x="289.00" y="309.90" width="14.60" height="5.90" fill="#ececec" stroke="#aaa" stroke-width="0.4"/>
<text x="240.70" y="257.00" font-size="5.7" text-anchor="start" fill="#6a6a6a">0.19</text>
<text x="302.40" y="257.00" font-size="5.7" text-anchor="end" fill="#6a6a6a">0.25</text>
<text x="240.90" y="314.70" font-size="5.7" text-anchor="start" fill="#5c5c5c">60.13</text>
<text x="303.00" y="314.70" font-size="5.7" text-anchor="end" fill="#5c5c5c">39.43</text>
<rect x="239.7" y="251.9" width="64.30" height="64.10" fill="none" stroke="#bcbcbc" stroke-width="0.7"/>
</g>
<g>
<rect x="331.4" y="251.9" width="65.20" height="64.10" fill="#fff" stroke="#bcbcbc" stroke-width="0.7"/>
<path d="M357.3 251.9 V316.0 M331.4 295.1 H396.6" stroke="#c8c8c8" stroke-width="0.7" fill="none"/>
<path d="M347.70 316.0 v-1.6 M331.4 299.98 h1.6 M364.00 316.0 v-1.6 M331.4 283.95 h1.6 M380.30 316.0 v-1.6 M331.4 267.93 h1.6" stroke="#999" stroke-width="0.6" fill="none"/>
<text x="329.00" y="320.80" font-size="3.3" fill="#b8b8b8">10<tspan dy="-1.3" font-size="2.3">0</tspan></text>
<text x="324.80" y="317.00" font-size="3.3" fill="#b8b8b8">10<tspan dy="-1.3" font-size="2.3">0</tspan></text>
<text x="345.30" y="320.80" font-size="3.3" fill="#b8b8b8">10<tspan dy="-1.3" font-size="2.3">1</tspan></text>
<text x="324.80" y="300.98" font-size="3.3" fill="#b8b8b8">10<tspan dy="-1.3" font-size="2.3">1</tspan></text>
<text x="361.60" y="320.80" font-size="3.3" fill="#b8b8b8">10<tspan dy="-1.3" font-size="2.3">2</tspan></text>
<text x="324.80" y="284.95" font-size="3.3" fill="#b8b8b8">10<tspan dy="-1.3" font-size="2.3">2</tspan></text>
<text x="377.90" y="320.80" font-size="3.3" fill="#b8b8b8">10<tspan dy="-1.3" font-size="2.3">3</tspan></text>
<text x="324.80" y="268.93" font-size="3.3" fill="#b8b8b8">10<tspan dy="-1.3" font-size="2.3">3</tspan></text>
<text x="364.00" y="326.20" font-size="2.9" text-anchor="middle" fill="#999">FL1-H</text>
<text transform="translate(318.80 284.95) rotate(-90)" font-size="2.9" text-anchor="middle" fill="#999">FL2-H</text>
<path d="M331.8 299.8 L332.3 299.9 L332.8 299.9 L333.3 300.0 L333.8 299.3 L334.3 298.7 L334.8 298.9 L335.3 298.8 L335.8 298.2 L336.3 298.2 L336.8 297.8 L337.3 297.9 L337.8 297.1 L338.3 296.7 L338.8 297.2 L339.3 296.7 L339.8 296.3 L340.3 296.6 L340.8 296.5 L341.3 295.9 L341.8 296.1 L342.3 296.3 L342.8 295.9 L343.3 296.2 L343.8 295.8 L344.3 295.8 L344.8 295.5 L345.3 295.5 L345.8 296.3 L346.3 296.2 L346.8 296.7 L347.3 296.4 L347.8 296.4 L348.3 296.7 L348.8 296.7 L349.3 296.0 L349.8 296.2 L350.3 296.4 L350.8 295.9 L351.3 295.6 L351.8 296.3 L352.3 296.3 L352.8 295.9 L353.3 296.0 L353.8 295.8 L354.3 296.3 L354.8 296.3 L355.3 295.8 L355.8 296.3 L356.3 295.8 L356.8 295.7 L357.3 295.4 L357.8 296.0 L358.3 295.7 L358.8 295.9 L359.3 295.6 L359.8 295.9 L360.3 296.2 L360.8 296.2 L361.3 296.2 L361.8 296.2 L362.3 296.1 L362.8 296.3 L363.3 295.8 L363.8 295.9 L364.3 295.8 L364.8 296.4 L365.3 296.8 L365.8 296.0 L366.3 295.7 L366.8 296.2 L367.3 296.3 L367.8 295.7 L368.3 296.2 L368.8 296.7 L369.3 296.4 L369.8 296.1 L370.3 296.2 L370.8 296.7 L371.3 296.2 L371.8 296.0 L372.3 295.7 L372.8 296.1 L373.3 296.1 L373.8 295.9 L374.3 295.9 L374.8 295.5 L375.3 295.6 L375.8 296.4 L376.3 296.4 L376.8 296.1 L377.3 296.6 L377.8 296.3 L378.3 296.0 L378.8 295.6 L379.3 295.5 L379.8 295.5 L380.3 295.5 L380.8 296.2 L381.3 296.0 L381.8 295.8 L382.3 296.1 L382.8 296.6 L383.3 296.2 L383.8 296.5 L384.3 296.2 L384.8 296.3 L385.3 296.3 L385.8 296.8 L386.3 296.8 L386.8 296.5 L387.3 296.9 L387.8 296.9 L388.3 297.2 L388.8 298.3 L389.3 298.8 L389.8 300.0 L390.3 301.1 L390.8 302.8 L391.3 304.0 L391.8 304.8 L391.8 305.5 L391.3 305.7 L390.8 306.0 L390.3 306.4 L389.8 307.1 L389.3 307.4 L388.8 307.5 L388.3 307.5 L387.8 307.6 L387.3 307.6 L386.8 307.7 L386.3 307.7 L385.8 307.8 L385.3 307.8 L384.8 307.9 L384.3 307.9 L383.8 307.9 L383.3 307.9 L382.8 308.0 L382.3 308.0 L381.8 308.0 L381.3 308.0 L380.8 308.0 L380.3 315.7 L379.8 315.7 L379.3 315.7 L378.8 315.7 L378.3 315.7 L377.8 315.7 L377.3 315.7 L376.8 315.7 L376.3 315.7 L375.8 315.7 L375.3 315.7 L374.8 315.7 L374.3 315.7 L373.8 315.7 L373.3 315.7 L372.8 315.7 L372.3 315.7 L371.8 315.7 L371.3 315.7 L370.8 315.7 L370.3 315.7 L369.8 315.7 L369.3 315.7 L368.8 315.7 L368.3 315.7 L367.8 315.7 L367.3 315.7 L366.8 315.7 L366.3 315.7 L365.8 315.7 L365.3 315.7 L364.8 315.7 L364.3 315.7 L363.8 315.7 L363.3 315.7 L362.8 315.7 L362.3 315.7 L361.8 315.7 L361.3 315.7 L360.8 315.7 L360.3 315.7 L359.8 315.7 L359.3 315.7 L358.8 315.7 L358.3 315.7 L357.8 315.7 L357.3 315.7 L356.8 315.7 L356.3 315.7 L355.8 315.7 L355.3 315.7 L354.8 315.7 L354.3 315.7 L353.8 315.7 L353.3 315.7 L352.8 315.7 L352.3 315.7 L351.8 315.7 L351.3 315.7 L350.8 315.7 L350.3 315.7 L349.8 315.7 L349.3 315.7 L348.8 315.7 L348.3 315.7 L347.8 308.2 L347.3 308.2 L346.8 308.2 L346.3 308.2 L345.8 308.2 L345.3 308.2 L344.8 308.2 L344.3 308.2 L343.8 308.2 L343.3 308.2 L342.8 308.2 L342.3 308.2 L341.8 308.2 L341.3 308.2 L340.8 308.2 L340.3 308.2 L339.8 308.2 L339.3 308.2 L338.8 308.2 L338.3 308.2 L337.8 308.2 L337.3 308.2 L336.8 308.2 L336.3 308.2 L335.8 308.2 L335.3 308.2 L334.8 308.2 L334.3 308.2 L333.8 308.2 L333.3 308.2 L332.8 308.2 L332.3 308.2 L331.8 308.2Z" fill="#060606"/>
<path d="M357.3 297.7 V315.0" stroke="#5a5a5a" stroke-width="0.6" fill="none"/>
<path d="M388.8 297.8h.9v.9h-.9zM352.9 295.7h.9v.9h-.9zM338.6 297.0h.9v.9h-.9zM374.2 295.8h.9v.9h-.9zM348.0 296.0h.9v.9h-.9zM365.3 296.4h.9v.9h-.9zM379.8 295.2h.9v.9h-.9zM354.7 295.8h.9v.9h-.9zM340.2 296.4h.9v.9h-.9zM341.2 294.9h.9v.9h-.9zM341.3 295.1h.9v.9h-.9zM345.8 295.5h.9v.9h-.9zM372.1 295.4h.9v.9h-.9zM388.8 297.4h.9v.9h-.9zM366.1 295.7h.9v.9h-.9zM357.0 295.5h.9v.9h-.9zM360.8 294.1h.9v.9h-.9zM384.6 296.2h.9v.9h-.9zM373.5 293.9h.9v.9h-.9zM365.2 296.7h.9v.9h-.9zM384.8 295.8h.9v.9h-.9zM391.6 303.1h.9v.9h-.9zM382.5 293.9h.9v.9h-.9zM336.5 296.9h.9v.9h-.9zM350.8 295.8h.9v.9h-.9zM355.3 295.1h.9v.9h-.9zM332.7 299.4h.9v.9h-.9zM379.8 294.9h.9v.9h-.9zM364.3 295.5h.9v.9h-.9zM391.1 303.8h.9v.9h-.9zM373.5 295.3h.9v.9h-.9zM332.4 295.4h.9v.9h-.9zM346.6 293.1h.9v.9h-.9zM388.5 295.3h.9v.9h-.9zM384.1 295.8h.9v.9h-.9zM359.3 295.3h.9v.9h-.9zM388.9 298.3h.9v.9h-.9zM340.7 294.0h.9v.9h-.9zM381.1 295.0h.9v.9h-.9zM390.9 302.2h.9v.9h-.9zM382.9 296.1h.9v.9h-.9zM386.8 296.5h.9v.9h-.9zM358.9 295.3h.9v.9h-.9zM380.4 295.1h.9v.9h-.9zM373.5 293.4h.9v.9h-.9zM357.7 295.9h.9v.9h-.9zM334.2 297.2h.9v.9h-.9zM361.2 295.8h.9v.9h-.9zM363.8 295.8h.9v.9h-.9zM345.8 296.1h.9v.9h-.9zM347.8 294.9h.9v.9h-.9zM347.3 296.3h.9v.9h-.9zM384.7 295.6h.9v.9h-.9zM334.1 297.8h.9v.9h-.9zM373.8 295.0h.9v.9h-.9zM379.2 295.0h.9v.9h-.9zM346.0 295.2h.9v.9h-.9zM370.2 295.3h.9v.9h-.9zM343.5 295.8h.9v.9h-.9zM374.1 295.5h.9v.9h-.9zM368.8 296.1h.9v.9h-.9zM378.0 295.9h.9v.9h-.9zM362.5 294.7h.9v.9h-.9zM351.2 295.5h.9v.9h-.9zM370.9 296.6h.9v.9h-.9zM384.2 296.0h.9v.9h-.9zM387.0 295.9h.9v.9h-.9zM341.7 295.5h.9v.9h-.9zM373.6 295.3h.9v.9h-.9zM370.8 296.3h.9v.9h-.9zM390.3 300.9h.9v.9h-.9zM380.6 296.2h.9v.9h-.9zM363.0 296.2h.9v.9h-.9zM340.4 295.9h.9v.9h-.9zM387.0 296.2h.9v.9h-.9zM356.7 295.2h.9v.9h-.9zM368.9 296.3h.9v.9h-.9zM353.6 294.2h.9v.9h-.9zM366.0 295.7h.9v.9h-.9zM381.8 290.2h.9v.9h-.9zM358.5 295.7h.9v.9h-.9zM350.8 294.1h.9v.9h-.9zM342.8 295.7h.9v.9h-.9zM380.3 295.4h.9v.9h-.9zM383.7 296.3h.9v.9h-.9zM355.8 295.6h.9v.9h-.9zM339.2 295.5h.9v.9h-.9zM358.9 294.8h.9v.9h-.9zM378.5 295.9h.9v.9h-.9zM382.1 294.7h.9v.9h-.9zM347.0 296.0h.9v.9h-.9zM344.8 294.9h.9v.9h-.9zM377.8 295.9h.9v.9h-.9zM364.6 296.3h.9v.9h-.9zM384.5 295.4h.9v.9h-.9zM382.6 296.5h.9v.9h-.9zM377.4 296.5h.9v.9h-.9zM366.0 295.8h.9v.9h-.9zM386.9 296.4h.9v.9h-.9zM361.0 295.7h.9v.9h-.9zM355.7 296.3h.9v.9h-.9zM372.6 293.2h.9v.9h-.9zM354.2 294.5h.9v.9h-.9zM352.9 295.6h.9v.9h-.9zM359.9 293.0h.9v.9h-.9zM379.5 294.7h.9v.9h-.9zM334.8 298.4h.9v.9h-.9zM333.3 300.0h.9v.9h-.9zM355.1 295.6h.9v.9h-.9zM338.7 296.6h.9v.9h-.9zM379.7 293.4h.9v.9h-.9zM387.7 296.4h.9v.9h-.9zM343.2 293.6h.9v.9h-.9zM358.0 295.7h.9v.9h-.9zM382.2 295.4h.9v.9h-.9zM389.9 299.0h.9v.9h-.9zM389.5 298.6h.9v.9h-.9zM389.4 298.1h.9v.9h-.9zM374.5 295.6h.9v.9h-.9zM347.1 296.1h.9v.9h-.9zM342.7 293.3h.9v.9h-.9zM339.6 296.1h.9v.9h-.9zM370.7 296.5h.9v.9h-.9zM345.3 295.3h.9v.9h-.9zM346.5 296.2h.9v.9h-.9zM377.1 295.8h.9v.9h-.9zM351.1 293.8h.9v.9h-.9zM366.2 295.5h.9v.9h-.9zM390.7 302.6h.9v.9h-.9zM381.3 294.6h.9v.9h-.9zM332.6 298.4h.9v.9h-.9zM357.8 295.5h.9v.9h-.9zM389.5 298.3h.9v.9h-.9zM347.0 296.7h.9v.9h-.9zM385.9 296.3h.9v.9h-.9zM375.4 294.8h.9v.9h-.9zM391.6 302.6h.9v.9h-.9zM388.9 297.7h.9v.9h-.9zM387.4 296.6h.9v.9h-.9zM339.9 295.5h.9v.9h-.9zM334.1 295.9h.9v.9h-.9zM352.0 295.8h.9v.9h-.9zM350.0 295.9h.9v.9h-.9zM364.9 295.1h.9v.9h-.9zM333.3 299.7h.9v.9h-.9zM347.3 293.9h.9v.9h-.9zM358.9 295.5h.9v.9h-.9zM389.0 297.9h.9v.9h-.9zM355.6 295.9h.9v.9h-.9zM346.7 295.8h.9v.9h-.9zM349.7 295.6h.9v.9h-.9zM366.9 295.0h.9v.9h-.9zM377.1 296.1h.9v.9h-.9zM389.8 297.6h.9v.9h-.9zM389.0 297.3h.9v.9h-.9zM359.8 295.5h.9v.9h-.9zM384.4 295.7h.9v.9h-.9zM377.6 295.9h.9v.9h-.9zM354.5 296.3h.9v.9h-.9zM376.5 296.1h.9v.9h-.9zM362.2 295.1h.9v.9h-.9zM382.6 294.3h.9v.9h-.9zM372.5 295.5h.9v.9h-.9zM388.5 297.1h.9v.9h-.9zM357.3 293.4h.9v.9h-.9zM383.5 295.5h.9v.9h-.9zM384.9 296.1h.9v.9h-.9zM334.8 298.6h.9v.9h-.9zM388.6 298.2h.9v.9h-.9zM352.1 295.7h.9v.9h-.9zM344.8 293.9h.9v.9h-.9zM338.8 297.1h.9v.9h-.9zM392.6 304.8h.9v.9h-.9zM345.8 295.9h.9v.9h-.9zM385.6 296.4h.9v.9h-.9zM366.8 294.9h.9v.9h-.9zM369.7 294.7h.9v.9h-.9zM333.4 299.4h.9v.9h-.9zM333.7 297.7h.9v.9h-.9zM333.9 299.2h.9v.9h-.9zM358.3 294.9h.9v.9h-.9zM333.2 299.2h.9v.9h-.9zM338.6 296.9h.9v.9h-.9zM334.9 297.8h.9v.9h-.9zM382.6 295.4h.9v.9h-.9zM351.9 296.1h.9v.9h-.9zM390.5 299.7h.9v.9h-.9zM390.9 302.4h.9v.9h-.9zM385.5 295.4h.9v.9h-.9zM379.9 294.9h.9v.9h-.9zM379.8 294.9h.9v.9h-.9zM348.9 296.2h.9v.9h-.9zM334.9 298.0h.9v.9h-.9zM352.6 295.7h.9v.9h-.9zM380.3 294.9h.9v.9h-.9zM351.5 293.6h.9v.9h-.9zM389.0 297.8h.9v.9h-.9zM365.4 296.8h.9v.9h-.9zM353.9 292.3h.9v.9h-.9zM363.2 291.7h.9v.9h-.9zM334.1 298.7h.9v.9h-.9zM336.1 298.1h.9v.9h-.9zM378.0 292.7h.9v.9h-.9zM378.4 295.2h.9v.9h-.9zM355.4 295.4h.9v.9h-.9zM340.3 296.2h.9v.9h-.9zM339.7 295.0h.9v.9h-.9zM364.9 296.0h.9v.9h-.9zM383.8 296.2h.9v.9h-.9zM385.1 295.3h.9v.9h-.9zM370.3 295.5h.9v.9h-.9zM370.6 294.8h.9v.9h-.9zM392.5 304.1h.9v.9h-.9zM390.4 300.9h.9v.9h-.9zM388.4 295.5h.9v.9h-.9zM370.9 296.6h.9v.9h-.9zM386.0 296.4h.9v.9h-.9zM352.5 293.8h.9v.9h-.9zM337.7 296.3h.9v.9h-.9zM346.1 294.5h.9v.9h-.9zM391.0 304.4h.9v.9h-.9zM391.8 304.1h.9v.9h-.9zM390.8 302.4h.9v.9h-.9zM392.6 302.4h.9v.9h-.9zM391.9 305.1h.9v.9h-.9zM391.2 307.7h.9v.9h-.9zM391.4 304.3h.9v.9h-.9zM392.4 300.4h.9v.9h-.9zM394.5 299.5h.9v.9h-.9zM391.5 306.0h.9v.9h-.9zM392.4 302.7h.9v.9h-.9zM391.6 306.3h.9v.9h-.9zM341.5 291.2h.9v.9h-.9zM344.8 294.1h.9v.9h-.9zM348.7 289.2h.9v.9h-.9zM347.6 294.3h.9v.9h-.9zM346.8 291.6h.9v.9h-.9zM346.8 296.0h.9v.9h-.9zM347.4 296.2h.9v.9h-.9zM351.0 285.3h.9v.9h-.9zM356.1 285.4h.9v.9h-.9zM344.8 287.4h.9v.9h-.9zM347.4 275.6h.9v.9h-.9zM345.4 285.1h.9v.9h-.9zM342.1 292.9h.9v.9h-.9zM344.5 288.7h.9v.9h-.9zM348.7 296.4h.9v.9h-.9zM352.2 295.4h.9v.9h-.9zM341.9 296.0h.9v.9h-.9zM356.7 290.1h.9v.9h-.9zM354.7 279.5h.9v.9h-.9zM340.7 295.7h.9v.9h-.9zM342.4 288.7h.9v.9h-.9zM340.4 292.4h.9v.9h-.9zM347.4 288.6h.9v.9h-.9zM346.5 295.4h.9v.9h-.9zM341.2 294.5h.9v.9h-.9zM350.9 293.2h.9v.9h-.9zM339.8 280.1h.9v.9h-.9zM354.7 292.5h.9v.9h-.9zM344.4 290.9h.9v.9h-.9zM358.3 295.2h.9v.9h-.9zM340.4 296.1h.9v.9h-.9zM340.9 291.2h.9v.9h-.9zM340.6 292.4h.9v.9h-.9zM354.3 292.0h.9v.9h-.9zM356.2 292.3h.9v.9h-.9zM349.3 288.9h.9v.9h-.9zM351.7 286.6h.9v.9h-.9zM340.3 292.8h.9v.9h-.9zM339.8 295.3h.9v.9h-.9zM342.3 294.4h.9v.9h-.9zM341.6 294.0h.9v.9h-.9zM342.2 285.4h.9v.9h-.9zM336.0 292.1h.9v.9h-.9zM351.6 296.2h.9v.9h-.9zM350.5 287.5h.9v.9h-.9zM351.0 285.1h.9v.9h-.9zM347.3 287.9h.9v.9h-.9zM339.7 290.4h.9v.9h-.9zM344.8 284.2h.9v.9h-.9zM347.5 295.4h.9v.9h-.9zM353.5 295.6h.9v.9h-.9zM356.5 294.1h.9v.9h-.9zM349.2 295.5h.9v.9h-.9zM356.0 294.7h.9v.9h-.9zM343.4 277.3h.9v.9h-.9zM344.2 294.5h.9v.9h-.9zM339.8 285.2h.9v.9h-.9zM355.0 294.1h.9v.9h-.9zM348.2 294.3h.9v.9h-.9zM343.6 284.4h.9v.9h-.9zM340.0 291.7h.9v.9h-.9zM354.9 295.3h.9v.9h-.9zM349.2 294.6h.9v.9h-.9zM344.6 293.0h.9v.9h-.9zM352.5 294.7h.9v.9h-.9zM354.2 295.7h.9v.9h-.9zM345.9 285.2h.9v.9h-.9zM341.2 295.2h.9v.9h-.9zM338.8 284.4h.9v.9h-.9zM336.9 293.5h.9v.9h-.9zM357.4 289.5h.9v.9h-.9zM338.1 282.3h.9v.9h-.9zM343.8 288.7h.9v.9h-.9zM344.7 293.6h.9v.9h-.9zM351.6 290.3h.9v.9h-.9zM354.0 284.6h.9v.9h-.9zM350.1 291.2h.9v.9h-.9zM350.5 293.2h.9v.9h-.9zM346.1 293.4h.9v.9h-.9zM346.3 296.1h.9v.9h-.9zM356.2 291.1h.9v.9h-.9zM350.7 292.7h.9v.9h-.9zM349.9 291.2h.9v.9h-.9zM345.1 290.9h.9v.9h-.9zM350.8 295.8h.9v.9h-.9zM350.5 293.9h.9v.9h-.9zM339.5 286.5h.9v.9h-.9zM350.4 283.5h.9v.9h-.9zM350.2 283.4h.9v.9h-.9zM353.8 293.5h.9v.9h-.9zM348.6 296.3h.9v.9h-.9zM357.5 287.1h.9v.9h-.9zM346.5 292.0h.9v.9h-.9zM340.7 292.1h.9v.9h-.9zM347.7 290.7h.9v.9h-.9zM351.7 294.6h.9v.9h-.9zM341.5 287.4h.9v.9h-.9zM348.0 288.0h.9v.9h-.9zM357.3 286.1h.9v.9h-.9zM350.6 295.6h.9v.9h-.9zM347.9 294.8h.9v.9h-.9zM347.8 295.5h.9v.9h-.9zM350.1 294.6h.9v.9h-.9zM349.3 292.9h.9v.9h-.9zM352.2 295.0h.9v.9h-.9zM357.7 295.2h.9v.9h-.9zM345.7 295.7h.9v.9h-.9zM344.3 291.8h.9v.9h-.9zM354.7 289.2h.9v.9h-.9zM345.1 284.6h.9v.9h-.9zM344.3 290.5h.9v.9h-.9zM342.2 292.2h.9v.9h-.9zM346.1 291.5h.9v.9h-.9zM340.7 295.0h.9v.9h-.9zM335.7 296.1h.9v.9h-.9zM345.4 295.2h.9v.9h-.9zM348.2 292.6h.9v.9h-.9zM341.1 291.1h.9v.9h-.9zM345.3 281.4h.9v.9h-.9zM355.4 291.3h.9v.9h-.9zM351.3 294.0h.9v.9h-.9zM345.1 292.2h.9v.9h-.9zM347.8 286.0h.9v.9h-.9zM355.2 293.9h.9v.9h-.9zM351.3 289.3h.9v.9h-.9zM344.0 283.8h.9v.9h-.9zM351.5 294.5h.9v.9h-.9zM352.7 286.9h.9v.9h-.9zM342.0 292.1h.9v.9h-.9zM357.1 293.4h.9v.9h-.9zM349.4 291.4h.9v.9h-.9zM344.5 291.2h.9v.9h-.9zM355.4 290.4h.9v.9h-.9zM344.9 283.1h.9v.9h-.9zM352.1 287.6h.9v.9h-.9zM353.3 293.2h.9v.9h-.9zM336.4 288.9h.9v.9h-.9zM349.7 283.9h.9v.9h-.9zM341.8 293.3h.9v.9h-.9zM343.3 294.8h.9v.9h-.9zM347.9 296.1h.9v.9h-.9zM351.2 291.7h.9v.9h-.9zM354.9 284.5h.9v.9h-.9zM346.8 292.5h.9v.9h-.9zM347.7 282.4h.9v.9h-.9zM342.8 287.8h.9v.9h-.9zM352.9 292.5h.9v.9h-.9zM344.4 291.0h.9v.9h-.9zM340.5 296.1h.9v.9h-.9zM351.7 287.4h.9v.9h-.9zM344.4 282.6h.9v.9h-.9zM354.0 292.8h.9v.9h-.9zM344.8 291.1h.9v.9h-.9zM348.3 294.8h.9v.9h-.9zM340.2 295.2h.9v.9h-.9zM348.5 284.7h.9v.9h-.9zM343.8 293.4h.9v.9h-.9zM344.0 291.2h.9v.9h-.9zM350.9 286.7h.9v.9h-.9zM341.6 291.5h.9v.9h-.9zM340.0 295.0h.9v.9h-.9zM356.6 295.6h.9v.9h-.9zM348.0 279.5h.9v.9h-.9zM348.2 284.1h.9v.9h-.9zM347.3 296.4h.9v.9h-.9zM341.2 288.6h.9v.9h-.9zM357.6 288.6h.9v.9h-.9zM351.2 287.0h.9v.9h-.9zM340.0 287.5h.9v.9h-.9zM353.9 285.2h.9v.9h-.9zM355.1 295.3h.9v.9h-.9zM341.2 287.6h.9v.9h-.9zM346.3 292.2h.9v.9h-.9zM356.2 292.9h.9v.9h-.9zM353.8 293.2h.9v.9h-.9zM344.4 286.2h.9v.9h-.9zM344.2 293.9h.9v.9h-.9zM353.7 292.9h.9v.9h-.9zM350.4 285.8h.9v.9h-.9zM343.8 290.1h.9v.9h-.9zM351.5 295.5h.9v.9h-.9zM351.9 295.3h.9v.9h-.9zM345.6 295.4h.9v.9h-.9zM353.4 295.6h.9v.9h-.9zM347.9 294.5h.9v.9h-.9zM348.6 293.9h.9v.9h-.9zM341.8 293.7h.9v.9h-.9zM352.4 287.8h.9v.9h-.9zM349.3 295.7h.9v.9h-.9zM351.0 289.3h.9v.9h-.9zM346.6 286.1h.9v.9h-.9zM341.8 290.2h.9v.9h-.9zM352.8 288.4h.9v.9h-.9zM340.9 294.4h.9v.9h-.9zM352.3 288.7h.9v.9h-.9zM341.3 295.6h.9v.9h-.9zM355.1 295.0h.9v.9h-.9zM349.1 290.6h.9v.9h-.9zM349.8 294.8h.9v.9h-.9zM341.1 288.1h.9v.9h-.9zM343.7 284.4h.9v.9h-.9zM342.7 292.1h.9v.9h-.9zM340.5 294.4h.9v.9h-.9zM347.0 292.7h.9v.9h-.9zM352.3 292.2h.9v.9h-.9zM345.4 293.8h.9v.9h-.9zM343.3 295.4h.9v.9h-.9zM347.5 292.6h.9v.9h-.9zM347.3 295.7h.9v.9h-.9zM352.0 288.4h.9v.9h-.9zM352.3 293.1h.9v.9h-.9zM340.2 288.3h.9v.9h-.9zM353.6 293.9h.9v.9h-.9zM348.3 295.4h.9v.9h-.9zM345.1 292.2h.9v.9h-.9zM354.2 289.9h.9v.9h-.9zM349.7 294.3h.9v.9h-.9zM341.0 290.5h.9v.9h-.9zM341.7 287.7h.9v.9h-.9zM343.0 294.8h.9v.9h-.9zM347.9 289.5h.9v.9h-.9zM350.7 291.0h.9v.9h-.9zM351.6 291.0h.9v.9h-.9zM345.1 289.0h.9v.9h-.9zM354.2 296.1h.9v.9h-.9zM335.4 298.0h.9v.9h-.9zM354.5 292.4h.9v.9h-.9zM349.1 288.8h.9v.9h-.9zM350.8 283.7h.9v.9h-.9zM349.4 292.0h.9v.9h-.9zM342.5 295.0h.9v.9h-.9zM350.9 295.5h.9v.9h-.9zM347.0 293.1h.9v.9h-.9zM346.2 283.1h.9v.9h-.9zM352.6 293.8h.9v.9h-.9zM348.4 296.1h.9v.9h-.9zM347.2 293.5h.9v.9h-.9zM342.3 288.9h.9v.9h-.9zM357.7 285.6h.9v.9h-.9zM343.6 293.4h.9v.9h-.9zM358.2 293.8h.9v.9h-.9zM339.7 289.7h.9v.9h-.9zM341.2 293.8h.9v.9h-.9zM340.0 286.5h.9v.9h-.9zM343.1 295.4h.9v.9h-.9zM341.9 280.0h.9v.9h-.9zM346.4 287.5h.9v.9h-.9zM340.8 291.8h.9v.9h-.9zM345.0 279.4h.9v.9h-.9zM339.5 287.5h.9v.9h-.9zM342.6 293.8h.9v.9h-.9zM348.0 294.7h.9v.9h-.9zM344.6 280.6h.9v.9h-.9zM346.9 287.4h.9v.9h-.9zM353.7 290.2h.9v.9h-.9zM339.7 292.9h.9v.9h-.9zM349.8 295.5h.9v.9h-.9zM352.7 294.1h.9v.9h-.9zM341.2 288.1h.9v.9h-.9zM348.3 293.6h.9v.9h-.9zM336.8 292.6h.9v.9h-.9zM350.9 290.8h.9v.9h-.9zM355.4 283.3h.9v.9h-.9zM340.2 295.3h.9v.9h-.9zM354.3 295.5h.9v.9h-.9zM351.1 287.3h.9v.9h-.9zM340.2 293.0h.9v.9h-.9zM343.8 290.0h.9v.9h-.9zM352.2 295.6h.9v.9h-.9zM349.0 295.7h.9v.9h-.9zM355.5 282.8h.9v.9h-.9zM347.3 296.0h.9v.9h-.9zM351.4 294.7h.9v.9h-.9zM355.8 296.3h.9v.9h-.9zM344.8 293.8h.9v.9h-.9zM351.6 290.2h.9v.9h-.9zM344.9 290.1h.9v.9h-.9zM341.3 284.7h.9v.9h-.9zM345.3 294.1h.9v.9h-.9zM350.6 279.7h.9v.9h-.9zM342.1 291.2h.9v.9h-.9zM350.8 281.0h.9v.9h-.9zM350.9 295.1h.9v.9h-.9zM344.5 291.8h.9v.9h-.9zM358.9 294.8h.9v.9h-.9zM353.6 281.8h.9v.9h-.9zM353.1 282.7h.9v.9h-.9zM339.5 288.0h.9v.9h-.9zM339.8 292.6h.9v.9h-.9zM340.0 291.2h.9v.9h-.9zM341.9 290.3h.9v.9h-.9zM349.5 295.4h.9v.9h-.9zM344.8 289.2h.9v.9h-.9zM343.0 290.3h.9v.9h-.9zM349.9 295.1h.9v.9h-.9zM359.0 295.3h.9v.9h-.9zM352.1 290.6h.9v.9h-.9zM352.0 283.8h.9v.9h-.9zM355.8 290.1h.9v.9h-.9zM346.3 281.0h.9v.9h-.9zM348.7 295.9h.9v.9h-.9zM343.9 293.4h.9v.9h-.9zM356.5 290.3h.9v.9h-.9zM348.7 292.9h.9v.9h-.9zM340.7 283.7h.9v.9h-.9zM351.7 286.4h.9v.9h-.9zM345.5 291.8h.9v.9h-.9zM355.6 292.1h.9v.9h-.9zM344.7 287.7h.9v.9h-.9zM341.1 279.0h.9v.9h-.9zM353.3 288.8h.9v.9h-.9zM346.4 294.5h.9v.9h-.9zM353.6 295.6h.9v.9h-.9zM342.1 290.5h.9v.9h-.9zM350.9 289.0h.9v.9h-.9zM343.7 293.6h.9v.9h-.9zM350.4 289.3h.9v.9h-.9zM343.9 293.6h.9v.9h-.9zM350.0 292.1h.9v.9h-.9zM342.4 293.9h.9v.9h-.9zM343.1 290.8h.9v.9h-.9zM355.1 292.3h.9v.9h-.9zM342.9 292.7h.9v.9h-.9zM347.6 295.1h.9v.9h-.9zM343.8 291.2h.9v.9h-.9zM341.8 294.9h.9v.9h-.9zM358.4 290.4h.9v.9h-.9zM343.8 285.8h.9v.9h-.9zM344.6 290.8h.9v.9h-.9zM352.3 288.8h.9v.9h-.9zM353.4 291.4h.9v.9h-.9zM346.1 286.3h.9v.9h-.9zM349.1 294.9h.9v.9h-.9zM343.4 292.9h.9v.9h-.9zM342.1 282.1h.9v.9h-.9zM342.3 291.4h.9v.9h-.9zM353.2 295.1h.9v.9h-.9zM347.9 295.8h.9v.9h-.9zM388.1 292.8h.9v.9h-.9zM373.0 290.8h.9v.9h-.9zM371.7 287.2h.9v.9h-.9zM367.1 295.5h.9v.9h-.9zM365.9 294.9h.9v.9h-.9zM378.2 285.3h.9v.9h-.9zM384.2 283.1h.9v.9h-.9zM374.2 289.5h.9v.9h-.9zM372.1 291.5h.9v.9h-.9zM381.6 286.1h.9v.9h-.9zM381.6 295.0h.9v.9h-.9zM367.0 285.7h.9v.9h-.9zM379.1 277.4h.9v.9h-.9zM373.6 289.5h.9v.9h-.9zM373.0 293.8h.9v.9h-.9zM366.3 293.6h.9v.9h-.9zM376.2 289.5h.9v.9h-.9zM373.2 289.9h.9v.9h-.9zM385.6 288.6h.9v.9h-.9zM367.2 291.4h.9v.9h-.9zM381.2 293.8h.9v.9h-.9zM378.1 289.7h.9v.9h-.9zM387.3 289.0h.9v.9h-.9zM382.3 285.5h.9v.9h-.9zM371.6 287.6h.9v.9h-.9zM376.6 294.8h.9v.9h-.9zM377.9 285.9h.9v.9h-.9zM374.5 278.0h.9v.9h-.9zM385.0 294.7h.9v.9h-.9zM378.7 284.9h.9v.9h-.9zM385.6 288.6h.9v.9h-.9zM382.3 295.2h.9v.9h-.9zM376.5 295.0h.9v.9h-.9zM378.5 292.1h.9v.9h-.9zM383.0 295.6h.9v.9h-.9zM374.6 291.5h.9v.9h-.9zM365.8 290.7h.9v.9h-.9zM365.6 290.2h.9v.9h-.9zM383.0 294.6h.9v.9h-.9zM369.4 294.9h.9v.9h-.9zM367.7 292.7h.9v.9h-.9zM386.1 295.7h.9v.9h-.9zM381.9 286.5h.9v.9h-.9zM386.9 294.9h.9v.9h-.9zM368.0 288.3h.9v.9h-.9zM377.3 294.1h.9v.9h-.9zM368.5 292.6h.9v.9h-.9zM365.3 296.5h.9v.9h-.9zM375.4 294.0h.9v.9h-.9zM366.3 281.6h.9v.9h-.9zM379.1 277.6h.9v.9h-.9zM372.5 290.4h.9v.9h-.9zM372.0 294.9h.9v.9h-.9zM363.4 295.5h.9v.9h-.9zM378.1 282.0h.9v.9h-.9zM377.0 284.4h.9v.9h-.9zM369.4 295.9h.9v.9h-.9zM377.4 291.7h.9v.9h-.9zM377.3 292.6h.9v.9h-.9zM367.0 295.6h.9v.9h-.9zM368.5 283.5h.9v.9h-.9zM389.2 295.3h.9v.9h-.9zM385.4 293.0h.9v.9h-.9zM378.4 292.5h.9v.9h-.9zM387.5 285.2h.9v.9h-.9zM369.9 295.0h.9v.9h-.9zM374.6 293.2h.9v.9h-.9zM383.1 280.6h.9v.9h-.9zM388.2 285.1h.9v.9h-.9zM369.0 294.2h.9v.9h-.9zM386.1 287.6h.9v.9h-.9zM375.3 295.1h.9v.9h-.9zM384.0 286.0h.9v.9h-.9zM382.8 291.7h.9v.9h-.9zM382.6 291.1h.9v.9h-.9zM385.3 295.2h.9v.9h-.9zM368.9 285.4h.9v.9h-.9zM382.3 294.4h.9v.9h-.9zM375.6 294.6h.9v.9h-.9zM381.3 295.9h.9v.9h-.9zM383.7 290.7h.9v.9h-.9zM381.2 292.3h.9v.9h-.9zM370.8 292.0h.9v.9h-.9zM382.6 292.9h.9v.9h-.9zM367.6 288.5h.9v.9h-.9zM368.6 287.5h.9v.9h-.9zM364.4 294.9h.9v.9h-.9zM367.8 294.3h.9v.9h-.9zM380.7 294.9h.9v.9h-.9zM371.8 290.2h.9v.9h-.9zM378.3 282.6h.9v.9h-.9zM366.2 278.9h.9v.9h-.9zM374.5 295.9h.9v.9h-.9zM371.7 283.9h.9v.9h-.9zM387.0 293.9h.9v.9h-.9zM372.4 292.4h.9v.9h-.9zM390.4 300.5h.9v.9h-.9zM375.6 293.0h.9v.9h-.9zM362.9 291.4h.9v.9h-.9zM379.2 290.9h.9v.9h-.9zM387.8 296.1h.9v.9h-.9zM389.2 296.0h.9v.9h-.9zM379.7 275.8h.9v.9h-.9zM381.9 294.6h.9v.9h-.9zM368.4 293.7h.9v.9h-.9zM372.8 279.0h.9v.9h-.9zM379.5 283.1h.9v.9h-.9zM385.8 296.7h.9v.9h-.9zM368.1 294.2h.9v.9h-.9zM363.7 290.1h.9v.9h-.9zM380.9 296.0h.9v.9h-.9zM370.8 291.6h.9v.9h-.9zM382.8 293.2h.9v.9h-.9zM370.5 293.6h.9v.9h-.9zM380.4 288.2h.9v.9h-.9zM376.5 288.3h.9v.9h-.9zM367.4 293.9h.9v.9h-.9zM385.5 296.1h.9v.9h-.9zM378.0 293.3h.9v.9h-.9zM365.2 292.4h.9v.9h-.9zM370.8 291.0h.9v.9h-.9zM369.2 285.6h.9v.9h-.9zM375.8 287.6h.9v.9h-.9zM373.2 292.5h.9v.9h-.9zM387.8 292.4h.9v.9h-.9zM376.0 296.0h.9v.9h-.9zM380.7 279.1h.9v.9h-.9zM376.2 292.2h.9v.9h-.9zM379.3 292.1h.9v.9h-.9zM370.0 291.7h.9v.9h-.9zM383.8 296.2h.9v.9h-.9zM378.5 282.6h.9v.9h-.9zM373.1 289.6h.9v.9h-.9zM374.2 294.9h.9v.9h-.9zM363.6 282.3h.9v.9h-.9zM367.6 281.8h.9v.9h-.9zM367.9 285.7h.9v.9h-.9zM388.2 291.3h.9v.9h-.9zM379.6 294.6h.9v.9h-.9zM368.9 290.1h.9v.9h-.9zM373.2 293.8h.9v.9h-.9zM375.5 294.5h.9v.9h-.9zM373.4 292.8h.9v.9h-.9zM378.5 293.5h.9v.9h-.9zM370.2 291.8h.9v.9h-.9zM364.2 288.8h.9v.9h-.9zM387.1 287.7h.9v.9h-.9zM379.5 295.4h.9v.9h-.9zM379.3 291.8h.9v.9h-.9zM372.1 288.2h.9v.9h-.9zM382.2 291.8h.9v.9h-.9zM377.7 288.8h.9v.9h-.9zM379.6 293.5h.9v.9h-.9zM385.3 289.2h.9v.9h-.9zM384.2 294.6h.9v.9h-.9zM365.3 291.8h.9v.9h-.9zM384.8 287.0h.9v.9h-.9zM372.4 293.4h.9v.9h-.9zM375.3 290.3h.9v.9h-.9zM370.4 293.5h.9v.9h-.9zM371.5 289.4h.9v.9h-.9zM384.7 293.6h.9v.9h-.9zM375.9 296.3h.9v.9h-.9zM379.2 290.5h.9v.9h-.9zM365.9 283.4h.9v.9h-.9zM381.0 290.0h.9v.9h-.9zM374.7 290.7h.9v.9h-.9zM382.1 289.6h.9v.9h-.9zM384.0 294.0h.9v.9h-.9zM377.2 294.0h.9v.9h-.9zM375.0 290.3h.9v.9h-.9zM385.1 293.0h.9v.9h-.9zM365.4 296.4h.9v.9h-.9zM367.1 293.9h.9v.9h-.9zM368.3 293.3h.9v.9h-.9zM382.9 287.6h.9v.9h-.9zM373.0 290.2h.9v.9h-.9zM383.6 294.7h.9v.9h-.9zM378.6 288.0h.9v.9h-.9zM365.3 296.3h.9v.9h-.9zM363.5 293.7h.9v.9h-.9zM369.7 296.0h.9v.9h-.9zM384.8 290.7h.9v.9h-.9zM386.2 281.7h.9v.9h-.9zM368.9 292.9h.9v.9h-.9zM385.5 293.1h.9v.9h-.9zM378.4 281.3h.9v.9h-.9zM370.5 296.1h.9v.9h-.9zM366.6 291.9h.9v.9h-.9zM370.9 290.5h.9v.9h-.9zM382.4 285.8h.9v.9h-.9zM382.5 293.6h.9v.9h-.9zM380.6 286.1h.9v.9h-.9zM376.5 295.2h.9v.9h-.9zM377.9 280.2h.9v.9h-.9zM366.2 295.6h.9v.9h-.9zM383.6 292.1h.9v.9h-.9zM373.9 286.5h.9v.9h-.9zM377.7 293.2h.9v.9h-.9zM371.5 292.9h.9v.9h-.9zM373.8 294.8h.9v.9h-.9zM389.6 298.4h.9v.9h-.9zM382.4 287.3h.9v.9h-.9zM369.1 294.0h.9v.9h-.9zM370.0 294.1h.9v.9h-.9zM385.4 293.6h.9v.9h-.9zM368.5 284.8h.9v.9h-.9zM365.2 292.2h.9v.9h-.9zM387.0 295.5h.9v.9h-.9zM369.8 289.1h.9v.9h-.9zM366.0 293.0h.9v.9h-.9zM377.1 293.4h.9v.9h-.9zM383.1 289.3h.9v.9h-.9zM369.7 289.2h.9v.9h-.9zM377.8 281.7h.9v.9h-.9zM372.1 292.7h.9v.9h-.9zM378.9 293.4h.9v.9h-.9zM379.2 290.5h.9v.9h-.9zM374.0 288.8h.9v.9h-.9zM377.5 294.9h.9v.9h-.9zM376.1 294.1h.9v.9h-.9zM364.5 287.8h.9v.9h-.9zM376.2 288.9h.9v.9h-.9zM377.9 288.4h.9v.9h-.9zM380.9 294.1h.9v.9h-.9zM381.2 292.7h.9v.9h-.9zM386.9 292.1h.9v.9h-.9zM371.4 285.4h.9v.9h-.9zM380.5 294.6h.9v.9h-.9zM374.2 295.0h.9v.9h-.9zM381.0 294.9h.9v.9h-.9zM371.0 294.8h.9v.9h-.9zM365.5 294.4h.9v.9h-.9zM379.7 291.7h.9v.9h-.9zM373.4 293.0h.9v.9h-.9zM390.6 299.6h.9v.9h-.9zM383.2 280.0h.9v.9h-.9zM369.1 294.8h.9v.9h-.9zM371.1 291.5h.9v.9h-.9zM385.8 284.4h.9v.9h-.9zM382.3 288.7h.9v.9h-.9zM372.8 293.9h.9v.9h-.9zM390.1 296.4h.9v.9h-.9zM367.5 294.9h.9v.9h-.9zM374.1 293.5h.9v.9h-.9zM386.3 296.3h.9v.9h-.9zM373.8 284.0h.9v.9h-.9zM383.7 289.5h.9v.9h-.9zM371.9 286.6h.9v.9h-.9zM380.9 282.3h.9v.9h-.9zM378.0 293.3h.9v.9h-.9zM383.0 291.1h.9v.9h-.9zM383.0 295.0h.9v.9h-.9zM376.3 288.2h.9v.9h-.9zM375.7 286.3h.9v.9h-.9zM375.5 293.1h.9v.9h-.9zM366.4 291.7h.9v.9h-.9zM383.9 281.4h.9v.9h-.9zM376.2 286.2h.9v.9h-.9zM378.2 291.4h.9v.9h-.9zM373.8 282.6h.9v.9h-.9zM389.8 291.6h.9v.9h-.9zM387.7 285.6h.9v.9h-.9zM386.4 292.5h.9v.9h-.9zM372.7 284.5h.9v.9h-.9zM371.9 293.7h.9v.9h-.9zM378.6 294.3h.9v.9h-.9zM369.0 288.5h.9v.9h-.9zM380.5 294.5h.9v.9h-.9zM379.3 291.4h.9v.9h-.9zM374.8 292.7h.9v.9h-.9zM368.0 285.0h.9v.9h-.9zM375.1 286.1h.9v.9h-.9zM366.0 291.7h.9v.9h-.9zM381.3 277.9h.9v.9h-.9zM370.6 294.3h.9v.9h-.9zM379.7 286.1h.9v.9h-.9zM367.4 291.8h.9v.9h-.9zM372.8 294.7h.9v.9h-.9zM373.3 295.5h.9v.9h-.9zM371.9 293.1h.9v.9h-.9zM375.6 290.3h.9v.9h-.9zM367.1 284.9h.9v.9h-.9zM378.5 291.8h.9v.9h-.9zM373.1 290.7h.9v.9h-.9zM363.2 295.3h.9v.9h-.9zM370.4 290.1h.9v.9h-.9zM384.2 293.8h.9v.9h-.9zM379.1 294.4h.9v.9h-.9zM370.8 293.5h.9v.9h-.9zM382.6 290.5h.9v.9h-.9zM368.3 285.5h.9v.9h-.9zM372.4 295.7h.9v.9h-.9zM375.0 293.5h.9v.9h-.9zM377.7 290.6h.9v.9h-.9zM381.2 293.2h.9v.9h-.9zM378.4 294.8h.9v.9h-.9zM377.5 287.9h.9v.9h-.9zM385.8 292.2h.9v.9h-.9zM381.0 294.0h.9v.9h-.9zM374.5 287.2h.9v.9h-.9zM378.9 284.8h.9v.9h-.9zM380.3 291.2h.9v.9h-.9zM373.3 294.8h.9v.9h-.9zM368.2 289.9h.9v.9h-.9zM384.5 283.3h.9v.9h-.9zM374.2 289.9h.9v.9h-.9zM378.6 290.7h.9v.9h-.9zM378.2 290.0h.9v.9h-.9zM382.2 283.3h.9v.9h-.9zM371.1 289.9h.9v.9h-.9zM368.5 290.8h.9v.9h-.9zM377.3 282.5h.9v.9h-.9zM379.3 280.5h.9v.9h-.9zM371.8 289.4h.9v.9h-.9zM368.8 284.3h.9v.9h-.9zM368.7 293.0h.9v.9h-.9zM376.3 295.5h.9v.9h-.9zM378.3 289.9h.9v.9h-.9zM375.9 284.2h.9v.9h-.9zM373.0 287.3h.9v.9h-.9zM389.6 290.6h.9v.9h-.9zM381.8 293.4h.9v.9h-.9zM384.3 295.9h.9v.9h-.9zM377.0 294.5h.9v.9h-.9zM379.8 292.6h.9v.9h-.9zM383.7 293.3h.9v.9h-.9zM374.9 286.8h.9v.9h-.9zM389.1 296.6h.9v.9h-.9zM376.8 292.3h.9v.9h-.9zM383.8 292.6h.9v.9h-.9zM389.3 296.2h.9v.9h-.9zM379.5 294.7h.9v.9h-.9zM379.2 289.9h.9v.9h-.9zM369.9 293.9h.9v.9h-.9zM372.0 293.2h.9v.9h-.9zM374.6 275.3h.9v.9h-.9zM374.6 290.4h.9v.9h-.9zM365.6 293.4h.9v.9h-.9zM383.7 295.0h.9v.9h-.9zM357.4 278.0h.9v.9h-.9zM350.9 290.5h.9v.9h-.9zM350.8 282.0h.9v.9h-.9zM356.6 288.0h.9v.9h-.9zM373.5 288.2h.9v.9h-.9zM375.7 291.9h.9v.9h-.9zM382.5 283.6h.9v.9h-.9zM371.3 277.4h.9v.9h-.9zM349.8 295.4h.9v.9h-.9zM358.2 278.3h.9v.9h-.9zM377.4 284.8h.9v.9h-.9zM357.5 286.3h.9v.9h-.9zM363.8 294.3h.9v.9h-.9zM383.4 293.6h.9v.9h-.9zM382.1 291.4h.9v.9h-.9zM347.3 287.5h.9v.9h-.9zM350.7 294.2h.9v.9h-.9zM371.1 281.9h.9v.9h-.9zM348.7 287.3h.9v.9h-.9zM345.1 279.2h.9v.9h-.9zM366.9 274.6h.9v.9h-.9zM380.8 294.1h.9v.9h-.9zM354.7 292.5h.9v.9h-.9zM366.6 283.9h.9v.9h-.9zM348.5 294.3h.9v.9h-.9z" fill="#161616"/>
<path d="M356.6 314.8h1v.9h-1zM368.0 312.5h1v.9h-1zM366.1 315.1h1v.9h-1zM358.6 314.7h1v.9h-1zM362.1 313.2h1v.9h-1zM364.3 315.0h1v.9h-1zM361.2 313.3h1v.9h-1zM371.4 313.3h1v.9h-1zM370.9 315.0h1v.9h-1zM371.5 314.5h1v.9h-1zM358.5 313.0h1v.9h-1zM366.2 313.0h1v.9h-1zM358.3 314.2h1v.9h-1zM370.7 313.3h1v.9h-1zM358.8 314.9h1v.9h-1zM356.8 313.5h1v.9h-1zM354.7 315.1h1v.9h-1zM351.5 312.9h1v.9h-1zM371.8 314.5h1v.9h-1zM356.6 314.4h1v.9h-1zM372.7 314.6h1v.9h-1zM369.5 314.1h1v.9h-1zM362.8 313.4h1v.9h-1zM364.3 312.6h1v.9h-1zM367.0 312.9h1v.9h-1zM364.2 313.4h1v.9h-1zM371.1 313.9h1v.9h-1zM358.3 313.9h1v.9h-1zM360.1 313.1h1v.9h-1zM356.7 314.8h1v.9h-1zM374.1 313.5h1v.9h-1zM374.4 313.3h1v.9h-1zM358.6 312.7h1v.9h-1zM369.2 314.5h1v.9h-1zM369.2 314.9h1v.9h-1zM371.3 314.0h1v.9h-1zM370.2 312.5h1v.9h-1zM372.5 314.6h1v.9h-1zM361.2 312.4h1v.9h-1zM352.3 314.7h1v.9h-1z" fill="#fff"/>
<rect x="331.80" y="309.90" width="16.50" height="5.90" fill="#cbcbcb" stroke="#999" stroke-width="0.4"/>
<rect x="380.60" y="309.90" width="15.60" height="5.90" fill="#ececec" stroke="#aaa" stroke-width="0.4"/>
<text x="332.40" y="257.00" font-size="5.7" text-anchor="start" fill="#6a6a6a">0.77</text>
<text x="395.00" y="257.00" font-size="5.7" text-anchor="end" fill="#6a6a6a">1.51</text>
<text x="332.60" y="314.70" font-size="5.7" text-anchor="start" fill="#5c5c5c">61.74</text>
<text x="395.60" y="314.70" font-size="5.7" text-anchor="end" fill="#5c5c5c">35.98</text>
<rect x="331.4" y="251.9" width="65.20" height="64.10" fill="none" stroke="#bcbcbc" stroke-width="0.7"/>
</g>
<g>
<rect x="431.4" y="251.9" width="65.20" height="64.10" fill="#fff" stroke="#bcbcbc" stroke-width="0.7"/>
<path d="M457.3 251.9 V316.0 M431.4 295.1 H496.6" stroke="#c8c8c8" stroke-width="0.7" fill="none"/>
<path d="M447.70 316.0 v-1.6 M431.4 299.98 h1.6 M464.00 316.0 v-1.6 M431.4 283.95 h1.6 M480.30 316.0 v-1.6 M431.4 267.93 h1.6" stroke="#999" stroke-width="0.6" fill="none"/>
<text x="429.00" y="320.80" font-size="3.3" fill="#b8b8b8">10<tspan dy="-1.3" font-size="2.3">0</tspan></text>
<text x="424.80" y="317.00" font-size="3.3" fill="#b8b8b8">10<tspan dy="-1.3" font-size="2.3">0</tspan></text>
<text x="445.30" y="320.80" font-size="3.3" fill="#b8b8b8">10<tspan dy="-1.3" font-size="2.3">1</tspan></text>
<text x="424.80" y="300.98" font-size="3.3" fill="#b8b8b8">10<tspan dy="-1.3" font-size="2.3">1</tspan></text>
<text x="461.60" y="320.80" font-size="3.3" fill="#b8b8b8">10<tspan dy="-1.3" font-size="2.3">2</tspan></text>
<text x="424.80" y="284.95" font-size="3.3" fill="#b8b8b8">10<tspan dy="-1.3" font-size="2.3">2</tspan></text>
<text x="477.90" y="320.80" font-size="3.3" fill="#b8b8b8">10<tspan dy="-1.3" font-size="2.3">3</tspan></text>
<text x="424.80" y="268.93" font-size="3.3" fill="#b8b8b8">10<tspan dy="-1.3" font-size="2.3">3</tspan></text>
<text x="464.00" y="326.20" font-size="2.9" text-anchor="middle" fill="#999">FL1-H</text>
<text transform="translate(418.80 284.95) rotate(-90)" font-size="2.9" text-anchor="middle" fill="#999">FL2-H</text>
<path d="M431.8 300.8 L432.3 299.8 L432.8 300.0 L433.3 299.4 L433.8 299.9 L434.3 299.0 L434.8 299.4 L435.3 299.3 L435.8 299.4 L436.3 299.5 L436.8 298.6 L437.3 298.2 L437.8 298.3 L438.3 297.8 L438.8 297.5 L439.3 297.2 L439.8 297.6 L440.3 297.8 L440.8 297.8 L441.3 297.2 L441.8 297.7 L442.3 297.5 L442.8 297.1 L443.3 297.1 L443.8 297.0 L444.3 296.6 L444.8 297.0 L445.3 296.9 L445.8 297.1 L446.3 297.6 L446.8 297.6 L447.3 297.3 L447.8 297.7 L448.3 298.0 L448.8 297.6 L449.3 297.9 L449.8 297.1 L450.3 296.7 L450.8 296.6 L451.3 297.3 L451.8 297.5 L452.3 297.6 L452.8 297.2 L453.3 297.2 L453.8 297.6 L454.3 297.0 L454.8 296.7 L455.3 296.4 L455.8 296.7 L456.3 297.3 L456.8 297.3 L457.3 297.2 L457.8 297.2 L458.3 296.8 L458.8 297.5 L459.3 297.2 L459.8 296.9 L460.3 296.8 L460.8 297.4 L461.3 297.1 L461.8 297.6 L462.3 297.2 L462.8 297.2 L463.3 296.7 L463.8 297.4 L464.3 297.6 L464.8 297.4 L465.3 296.9 L465.8 297.0 L466.3 297.0 L466.8 297.4 L467.3 297.8 L467.8 297.8 L468.3 297.3 L468.8 296.7 L469.3 297.4 L469.8 297.8 L470.3 297.1 L470.8 297.2 L471.3 297.2 L471.8 297.7 L472.3 297.0 L472.8 296.6 L473.3 297.2 L473.8 297.3 L474.3 297.2 L474.8 297.5 L475.3 297.5 L475.8 297.6 L476.3 297.1 L476.8 296.7 L477.3 296.4 L477.8 296.6 L478.3 297.0 L478.8 297.0 L479.3 296.9 L479.8 297.2 L480.3 297.4 L480.8 297.4 L481.3 297.1 L481.8 297.5 L482.3 297.7 L482.8 297.9 L483.3 298.0 L483.8 297.1 L484.3 297.3 L484.8 297.1 L485.3 297.2 L485.8 297.7 L486.3 297.8 L486.8 298.8 L487.3 301.0 L487.8 302.1 L488.3 303.7 L488.8 304.8 L488.8 305.5 L488.3 305.6 L487.8 305.9 L487.3 306.5 L486.8 307.1 L486.3 307.5 L485.8 307.6 L485.3 307.7 L484.8 307.7 L484.3 307.8 L483.8 307.8 L483.3 307.9 L482.8 307.9 L482.3 308.0 L481.8 308.0 L481.3 308.0 L480.8 308.0 L480.3 315.7 L479.8 315.7 L479.3 315.7 L478.8 315.7 L478.3 315.7 L477.8 315.7 L477.3 315.7 L476.8 315.7 L476.3 315.7 L475.8 315.7 L475.3 315.7 L474.8 315.7 L474.3 315.7 L473.8 315.7 L473.3 315.7 L472.8 315.7 L472.3 315.7 L471.8 315.7 L471.3 315.7 L470.8 315.7 L470.3 315.7 L469.8 315.7 L469.3 315.7 L468.8 315.7 L468.3 315.7 L467.8 315.7 L467.3 315.7 L466.8 315.7 L466.3 315.7 L465.8 315.7 L465.3 315.7 L464.8 315.7 L464.3 315.7 L463.8 315.7 L463.3 315.7 L462.8 315.7 L462.3 315.7 L461.8 315.7 L461.3 315.7 L460.8 315.7 L460.3 315.7 L459.8 315.7 L459.3 315.7 L458.8 315.7 L458.3 315.7 L457.8 315.7 L457.3 315.7 L456.8 315.7 L456.3 315.7 L455.8 315.7 L455.3 315.7 L454.8 315.7 L454.3 315.7 L453.8 315.7 L453.3 315.7 L452.8 315.7 L452.3 315.7 L451.8 315.7 L451.3 315.7 L450.8 315.7 L450.3 315.7 L449.8 315.7 L449.3 315.7 L448.8 315.7 L448.3 315.7 L447.8 308.2 L447.3 308.2 L446.8 308.2 L446.3 308.2 L445.8 308.2 L445.3 308.2 L444.8 308.2 L444.3 308.2 L443.8 308.2 L443.3 308.2 L442.8 308.2 L442.3 308.2 L441.8 308.2 L441.3 308.2 L440.8 308.2 L440.3 308.2 L439.8 308.2 L439.3 308.2 L438.8 308.2 L438.3 308.2 L437.8 308.2 L437.3 308.2 L436.8 308.2 L436.3 308.2 L435.8 308.2 L435.3 308.2 L434.8 308.2 L434.3 308.2 L433.8 308.2 L433.3 308.2 L432.8 308.2 L432.3 308.2 L431.8 308.2Z" fill="#060606"/>
<path d="M457.3 298.7 V315.0" stroke="#5a5a5a" stroke-width="0.6" fill="none"/>
<path d="M450.5 296.4h.9v.9h-.9zM467.1 296.8h.9v.9h-.9zM451.9 297.4h.9v.9h-.9zM442.3 295.9h.9v.9h-.9zM474.2 297.1h.9v.9h-.9zM480.3 296.7h.9v.9h-.9zM451.6 295.7h.9v.9h-.9zM439.8 297.5h.9v.9h-.9zM452.1 296.5h.9v.9h-.9zM463.8 296.8h.9v.9h-.9zM484.4 296.9h.9v.9h-.9zM477.6 296.6h.9v.9h-.9zM477.3 296.3h.9v.9h-.9zM470.0 296.3h.9v.9h-.9zM470.0 297.1h.9v.9h-.9zM464.0 296.3h.9v.9h-.9zM453.6 297.4h.9v.9h-.9zM464.4 297.0h.9v.9h-.9zM439.1 296.5h.9v.9h-.9zM459.2 297.1h.9v.9h-.9zM473.0 295.4h.9v.9h-.9zM451.8 295.9h.9v.9h-.9zM489.1 303.9h.9v.9h-.9zM455.8 296.5h.9v.9h-.9zM439.9 297.4h.9v.9h-.9zM489.7 304.8h.9v.9h-.9zM485.0 296.2h.9v.9h-.9zM477.4 296.3h.9v.9h-.9zM469.5 297.2h.9v.9h-.9zM471.3 295.9h.9v.9h-.9zM473.8 296.7h.9v.9h-.9zM483.2 297.8h.9v.9h-.9zM441.4 295.6h.9v.9h-.9zM435.6 298.9h.9v.9h-.9zM456.5 295.6h.9v.9h-.9zM453.8 296.9h.9v.9h-.9zM461.2 296.6h.9v.9h-.9zM459.6 296.4h.9v.9h-.9zM466.6 297.0h.9v.9h-.9zM456.7 295.3h.9v.9h-.9zM488.4 303.5h.9v.9h-.9zM486.8 298.7h.9v.9h-.9zM451.5 295.5h.9v.9h-.9zM442.1 296.6h.9v.9h-.9zM489.5 304.0h.9v.9h-.9zM458.8 297.5h.9v.9h-.9zM458.3 296.3h.9v.9h-.9zM477.7 296.2h.9v.9h-.9zM478.6 296.6h.9v.9h-.9zM468.9 295.6h.9v.9h-.9zM441.9 295.2h.9v.9h-.9zM458.2 296.3h.9v.9h-.9zM488.2 303.0h.9v.9h-.9zM462.2 297.0h.9v.9h-.9zM445.0 295.8h.9v.9h-.9zM461.4 296.2h.9v.9h-.9zM472.3 296.1h.9v.9h-.9zM451.0 295.0h.9v.9h-.9zM458.2 296.7h.9v.9h-.9zM482.2 295.8h.9v.9h-.9zM439.3 295.4h.9v.9h-.9zM471.9 297.5h.9v.9h-.9zM465.4 294.8h.9v.9h-.9zM441.1 296.4h.9v.9h-.9zM446.2 297.5h.9v.9h-.9zM487.0 294.5h.9v.9h-.9zM470.0 296.5h.9v.9h-.9zM455.1 296.0h.9v.9h-.9zM467.7 296.5h.9v.9h-.9zM472.6 296.1h.9v.9h-.9zM468.4 296.9h.9v.9h-.9zM478.9 295.3h.9v.9h-.9zM476.8 296.4h.9v.9h-.9zM454.3 293.9h.9v.9h-.9zM454.1 296.1h.9v.9h-.9zM437.9 298.2h.9v.9h-.9zM445.3 296.0h.9v.9h-.9zM445.5 296.1h.9v.9h-.9zM436.6 297.7h.9v.9h-.9zM472.7 296.4h.9v.9h-.9zM446.1 297.4h.9v.9h-.9zM460.7 297.2h.9v.9h-.9zM445.9 295.8h.9v.9h-.9zM486.2 297.7h.9v.9h-.9zM462.2 296.4h.9v.9h-.9zM486.9 298.1h.9v.9h-.9zM462.9 296.0h.9v.9h-.9zM477.7 295.6h.9v.9h-.9zM468.1 296.0h.9v.9h-.9zM434.8 298.2h.9v.9h-.9zM445.2 296.6h.9v.9h-.9zM455.0 296.1h.9v.9h-.9zM466.3 296.3h.9v.9h-.9zM450.6 296.2h.9v.9h-.9zM470.1 295.0h.9v.9h-.9zM454.3 297.0h.9v.9h-.9zM481.4 295.4h.9v.9h-.9zM480.7 296.6h.9v.9h-.9zM456.4 297.3h.9v.9h-.9zM485.2 296.7h.9v.9h-.9zM439.4 296.4h.9v.9h-.9zM434.9 299.0h.9v.9h-.9zM467.0 296.1h.9v.9h-.9zM453.0 297.0h.9v.9h-.9zM452.1 296.2h.9v.9h-.9zM437.6 298.2h.9v.9h-.9zM452.4 295.2h.9v.9h-.9zM483.1 295.3h.9v.9h-.9zM435.2 298.7h.9v.9h-.9zM440.7 297.1h.9v.9h-.9zM477.9 296.0h.9v.9h-.9zM472.0 296.8h.9v.9h-.9zM461.5 296.7h.9v.9h-.9zM446.2 296.6h.9v.9h-.9zM488.7 302.0h.9v.9h-.9zM485.4 295.7h.9v.9h-.9zM470.1 296.6h.9v.9h-.9zM439.3 295.9h.9v.9h-.9zM442.9 294.9h.9v.9h-.9zM481.6 297.2h.9v.9h-.9zM484.4 296.2h.9v.9h-.9zM479.0 296.9h.9v.9h-.9zM448.0 297.5h.9v.9h-.9zM486.4 297.6h.9v.9h-.9zM457.9 296.1h.9v.9h-.9zM455.2 295.6h.9v.9h-.9zM468.3 296.9h.9v.9h-.9zM485.6 296.8h.9v.9h-.9zM474.9 296.5h.9v.9h-.9zM468.0 297.6h.9v.9h-.9zM484.9 294.8h.9v.9h-.9zM438.3 297.4h.9v.9h-.9zM443.1 297.0h.9v.9h-.9zM465.6 296.6h.9v.9h-.9zM440.1 297.3h.9v.9h-.9zM472.3 296.9h.9v.9h-.9zM469.5 296.5h.9v.9h-.9zM480.2 292.0h.9v.9h-.9zM483.0 297.5h.9v.9h-.9zM437.2 297.9h.9v.9h-.9zM442.1 295.9h.9v.9h-.9zM453.4 296.5h.9v.9h-.9zM474.1 296.7h.9v.9h-.9zM489.7 303.9h.9v.9h-.9zM466.6 297.3h.9v.9h-.9zM446.2 296.7h.9v.9h-.9zM457.6 296.5h.9v.9h-.9zM482.9 297.0h.9v.9h-.9zM480.5 297.0h.9v.9h-.9zM436.3 299.2h.9v.9h-.9zM484.4 297.1h.9v.9h-.9zM439.4 297.1h.9v.9h-.9zM489.8 304.6h.9v.9h-.9zM436.8 298.3h.9v.9h-.9zM434.9 298.3h.9v.9h-.9zM471.9 297.3h.9v.9h-.9zM474.0 297.3h.9v.9h-.9zM478.1 296.2h.9v.9h-.9zM475.6 297.4h.9v.9h-.9zM487.1 297.6h.9v.9h-.9zM459.9 296.6h.9v.9h-.9zM462.1 296.2h.9v.9h-.9zM458.9 296.9h.9v.9h-.9zM487.1 300.0h.9v.9h-.9zM454.7 294.7h.9v.9h-.9zM477.6 296.6h.9v.9h-.9zM460.7 297.1h.9v.9h-.9zM449.9 296.7h.9v.9h-.9zM480.4 296.7h.9v.9h-.9zM446.5 297.6h.9v.9h-.9zM441.0 297.5h.9v.9h-.9zM463.5 296.2h.9v.9h-.9zM456.9 296.7h.9v.9h-.9zM450.2 294.3h.9v.9h-.9zM445.0 296.6h.9v.9h-.9zM470.2 295.7h.9v.9h-.9zM455.6 295.9h.9v.9h-.9zM447.0 297.6h.9v.9h-.9zM488.0 302.1h.9v.9h-.9zM476.1 297.1h.9v.9h-.9zM449.6 296.5h.9v.9h-.9zM484.0 295.8h.9v.9h-.9zM449.6 297.1h.9v.9h-.9zM475.6 296.5h.9v.9h-.9zM486.0 297.6h.9v.9h-.9zM470.8 296.4h.9v.9h-.9zM482.8 296.4h.9v.9h-.9zM476.5 295.6h.9v.9h-.9zM437.1 294.7h.9v.9h-.9zM467.1 296.0h.9v.9h-.9zM441.0 297.2h.9v.9h-.9zM483.3 295.3h.9v.9h-.9zM467.5 296.0h.9v.9h-.9zM433.7 299.8h.9v.9h-.9zM447.1 295.7h.9v.9h-.9zM473.3 296.8h.9v.9h-.9zM485.0 296.5h.9v.9h-.9zM440.7 295.5h.9v.9h-.9zM474.8 293.3h.9v.9h-.9zM477.2 295.8h.9v.9h-.9zM483.8 297.0h.9v.9h-.9zM432.8 299.7h.9v.9h-.9zM487.0 298.7h.9v.9h-.9zM475.9 296.9h.9v.9h-.9zM440.0 297.4h.9v.9h-.9zM473.7 296.9h.9v.9h-.9zM482.9 297.9h.9v.9h-.9zM465.4 295.4h.9v.9h-.9zM446.1 297.4h.9v.9h-.9zM465.7 296.9h.9v.9h-.9zM469.5 295.3h.9v.9h-.9zM450.7 296.4h.9v.9h-.9zM482.9 297.9h.9v.9h-.9zM481.3 296.7h.9v.9h-.9zM478.3 296.6h.9v.9h-.9zM487.4 300.1h.9v.9h-.9zM466.6 297.4h.9v.9h-.9zM465.7 296.8h.9v.9h-.9zM473.2 296.9h.9v.9h-.9zM445.5 296.8h.9v.9h-.9zM487.8 301.9h.9v.9h-.9zM488.9 304.6h.9v.9h-.9zM490.2 302.8h.9v.9h-.9zM490.8 308.7h.9v.9h-.9zM489.2 304.7h.9v.9h-.9zM489.7 305.3h.9v.9h-.9zM491.0 301.1h.9v.9h-.9zM488.0 301.2h.9v.9h-.9zM489.0 301.7h.9v.9h-.9zM489.8 305.0h.9v.9h-.9zM489.9 303.8h.9v.9h-.9zM488.8 305.3h.9v.9h-.9zM489.8 303.9h.9v.9h-.9zM490.3 308.7h.9v.9h-.9zM489.2 307.2h.9v.9h-.9zM489.5 308.8h.9v.9h-.9zM489.5 303.6h.9v.9h-.9zM492.1 301.4h.9v.9h-.9zM488.0 306.0h.9v.9h-.9zM490.9 303.5h.9v.9h-.9zM489.4 302.4h.9v.9h-.9zM492.0 301.5h.9v.9h-.9zM480.1 289.5h.9v.9h-.9zM467.3 292.9h.9v.9h-.9zM462.3 296.7h.9v.9h-.9zM481.1 295.2h.9v.9h-.9zM478.8 296.8h.9v.9h-.9zM479.3 295.6h.9v.9h-.9zM458.5 296.0h.9v.9h-.9zM480.1 295.9h.9v.9h-.9zM470.9 296.2h.9v.9h-.9zM447.9 296.9h.9v.9h-.9zM484.5 287.9h.9v.9h-.9zM444.3 293.6h.9v.9h-.9zM482.8 297.6h.9v.9h-.9zM442.9 290.3h.9v.9h-.9zM460.2 288.7h.9v.9h-.9zM455.4 280.4h.9v.9h-.9zM456.7 297.1h.9v.9h-.9zM468.8 289.8h.9v.9h-.9zM475.2 284.6h.9v.9h-.9zM484.6 291.0h.9v.9h-.9zM442.1 296.2h.9v.9h-.9zM464.5 288.0h.9v.9h-.9zM473.2 296.8h.9v.9h-.9zM478.0 285.9h.9v.9h-.9zM465.5 295.4h.9v.9h-.9zM463.4 292.2h.9v.9h-.9zM474.8 295.0h.9v.9h-.9zM464.6 295.5h.9v.9h-.9zM445.8 292.1h.9v.9h-.9zM488.3 302.6h.9v.9h-.9zM468.3 295.6h.9v.9h-.9zM462.7 287.8h.9v.9h-.9zM460.0 294.4h.9v.9h-.9zM480.5 295.8h.9v.9h-.9zM441.0 292.0h.9v.9h-.9zM444.4 296.6h.9v.9h-.9zM475.2 290.2h.9v.9h-.9zM449.6 296.3h.9v.9h-.9zM464.4 293.8h.9v.9h-.9zM473.0 296.5h.9v.9h-.9zM479.8 292.6h.9v.9h-.9zM448.8 296.4h.9v.9h-.9zM464.7 294.6h.9v.9h-.9zM449.9 295.8h.9v.9h-.9zM470.8 296.1h.9v.9h-.9zM456.2 296.0h.9v.9h-.9zM462.8 281.9h.9v.9h-.9zM486.0 297.5h.9v.9h-.9zM481.6 293.9h.9v.9h-.9zM448.9 295.5h.9v.9h-.9zM459.4 294.9h.9v.9h-.9zM465.0 296.8h.9v.9h-.9zM472.8 293.5h.9v.9h-.9zM464.5 294.2h.9v.9h-.9zM481.2 289.9h.9v.9h-.9zM457.0 292.8h.9v.9h-.9zM477.5 288.7h.9v.9h-.9zM485.0 294.0h.9v.9h-.9zM449.5 295.6h.9v.9h-.9zM463.7 297.3h.9v.9h-.9zM486.5 295.4h.9v.9h-.9zM458.6 289.9h.9v.9h-.9zM445.9 293.3h.9v.9h-.9zM441.4 295.7h.9v.9h-.9zM471.4 290.5h.9v.9h-.9zM462.3 287.0h.9v.9h-.9zM479.4 289.0h.9v.9h-.9zM465.3 285.6h.9v.9h-.9zM448.6 296.3h.9v.9h-.9zM445.5 291.2h.9v.9h-.9zM445.3 290.2h.9v.9h-.9zM464.2 294.7h.9v.9h-.9zM455.1 291.5h.9v.9h-.9zM450.7 283.4h.9v.9h-.9zM452.5 286.7h.9v.9h-.9zM439.7 293.7h.9v.9h-.9zM473.0 295.3h.9v.9h-.9zM459.2 291.9h.9v.9h-.9zM467.7 292.4h.9v.9h-.9zM484.4 295.2h.9v.9h-.9zM459.5 296.1h.9v.9h-.9zM478.1 295.1h.9v.9h-.9zM454.3 295.0h.9v.9h-.9zM450.7 294.3h.9v.9h-.9zM448.5 292.4h.9v.9h-.9zM447.5 287.7h.9v.9h-.9zM448.3 295.1h.9v.9h-.9zM468.5 296.8h.9v.9h-.9zM465.4 290.1h.9v.9h-.9zM465.1 296.7h.9v.9h-.9zM477.8 295.7h.9v.9h-.9zM468.5 292.3h.9v.9h-.9zM463.9 295.2h.9v.9h-.9zM468.5 284.1h.9v.9h-.9zM466.8 296.3h.9v.9h-.9zM464.9 296.7h.9v.9h-.9zM448.8 290.4h.9v.9h-.9zM473.9 278.0h.9v.9h-.9zM477.1 275.3h.9v.9h-.9zM451.4 285.0h.9v.9h-.9zM483.7 296.0h.9v.9h-.9zM475.0 296.3h.9v.9h-.9zM455.8 289.7h.9v.9h-.9zM464.2 297.4h.9v.9h-.9zM450.4 295.1h.9v.9h-.9zM480.8 293.4h.9v.9h-.9zM446.5 294.6h.9v.9h-.9zM482.3 284.5h.9v.9h-.9zM455.9 296.6h.9v.9h-.9zM445.2 296.0h.9v.9h-.9zM467.9 295.3h.9v.9h-.9zM450.0 293.7h.9v.9h-.9zM451.7 297.0h.9v.9h-.9zM448.2 296.5h.9v.9h-.9zM445.6 294.6h.9v.9h-.9zM468.2 297.0h.9v.9h-.9zM449.9 290.3h.9v.9h-.9zM488.1 300.5h.9v.9h-.9zM449.9 285.2h.9v.9h-.9zM474.2 293.9h.9v.9h-.9zM463.9 285.0h.9v.9h-.9zM462.1 290.2h.9v.9h-.9zM466.6 286.0h.9v.9h-.9zM484.6 290.5h.9v.9h-.9zM484.1 293.0h.9v.9h-.9zM452.1 288.3h.9v.9h-.9zM469.0 294.0h.9v.9h-.9zM474.3 280.2h.9v.9h-.9zM472.5 292.4h.9v.9h-.9zM475.8 297.3h.9v.9h-.9zM469.8 296.2h.9v.9h-.9zM472.2 290.4h.9v.9h-.9zM445.6 291.9h.9v.9h-.9zM480.0 295.4h.9v.9h-.9zM473.1 295.8h.9v.9h-.9zM466.3 292.1h.9v.9h-.9zM448.6 293.4h.9v.9h-.9zM470.8 293.4h.9v.9h-.9zM464.7 293.4h.9v.9h-.9zM452.6 295.4h.9v.9h-.9zM484.2 292.6h.9v.9h-.9zM455.6 295.4h.9v.9h-.9zM450.6 296.1h.9v.9h-.9zM445.3 294.6h.9v.9h-.9zM458.3 281.2h.9v.9h-.9zM483.4 281.1h.9v.9h-.9zM483.7 293.8h.9v.9h-.9zM479.4 295.4h.9v.9h-.9zM478.0 294.7h.9v.9h-.9zM483.8 296.0h.9v.9h-.9zM465.8 296.7h.9v.9h-.9zM450.1 290.6h.9v.9h-.9zM480.7 280.8h.9v.9h-.9zM460.8 295.2h.9v.9h-.9zM445.5 294.4h.9v.9h-.9zM477.7 294.5h.9v.9h-.9zM480.5 295.2h.9v.9h-.9zM457.3 286.8h.9v.9h-.9zM485.7 289.5h.9v.9h-.9zM466.8 293.4h.9v.9h-.9zM456.9 291.6h.9v.9h-.9zM480.6 282.1h.9v.9h-.9zM480.9 292.3h.9v.9h-.9zM457.2 295.5h.9v.9h-.9zM450.8 295.0h.9v.9h-.9zM481.6 286.4h.9v.9h-.9zM470.8 292.5h.9v.9h-.9zM473.3 295.5h.9v.9h-.9zM442.8 290.0h.9v.9h-.9zM468.1 292.8h.9v.9h-.9zM448.4 295.2h.9v.9h-.9zM451.5 291.3h.9v.9h-.9zM482.0 297.2h.9v.9h-.9zM476.8 296.5h.9v.9h-.9zM486.1 292.6h.9v.9h-.9zM447.6 295.5h.9v.9h-.9zM446.5 281.4h.9v.9h-.9zM464.0 295.2h.9v.9h-.9zM487.8 297.8h.9v.9h-.9zM460.9 291.8h.9v.9h-.9zM444.8 292.8h.9v.9h-.9zM471.1 294.4h.9v.9h-.9zM483.6 288.7h.9v.9h-.9zM446.8 295.0h.9v.9h-.9zM449.9 295.3h.9v.9h-.9zM444.9 296.0h.9v.9h-.9zM484.1 291.1h.9v.9h-.9zM480.6 296.5h.9v.9h-.9zM472.5 295.6h.9v.9h-.9zM446.6 295.9h.9v.9h-.9zM462.7 290.0h.9v.9h-.9zM471.9 283.4h.9v.9h-.9zM487.7 300.0h.9v.9h-.9zM454.6 285.4h.9v.9h-.9zM449.4 294.0h.9v.9h-.9zM478.7 296.4h.9v.9h-.9zM456.1 294.3h.9v.9h-.9zM457.6 294.7h.9v.9h-.9zM482.5 288.2h.9v.9h-.9zM461.8 294.2h.9v.9h-.9zM478.1 293.6h.9v.9h-.9zM458.8 296.9h.9v.9h-.9zM451.2 295.7h.9v.9h-.9zM462.1 296.9h.9v.9h-.9zM450.6 296.1h.9v.9h-.9zM451.3 291.1h.9v.9h-.9zM444.8 295.6h.9v.9h-.9zM485.7 286.6h.9v.9h-.9zM475.5 292.9h.9v.9h-.9zM485.2 295.8h.9v.9h-.9zM481.1 296.1h.9v.9h-.9zM472.0 293.5h.9v.9h-.9zM452.5 296.2h.9v.9h-.9zM464.0 296.6h.9v.9h-.9zM486.1 295.4h.9v.9h-.9zM450.9 296.0h.9v.9h-.9zM480.9 296.5h.9v.9h-.9zM466.2 295.7h.9v.9h-.9zM481.3 293.0h.9v.9h-.9zM466.2 293.6h.9v.9h-.9zM474.2 291.5h.9v.9h-.9zM483.8 295.3h.9v.9h-.9zM447.4 281.6h.9v.9h-.9zM459.1 296.7h.9v.9h-.9zM477.7 295.3h.9v.9h-.9zM460.5 290.2h.9v.9h-.9zM464.0 289.8h.9v.9h-.9zM477.1 293.3h.9v.9h-.9zM488.9 297.1h.9v.9h-.9zM447.2 291.3h.9v.9h-.9zM445.3 296.0h.9v.9h-.9zM478.0 296.5h.9v.9h-.9zM464.7 297.1h.9v.9h-.9zM476.2 294.4h.9v.9h-.9zM447.9 293.4h.9v.9h-.9zM475.5 295.3h.9v.9h-.9zM481.7 282.9h.9v.9h-.9zM475.7 289.8h.9v.9h-.9zM470.0 297.5h.9v.9h-.9zM457.4 284.2h.9v.9h-.9zM482.1 279.5h.9v.9h-.9zM454.7 289.7h.9v.9h-.9zM466.1 293.6h.9v.9h-.9zM455.7 294.3h.9v.9h-.9zM461.1 287.5h.9v.9h-.9zM461.9 296.5h.9v.9h-.9zM476.4 292.3h.9v.9h-.9zM475.7 294.7h.9v.9h-.9zM479.0 291.5h.9v.9h-.9zM475.3 281.5h.9v.9h-.9zM467.2 297.4h.9v.9h-.9zM487.1 291.8h.9v.9h-.9zM464.8 297.2h.9v.9h-.9zM441.0 285.8h.9v.9h-.9zM482.9 294.9h.9v.9h-.9zM479.0 293.6h.9v.9h-.9zM449.4 294.7h.9v.9h-.9zM471.5 292.6h.9v.9h-.9zM487.3 287.5h.9v.9h-.9zM485.3 289.9h.9v.9h-.9zM465.7 293.1h.9v.9h-.9zM463.7 288.1h.9v.9h-.9zM479.7 290.1h.9v.9h-.9zM457.9 293.7h.9v.9h-.9zM445.3 296.9h.9v.9h-.9zM456.7 294.4h.9v.9h-.9zM472.1 285.9h.9v.9h-.9zM468.6 296.2h.9v.9h-.9zM457.9 296.1h.9v.9h-.9zM455.4 288.5h.9v.9h-.9zM479.5 295.3h.9v.9h-.9zM446.6 282.2h.9v.9h-.9zM474.4 294.1h.9v.9h-.9zM483.5 294.3h.9v.9h-.9zM486.5 295.9h.9v.9h-.9zM465.5 292.4h.9v.9h-.9zM445.2 296.8h.9v.9h-.9zM485.4 287.4h.9v.9h-.9zM463.8 297.1h.9v.9h-.9zM447.9 297.1h.9v.9h-.9zM469.2 293.3h.9v.9h-.9zM464.9 295.5h.9v.9h-.9zM466.7 295.3h.9v.9h-.9zM482.8 285.5h.9v.9h-.9zM471.5 293.3h.9v.9h-.9zM462.1 290.1h.9v.9h-.9zM464.8 293.8h.9v.9h-.9zM454.8 289.4h.9v.9h-.9zM450.3 295.8h.9v.9h-.9zM449.0 294.7h.9v.9h-.9zM446.7 284.1h.9v.9h-.9zM468.1 294.2h.9v.9h-.9zM473.5 294.4h.9v.9h-.9zM445.2 291.2h.9v.9h-.9zM464.6 291.9h.9v.9h-.9zM452.2 278.0h.9v.9h-.9zM475.4 296.5h.9v.9h-.9zM450.4 292.1h.9v.9h-.9zM453.2 280.7h.9v.9h-.9zM451.5 290.7h.9v.9h-.9zM480.2 294.7h.9v.9h-.9zM488.1 289.0h.9v.9h-.9zM451.1 295.9h.9v.9h-.9zM449.6 295.9h.9v.9h-.9zM446.5 290.2h.9v.9h-.9zM476.9 292.4h.9v.9h-.9zM466.1 286.5h.9v.9h-.9zM483.9 291.9h.9v.9h-.9zM481.4 280.8h.9v.9h-.9zM449.8 293.6h.9v.9h-.9zM490.1 303.2h.9v.9h-.9zM459.8 292.5h.9v.9h-.9zM485.1 296.8h.9v.9h-.9zM457.1 287.7h.9v.9h-.9zM453.6 291.7h.9v.9h-.9zM478.5 295.4h.9v.9h-.9zM486.5 297.1h.9v.9h-.9zM482.9 282.6h.9v.9h-.9zM488.4 295.4h.9v.9h-.9zM455.6 293.4h.9v.9h-.9zM478.2 292.3h.9v.9h-.9zM468.3 294.9h.9v.9h-.9zM458.0 296.7h.9v.9h-.9zM486.7 297.7h.9v.9h-.9zM468.7 291.0h.9v.9h-.9zM478.1 290.8h.9v.9h-.9zM461.7 292.0h.9v.9h-.9zM471.5 275.2h.9v.9h-.9zM459.9 295.0h.9v.9h-.9zM451.5 281.5h.9v.9h-.9zM463.4 277.5h.9v.9h-.9zM474.4 297.2h.9v.9h-.9zM469.5 296.8h.9v.9h-.9zM475.7 291.6h.9v.9h-.9zM475.0 290.1h.9v.9h-.9zM481.4 285.2h.9v.9h-.9zM462.8 296.6h.9v.9h-.9zM476.5 296.4h.9v.9h-.9zM475.0 278.5h.9v.9h-.9zM472.0 276.6h.9v.9h-.9zM449.4 294.1h.9v.9h-.9zM457.4 289.8h.9v.9h-.9zM478.8 289.5h.9v.9h-.9zM477.3 288.9h.9v.9h-.9zM468.7 296.0h.9v.9h-.9zM448.2 294.6h.9v.9h-.9zM478.6 287.2h.9v.9h-.9zM456.7 283.9h.9v.9h-.9zM456.4 280.0h.9v.9h-.9zM475.5 288.7h.9v.9h-.9zM464.0 285.5h.9v.9h-.9zM452.2 289.0h.9v.9h-.9zM472.7 294.2h.9v.9h-.9zM482.4 295.0h.9v.9h-.9zM467.4 297.5h.9v.9h-.9zM454.2 294.0h.9v.9h-.9zM454.4 297.0h.9v.9h-.9zM454.5 275.6h.9v.9h-.9zM450.2 294.8h.9v.9h-.9zM464.2 294.8h.9v.9h-.9zM479.5 294.0h.9v.9h-.9zM473.0 279.9h.9v.9h-.9zM483.5 293.3h.9v.9h-.9zM471.6 295.2h.9v.9h-.9zM468.4 293.7h.9v.9h-.9zM452.4 289.0h.9v.9h-.9zM460.1 289.7h.9v.9h-.9zM472.9 291.1h.9v.9h-.9zM473.3 290.8h.9v.9h-.9zM466.4 273.6h.9v.9h-.9zM451.3 287.8h.9v.9h-.9zM460.4 289.0h.9v.9h-.9zM458.6 297.0h.9v.9h-.9zM481.5 294.4h.9v.9h-.9zM464.1 289.5h.9v.9h-.9z" fill="#161616"/>
<path d="M464.4 313.6h1v.9h-1zM456.7 314.2h1v.9h-1zM466.7 313.8h1v.9h-1zM455.7 311.5h1v.9h-1zM450.8 312.1h1v.9h-1zM451.2 314.8h1v.9h-1zM455.1 313.7h1v.9h-1zM463.9 312.3h1v.9h-1zM472.4 314.0h1v.9h-1zM462.0 314.9h1v.9h-1zM453.2 314.5h1v.9h-1zM473.6 314.1h1v.9h-1zM452.5 313.3h1v.9h-1zM455.1 313.5h1v.9h-1zM462.1 312.8h1v.9h-1zM455.0 313.6h1v.9h-1zM468.2 313.4h1v.9h-1zM454.8 314.7h1v.9h-1zM454.0 315.1h1v.9h-1zM463.9 314.3h1v.9h-1zM458.0 313.9h1v.9h-1zM468.0 315.0h1v.9h-1zM470.3 312.2h1v.9h-1zM457.6 313.6h1v.9h-1zM459.7 313.5h1v.9h-1zM453.8 314.7h1v.9h-1zM472.1 315.0h1v.9h-1zM452.8 315.0h1v.9h-1zM459.5 312.6h1v.9h-1zM455.0 314.7h1v.9h-1zM462.2 313.6h1v.9h-1zM459.2 311.9h1v.9h-1zM455.3 312.3h1v.9h-1zM465.5 313.5h1v.9h-1zM458.6 311.5h1v.9h-1zM471.4 314.8h1v.9h-1zM465.8 314.6h1v.9h-1zM464.4 313.8h1v.9h-1zM454.8 314.2h1v.9h-1zM456.3 311.6h1v.9h-1zM466.4 314.3h1v.9h-1zM459.7 314.7h1v.9h-1zM466.2 314.9h1v.9h-1zM459.4 314.2h1v.9h-1zM461.8 312.7h1v.9h-1zM451.2 314.6h1v.9h-1zM459.4 314.2h1v.9h-1zM464.2 315.0h1v.9h-1zM471.7 314.5h1v.9h-1zM468.0 313.9h1v.9h-1zM461.8 315.0h1v.9h-1zM457.0 312.7h1v.9h-1zM472.3 311.8h1v.9h-1zM460.0 314.9h1v.9h-1zM458.6 314.9h1v.9h-1zM453.0 311.9h1v.9h-1zM466.6 315.1h1v.9h-1zM471.2 314.3h1v.9h-1zM454.2 313.3h1v.9h-1zM458.5 314.9h1v.9h-1zM470.0 314.9h1v.9h-1zM454.6 314.1h1v.9h-1zM462.5 314.3h1v.9h-1zM472.2 315.1h1v.9h-1zM472.1 314.2h1v.9h-1zM459.4 313.9h1v.9h-1zM453.2 314.2h1v.9h-1zM458.5 313.9h1v.9h-1zM459.2 315.1h1v.9h-1zM464.6 314.5h1v.9h-1z" fill="#fff"/>
<rect x="431.80" y="309.90" width="16.50" height="5.90" fill="#cbcbcb" stroke="#999" stroke-width="0.4"/>
<rect x="480.60" y="309.90" width="15.60" height="5.90" fill="#ececec" stroke="#aaa" stroke-width="0.4"/>
<text x="432.40" y="257.00" font-size="5.7" text-anchor="start" fill="#6a6a6a">0.59</text>
<text x="495.00" y="257.00" font-size="5.7" text-anchor="end" fill="#6a6a6a">0.66</text>
<text x="432.60" y="314.70" font-size="5.7" text-anchor="start" fill="#5c5c5c">73.44</text>
<text x="495.60" y="314.70" font-size="5.7" text-anchor="end" fill="#5c5c5c">25.31</text>
<rect x="431.4" y="251.9" width="65.20" height="64.10" fill="none" stroke="#bcbcbc" stroke-width="0.7"/>
</g>
<g>
<rect x="149.4" y="369.6" width="65.20" height="64.70" fill="#fff" stroke="#bcbcbc" stroke-width="0.7"/>
<path d="M176.1 369.6 V434.3 M149.4 413.6 H214.6" stroke="#c8c8c8" stroke-width="0.7" fill="none"/>
<path d="M165.70 434.3 v-1.6 M149.4 418.12 h1.6 M182.00 434.3 v-1.6 M149.4 401.95 h1.6 M198.30 434.3 v-1.6 M149.4 385.78 h1.6" stroke="#999" stroke-width="0.6" fill="none"/>
<text x="147.00" y="439.10" font-size="3.3" fill="#b8b8b8">10<tspan dy="-1.3" font-size="2.3">0</tspan></text>
<text x="142.80" y="435.30" font-size="3.3" fill="#b8b8b8">10<tspan dy="-1.3" font-size="2.3">0</tspan></text>
<text x="163.30" y="439.10" font-size="3.3" fill="#b8b8b8">10<tspan dy="-1.3" font-size="2.3">1</tspan></text>
<text x="142.80" y="419.12" font-size="3.3" fill="#b8b8b8">10<tspan dy="-1.3" font-size="2.3">1</tspan></text>
<text x="179.60" y="439.10" font-size="3.3" fill="#b8b8b8">10<tspan dy="-1.3" font-size="2.3">2</tspan></text>
<text x="142.80" y="402.95" font-size="3.3" fill="#b8b8b8">10<tspan dy="-1.3" font-size="2.3">2</tspan></text>
<text x="195.90" y="439.10" font-size="3.3" fill="#b8b8b8">10<tspan dy="-1.3" font-size="2.3">3</tspan></text>
<text x="142.80" y="386.78" font-size="3.3" fill="#b8b8b8">10<tspan dy="-1.3" font-size="2.3">3</tspan></text>
<text x="182.00" y="444.50" font-size="2.9" text-anchor="middle" fill="#999">FL1-H</text>
<text transform="translate(136.80 402.95) rotate(-90)" font-size="2.9" text-anchor="middle" fill="#999">FL2-H</text>
<path d="M149.8 417.8 L150.3 418.1 L150.8 418.1 L151.3 417.9 L151.8 417.4 L152.3 417.7 L152.8 417.8 L153.3 417.5 L153.8 417.3 L154.3 416.8 L154.8 416.2 L155.3 416.3 L155.8 416.5 L156.3 416.0 L156.8 416.4 L157.3 416.0 L157.8 415.7 L158.3 415.3 L158.8 416.1 L159.3 416.1 L159.8 416.3 L160.3 416.0 L160.8 415.2 L161.3 415.0 L161.8 415.0 L162.3 414.6 L162.8 415.2 L163.3 414.8 L163.8 414.4 L164.3 414.8 L164.8 414.2 L165.2 414.7 L165.7 414.4 L166.2 414.3 L166.7 414.0 L167.2 413.9 L167.7 413.5 L168.2 413.1 L168.7 413.8 L169.2 413.5 L169.7 413.9 L170.2 413.4 L170.7 414.0 L171.2 414.2 L171.7 414.1 L172.2 414.0 L172.7 413.7 L173.2 413.7 L173.7 413.0 L174.2 412.9 L174.7 413.2 L175.2 412.6 L175.7 413.0 L176.2 413.2 L176.7 412.7 L177.2 412.3 L177.7 412.1 L178.2 411.9 L178.7 412.4 L179.2 412.0 L179.7 411.3 L180.2 410.9 L180.7 411.4 L181.2 412.0 L181.7 411.7 L182.2 411.5 L182.7 411.5 L183.2 411.7 L183.7 411.3 L184.2 411.5 L184.7 411.6 L185.2 411.7 L185.7 411.4 L186.2 411.2 L186.7 411.4 L187.2 412.1 L187.7 412.0 L188.2 412.2 L188.7 412.1 L189.2 411.8 L189.7 411.7 L190.2 412.5 L190.7 413.0 L191.2 412.9 L191.7 413.2 L192.2 413.4 L192.7 413.8 L193.2 414.1 L193.7 413.7 L194.2 414.2 L194.7 414.4 L195.1 414.2 L195.6 414.4 L196.1 414.1 L196.6 413.8 L197.1 413.6 L197.6 414.2 L198.1 413.8 L198.6 413.6 L199.1 414.4 L199.6 414.8 L200.1 414.9 L200.6 415.4 L201.1 414.9 L201.6 414.9 L202.1 415.1 L202.6 415.4 L203.1 415.4 L203.6 415.4 L204.1 415.9 L204.6 416.8 L205.1 417.6 L205.6 417.8 L206.1 417.8 L206.6 417.7 L207.1 418.5 L207.6 418.9 L208.1 420.1 L208.6 420.5 L209.1 421.3 L209.6 422.6 L209.6 423.5 L209.1 423.7 L208.6 424.4 L208.1 425.1 L207.6 425.8 L207.1 426.1 L206.6 426.2 L206.1 426.3 L205.6 426.3 L205.1 426.4 L204.6 426.4 L204.1 426.5 L203.6 426.5 L203.1 426.6 L202.6 426.6 L202.1 426.6 L201.6 426.6 L201.1 434.0 L200.6 434.0 L200.1 434.0 L199.6 434.0 L199.1 434.0 L198.6 434.0 L198.1 434.0 L197.6 434.0 L197.1 434.0 L196.6 434.0 L196.1 434.0 L195.6 434.0 L195.1 434.0 L194.7 434.0 L194.2 434.0 L193.7 434.0 L193.2 434.0 L192.7 434.0 L192.2 434.0 L191.7 434.0 L191.2 434.0 L190.7 434.0 L190.2 434.0 L189.7 434.0 L189.2 434.0 L188.7 434.0 L188.2 434.0 L187.7 434.0 L187.2 434.0 L186.7 434.0 L186.2 434.0 L185.7 434.0 L185.2 434.0 L184.7 434.0 L184.2 434.0 L183.7 434.0 L183.2 434.0 L182.7 434.0 L182.2 434.0 L181.7 434.0 L181.2 434.0 L180.7 434.0 L180.2 434.0 L179.7 434.0 L179.2 434.0 L178.7 434.0 L178.2 434.0 L177.7 434.0 L177.2 434.0 L176.7 434.0 L176.2 434.0 L175.7 434.0 L175.2 434.0 L174.7 434.0 L174.2 434.0 L173.7 434.0 L173.2 434.0 L172.7 434.0 L172.2 434.0 L171.7 434.0 L171.2 434.0 L170.7 434.0 L170.2 434.0 L169.7 434.0 L169.2 434.0 L168.7 434.0 L168.2 434.0 L167.7 434.0 L167.2 434.0 L166.7 434.0 L166.2 434.0 L165.7 427.2 L165.2 427.2 L164.8 427.2 L164.3 427.2 L163.8 427.2 L163.3 427.2 L162.8 427.2 L162.3 427.2 L161.8 427.2 L161.3 427.2 L160.8 427.2 L160.3 427.2 L159.8 427.2 L159.3 427.2 L158.8 427.2 L158.3 427.2 L157.8 427.2 L157.3 427.2 L156.8 427.2 L156.3 427.2 L155.8 427.2 L155.3 427.2 L154.8 427.2 L154.3 427.2 L153.8 427.2 L153.3 427.2 L152.8 427.2 L152.3 427.2 L151.8 427.2 L151.3 427.2 L150.8 427.2 L150.3 427.2 L149.8 427.2Z" fill="#060606"/>
<path d="M176.1 415.5 V433.3" stroke="#5a5a5a" stroke-width="0.6" fill="none"/>
<path d="M198.3 412.1h.9v.9h-.9zM186.6 410.9h.9v.9h-.9zM185.4 410.2h.9v.9h-.9zM168.9 413.2h.9v.9h-.9zM167.0 412.7h.9v.9h-.9zM151.0 417.2h.9v.9h-.9zM207.8 418.9h.9v.9h-.9zM186.1 410.4h.9v.9h-.9zM201.7 414.2h.9v.9h-.9zM165.9 414.0h.9v.9h-.9zM208.1 418.2h.9v.9h-.9zM158.4 415.2h.9v.9h-.9zM156.1 415.9h.9v.9h-.9zM177.3 412.1h.9v.9h-.9zM202.6 414.6h.9v.9h-.9zM158.0 415.1h.9v.9h-.9zM169.9 413.3h.9v.9h-.9zM163.6 414.2h.9v.9h-.9zM161.5 414.6h.9v.9h-.9zM193.1 413.5h.9v.9h-.9zM153.2 416.5h.9v.9h-.9zM203.0 414.2h.9v.9h-.9zM198.0 413.8h.9v.9h-.9zM178.3 411.8h.9v.9h-.9zM196.4 413.9h.9v.9h-.9zM193.2 413.9h.9v.9h-.9zM192.3 413.1h.9v.9h-.9zM152.9 417.4h.9v.9h-.9zM169.0 411.6h.9v.9h-.9zM168.2 412.5h.9v.9h-.9zM183.5 408.9h.9v.9h-.9zM156.3 415.2h.9v.9h-.9zM181.0 410.9h.9v.9h-.9zM208.6 420.2h.9v.9h-.9zM192.5 413.2h.9v.9h-.9zM184.2 411.4h.9v.9h-.9zM199.4 411.8h.9v.9h-.9zM171.8 413.8h.9v.9h-.9zM210.2 422.5h.9v.9h-.9zM155.0 416.2h.9v.9h-.9zM199.4 413.7h.9v.9h-.9zM177.4 411.5h.9v.9h-.9zM151.6 416.6h.9v.9h-.9zM177.0 411.7h.9v.9h-.9zM173.8 412.5h.9v.9h-.9zM164.0 414.3h.9v.9h-.9zM176.5 412.4h.9v.9h-.9zM192.8 412.4h.9v.9h-.9zM194.0 413.7h.9v.9h-.9zM164.6 413.8h.9v.9h-.9zM179.7 410.5h.9v.9h-.9zM208.4 420.4h.9v.9h-.9zM179.3 411.4h.9v.9h-.9zM193.6 411.9h.9v.9h-.9zM197.3 412.8h.9v.9h-.9zM196.1 413.2h.9v.9h-.9zM202.1 414.1h.9v.9h-.9zM191.5 413.0h.9v.9h-.9zM205.6 417.4h.9v.9h-.9zM187.4 410.7h.9v.9h-.9zM208.4 416.9h.9v.9h-.9zM150.8 417.8h.9v.9h-.9zM169.2 413.1h.9v.9h-.9zM159.2 415.5h.9v.9h-.9zM155.2 416.0h.9v.9h-.9zM207.2 417.4h.9v.9h-.9zM178.2 411.8h.9v.9h-.9zM208.0 419.1h.9v.9h-.9zM162.8 414.9h.9v.9h-.9zM189.0 410.9h.9v.9h-.9zM166.1 411.9h.9v.9h-.9zM169.8 413.6h.9v.9h-.9zM201.3 414.7h.9v.9h-.9zM191.4 412.7h.9v.9h-.9zM186.4 410.9h.9v.9h-.9zM173.2 411.4h.9v.9h-.9zM178.5 411.9h.9v.9h-.9zM187.5 411.7h.9v.9h-.9zM160.9 414.8h.9v.9h-.9zM166.8 413.8h.9v.9h-.9zM208.2 420.1h.9v.9h-.9zM199.2 412.2h.9v.9h-.9zM192.8 413.8h.9v.9h-.9zM180.6 411.4h.9v.9h-.9zM187.0 411.2h.9v.9h-.9zM164.9 414.2h.9v.9h-.9zM183.2 411.7h.9v.9h-.9zM169.0 413.0h.9v.9h-.9zM204.2 415.5h.9v.9h-.9zM158.5 414.8h.9v.9h-.9zM199.9 414.3h.9v.9h-.9zM153.4 417.4h.9v.9h-.9zM174.7 412.5h.9v.9h-.9zM164.0 413.1h.9v.9h-.9zM201.2 412.8h.9v.9h-.9zM203.6 415.4h.9v.9h-.9zM185.4 411.3h.9v.9h-.9zM204.6 415.7h.9v.9h-.9zM196.1 413.9h.9v.9h-.9zM154.0 415.9h.9v.9h-.9zM186.9 410.6h.9v.9h-.9zM178.8 411.1h.9v.9h-.9zM170.7 413.7h.9v.9h-.9zM171.7 413.8h.9v.9h-.9zM188.2 410.4h.9v.9h-.9zM154.7 416.2h.9v.9h-.9zM181.2 411.1h.9v.9h-.9zM161.8 414.8h.9v.9h-.9zM153.9 417.3h.9v.9h-.9zM180.2 410.0h.9v.9h-.9zM189.7 411.6h.9v.9h-.9zM156.7 414.3h.9v.9h-.9zM182.8 411.1h.9v.9h-.9zM192.0 412.3h.9v.9h-.9zM182.0 411.5h.9v.9h-.9zM200.2 414.7h.9v.9h-.9zM152.8 417.5h.9v.9h-.9zM182.5 410.7h.9v.9h-.9zM160.9 414.2h.9v.9h-.9zM180.1 410.8h.9v.9h-.9zM201.6 413.6h.9v.9h-.9zM205.0 416.6h.9v.9h-.9zM163.5 413.6h.9v.9h-.9zM204.7 416.2h.9v.9h-.9zM205.1 414.7h.9v.9h-.9zM173.9 410.7h.9v.9h-.9zM206.8 416.4h.9v.9h-.9zM151.1 417.5h.9v.9h-.9zM187.3 411.4h.9v.9h-.9zM195.9 413.6h.9v.9h-.9zM160.1 413.9h.9v.9h-.9zM182.7 409.8h.9v.9h-.9zM162.9 410.2h.9v.9h-.9zM183.8 410.1h.9v.9h-.9zM194.9 412.5h.9v.9h-.9zM172.2 413.9h.9v.9h-.9zM174.8 413.0h.9v.9h-.9zM182.9 410.2h.9v.9h-.9zM172.2 413.9h.9v.9h-.9zM152.0 417.0h.9v.9h-.9zM185.3 411.7h.9v.9h-.9zM190.5 412.8h.9v.9h-.9zM156.8 414.3h.9v.9h-.9zM181.9 409.9h.9v.9h-.9zM181.3 411.9h.9v.9h-.9zM164.9 413.8h.9v.9h-.9zM189.0 410.7h.9v.9h-.9zM195.6 413.5h.9v.9h-.9zM165.6 414.0h.9v.9h-.9zM173.2 413.2h.9v.9h-.9zM166.4 413.7h.9v.9h-.9zM178.0 411.9h.9v.9h-.9zM199.9 414.2h.9v.9h-.9zM198.7 412.5h.9v.9h-.9zM194.4 410.2h.9v.9h-.9zM173.1 413.3h.9v.9h-.9zM150.6 417.2h.9v.9h-.9zM185.4 411.0h.9v.9h-.9zM210.5 422.4h.9v.9h-.9zM164.1 413.7h.9v.9h-.9zM199.3 413.8h.9v.9h-.9zM153.7 416.9h.9v.9h-.9zM200.1 414.3h.9v.9h-.9zM178.2 411.5h.9v.9h-.9zM188.2 411.5h.9v.9h-.9zM192.1 411.8h.9v.9h-.9zM195.6 414.0h.9v.9h-.9zM165.5 413.5h.9v.9h-.9zM198.1 411.7h.9v.9h-.9zM162.4 413.1h.9v.9h-.9zM204.0 415.8h.9v.9h-.9zM168.9 413.0h.9v.9h-.9zM159.2 414.7h.9v.9h-.9zM166.3 413.4h.9v.9h-.9zM168.2 412.9h.9v.9h-.9zM162.9 414.6h.9v.9h-.9zM193.3 413.9h.9v.9h-.9zM191.7 412.8h.9v.9h-.9zM189.5 411.4h.9v.9h-.9zM162.0 414.5h.9v.9h-.9zM153.9 416.3h.9v.9h-.9zM175.3 412.5h.9v.9h-.9zM203.4 414.6h.9v.9h-.9zM151.7 416.4h.9v.9h-.9zM186.2 410.7h.9v.9h-.9zM180.5 408.8h.9v.9h-.9zM172.9 412.9h.9v.9h-.9zM188.7 411.7h.9v.9h-.9zM171.3 413.0h.9v.9h-.9zM188.7 411.6h.9v.9h-.9zM181.3 411.8h.9v.9h-.9zM197.9 413.8h.9v.9h-.9zM189.1 411.4h.9v.9h-.9zM163.7 413.7h.9v.9h-.9zM185.5 411.3h.9v.9h-.9zM179.9 411.1h.9v.9h-.9zM198.5 413.3h.9v.9h-.9zM170.2 413.2h.9v.9h-.9zM153.3 417.4h.9v.9h-.9zM159.5 415.5h.9v.9h-.9zM209.5 417.8h.9v.9h-.9zM209.9 422.7h.9v.9h-.9zM210.3 425.3h.9v.9h-.9zM210.1 418.9h.9v.9h-.9zM209.5 417.5h.9v.9h-.9zM211.2 419.3h.9v.9h-.9zM209.4 418.9h.9v.9h-.9zM209.2 423.2h.9v.9h-.9zM209.7 424.2h.9v.9h-.9zM211.0 416.6h.9v.9h-.9zM209.2 427.1h.9v.9h-.9zM210.4 420.6h.9v.9h-.9zM195.0 408.0h.9v.9h-.9zM192.7 411.4h.9v.9h-.9zM192.0 409.8h.9v.9h-.9zM185.0 408.7h.9v.9h-.9zM189.9 410.3h.9v.9h-.9zM194.8 414.2h.9v.9h-.9zM177.6 407.7h.9v.9h-.9zM192.6 413.5h.9v.9h-.9zM189.9 410.1h.9v.9h-.9zM171.1 412.6h.9v.9h-.9zM192.3 410.6h.9v.9h-.9zM180.3 410.3h.9v.9h-.9zM182.2 410.5h.9v.9h-.9zM178.9 410.8h.9v.9h-.9zM176.9 412.6h.9v.9h-.9zM174.5 410.1h.9v.9h-.9zM172.5 410.8h.9v.9h-.9zM181.1 410.6h.9v.9h-.9zM173.1 411.2h.9v.9h-.9zM193.5 412.6h.9v.9h-.9zM194.2 408.9h.9v.9h-.9zM169.5 410.3h.9v.9h-.9zM195.7 408.5h.9v.9h-.9zM176.1 411.8h.9v.9h-.9zM199.2 413.9h.9v.9h-.9zM178.3 411.0h.9v.9h-.9zM191.9 410.5h.9v.9h-.9zM192.3 407.1h.9v.9h-.9zM186.0 409.6h.9v.9h-.9zM188.3 410.8h.9v.9h-.9zM171.7 414.1h.9v.9h-.9zM165.9 414.3h.9v.9h-.9zM188.6 411.8h.9v.9h-.9zM182.7 408.0h.9v.9h-.9zM182.1 410.2h.9v.9h-.9zM192.2 410.0h.9v.9h-.9zM173.5 409.6h.9v.9h-.9zM193.5 413.3h.9v.9h-.9zM179.4 409.2h.9v.9h-.9zM193.1 413.2h.9v.9h-.9zM194.5 413.9h.9v.9h-.9zM177.8 411.4h.9v.9h-.9zM167.3 411.5h.9v.9h-.9zM183.7 406.0h.9v.9h-.9zM193.9 410.2h.9v.9h-.9zM176.5 411.7h.9v.9h-.9zM194.3 408.8h.9v.9h-.9zM191.2 411.8h.9v.9h-.9zM174.9 411.6h.9v.9h-.9zM197.2 411.8h.9v.9h-.9zM189.8 409.1h.9v.9h-.9zM198.1 407.9h.9v.9h-.9zM199.7 413.0h.9v.9h-.9zM198.5 413.1h.9v.9h-.9zM187.3 408.5h.9v.9h-.9zM169.5 412.8h.9v.9h-.9zM169.0 413.6h.9v.9h-.9zM179.3 409.3h.9v.9h-.9zM178.7 410.8h.9v.9h-.9zM192.1 409.3h.9v.9h-.9zM175.2 412.4h.9v.9h-.9zM198.1 412.8h.9v.9h-.9zM176.6 411.4h.9v.9h-.9zM187.4 411.8h.9v.9h-.9zM173.9 411.7h.9v.9h-.9zM176.1 403.2h.9v.9h-.9zM190.5 409.5h.9v.9h-.9zM191.7 407.9h.9v.9h-.9zM190.0 408.3h.9v.9h-.9zM188.7 410.4h.9v.9h-.9zM186.1 404.1h.9v.9h-.9zM177.2 404.6h.9v.9h-.9zM180.8 409.8h.9v.9h-.9zM194.8 408.8h.9v.9h-.9zM177.0 408.0h.9v.9h-.9zM192.5 412.3h.9v.9h-.9zM179.8 405.1h.9v.9h-.9zM179.0 405.5h.9v.9h-.9zM184.2 408.9h.9v.9h-.9zM175.9 406.9h.9v.9h-.9zM183.1 406.9h.9v.9h-.9zM197.7 411.6h.9v.9h-.9zM180.6 408.4h.9v.9h-.9zM169.5 412.4h.9v.9h-.9zM170.9 411.7h.9v.9h-.9zM193.6 412.7h.9v.9h-.9zM190.7 406.0h.9v.9h-.9zM193.9 403.4h.9v.9h-.9zM186.5 400.6h.9v.9h-.9zM188.4 402.8h.9v.9h-.9zM185.2 411.5h.9v.9h-.9zM175.8 407.3h.9v.9h-.9zM185.4 408.5h.9v.9h-.9zM196.3 412.8h.9v.9h-.9zM187.4 411.0h.9v.9h-.9zM172.8 411.1h.9v.9h-.9zM189.8 407.3h.9v.9h-.9zM192.2 406.2h.9v.9h-.9zM181.8 404.0h.9v.9h-.9zM196.8 411.4h.9v.9h-.9zM184.2 409.4h.9v.9h-.9zM170.6 404.7h.9v.9h-.9zM193.8 401.9h.9v.9h-.9zM190.8 412.7h.9v.9h-.9zM192.2 402.3h.9v.9h-.9zM180.7 397.2h.9v.9h-.9zM185.1 398.1h.9v.9h-.9zM193.1 410.3h.9v.9h-.9zM178.8 399.7h.9v.9h-.9z" fill="#161616"/>
<path d="M176.8 432.6h1v.9h-1zM193.1 433.3h1v.9h-1zM176.6 431.8h1v.9h-1zM191.8 430.7h1v.9h-1zM181.3 431.3h1v.9h-1zM193.3 432.9h1v.9h-1zM175.5 433.1h1v.9h-1zM188.8 433.3h1v.9h-1zM183.1 430.7h1v.9h-1zM174.8 432.0h1v.9h-1zM182.7 430.6h1v.9h-1zM182.3 432.4h1v.9h-1zM191.7 431.5h1v.9h-1zM173.5 431.3h1v.9h-1zM179.6 430.5h1v.9h-1zM193.1 432.4h1v.9h-1zM180.0 433.1h1v.9h-1zM176.6 433.2h1v.9h-1zM174.0 431.6h1v.9h-1zM171.2 432.1h1v.9h-1zM184.3 431.6h1v.9h-1zM183.6 430.7h1v.9h-1zM176.8 433.3h1v.9h-1zM184.0 433.0h1v.9h-1zM193.7 430.8h1v.9h-1zM186.5 431.2h1v.9h-1zM175.9 432.5h1v.9h-1zM179.2 432.9h1v.9h-1zM179.0 432.5h1v.9h-1zM185.7 433.4h1v.9h-1zM182.9 433.3h1v.9h-1zM193.2 432.2h1v.9h-1zM184.1 432.9h1v.9h-1zM186.9 431.7h1v.9h-1zM191.8 432.1h1v.9h-1zM176.5 432.0h1v.9h-1zM171.2 431.5h1v.9h-1zM177.4 431.6h1v.9h-1zM173.2 432.1h1v.9h-1zM174.1 433.4h1v.9h-1zM176.3 431.1h1v.9h-1zM179.3 432.3h1v.9h-1zM189.0 430.5h1v.9h-1zM176.2 431.7h1v.9h-1zM188.8 431.3h1v.9h-1z" fill="#fff"/>
<rect x="149.80" y="427.80" width="16.40" height="6.30" fill="#cbcbcb" stroke="#999" stroke-width="0.4"/>
<rect x="201.30" y="427.80" width="12.90" height="6.30" fill="#ececec" stroke="#aaa" stroke-width="0.4"/>
<text x="150.40" y="374.70" font-size="5.7" text-anchor="start" fill="#6a6a6a">0.07</text>
<text x="213.00" y="374.70" font-size="5.7" text-anchor="end" fill="#6a6a6a">0.09</text>
<text x="150.60" y="433.00" font-size="5.7" text-anchor="start" fill="#5c5c5c">67.75</text>
<text x="213.60" y="433.00" font-size="5.7" text-anchor="end" fill="#5c5c5c">32.1</text>
<rect x="149.4" y="369.6" width="65.20" height="64.70" fill="none" stroke="#bcbcbc" stroke-width="0.7"/>
</g>
<g>
<rect x="239.9" y="369.6" width="64.10" height="64.70" fill="#fff" stroke="#bcbcbc" stroke-width="0.7"/>
<path d="M266.7 369.6 V434.3 M239.9 413.5 H304.0" stroke="#c8c8c8" stroke-width="0.7" fill="none"/>
<path d="M255.93 434.3 v-1.6 M239.9 418.12 h1.6 M271.95 434.3 v-1.6 M239.9 401.95 h1.6 M287.98 434.3 v-1.6 M239.9 385.78 h1.6" stroke="#999" stroke-width="0.6" fill="none"/>
<text x="237.50" y="439.10" font-size="3.3" fill="#b8b8b8">10<tspan dy="-1.3" font-size="2.3">0</tspan></text>
<text x="233.30" y="435.30" font-size="3.3" fill="#b8b8b8">10<tspan dy="-1.3" font-size="2.3">0</tspan></text>
<text x="253.53" y="439.10" font-size="3.3" fill="#b8b8b8">10<tspan dy="-1.3" font-size="2.3">1</tspan></text>
<text x="233.30" y="419.12" font-size="3.3" fill="#b8b8b8">10<tspan dy="-1.3" font-size="2.3">1</tspan></text>
<text x="269.55" y="439.10" font-size="3.3" fill="#b8b8b8">10<tspan dy="-1.3" font-size="2.3">2</tspan></text>
<text x="233.30" y="402.95" font-size="3.3" fill="#b8b8b8">10<tspan dy="-1.3" font-size="2.3">2</tspan></text>
<text x="285.58" y="439.10" font-size="3.3" fill="#b8b8b8">10<tspan dy="-1.3" font-size="2.3">3</tspan></text>
<text x="233.30" y="386.78" font-size="3.3" fill="#b8b8b8">10<tspan dy="-1.3" font-size="2.3">3</tspan></text>
<text x="271.95" y="444.50" font-size="2.9" text-anchor="middle" fill="#999">FL1-H</text>
<text transform="translate(227.30 402.95) rotate(-90)" font-size="2.9" text-anchor="middle" fill="#999">FL2-H</text>
<path d="M240.3 419.3 L240.8 418.5 L241.3 417.9 L241.8 418.6 L242.3 418.0 L242.8 417.5 L243.3 417.8 L243.8 417.5 L244.3 417.9 L244.8 417.4 L245.3 417.8 L245.8 417.3 L246.3 417.2 L246.8 417.5 L247.3 417.3 L247.8 417.4 L248.3 417.2 L248.8 416.3 L249.3 416.6 L249.8 416.5 L250.3 416.0 L250.8 415.6 L251.3 416.0 L251.8 415.9 L252.3 416.1 L252.8 416.1 L253.3 416.2 L253.8 415.8 L254.3 415.6 L254.8 415.4 L255.3 414.9 L255.8 415.3 L256.3 414.9 L256.8 415.1 L257.3 415.5 L257.8 415.3 L258.3 414.7 L258.8 415.1 L259.3 415.2 L259.8 414.6 L260.3 414.2 L260.8 414.5 L261.3 414.1 L261.8 414.9 L262.3 414.9 L262.8 414.9 L263.3 414.7 L263.8 414.9 L264.3 415.3 L264.8 414.9 L265.3 414.7 L265.8 414.8 L266.3 414.6 L266.8 414.8 L267.3 414.8 L267.8 414.8 L268.3 415.0 L268.8 414.9 L269.2 414.4 L269.7 415.1 L270.2 414.8 L270.7 414.7 L271.2 414.7 L271.7 415.2 L272.2 415.5 L272.7 415.2 L273.2 414.9 L273.7 414.4 L274.2 415.0 L274.7 414.6 L275.2 414.7 L275.7 414.6 L276.2 414.5 L276.7 414.5 L277.2 414.3 L277.7 414.0 L278.2 414.4 L278.7 414.9 L279.2 415.0 L279.7 414.6 L280.2 414.9 L280.7 414.4 L281.2 414.5 L281.7 415.0 L282.2 415.4 L282.7 415.1 L283.2 415.3 L283.7 415.1 L284.2 415.0 L284.7 415.0 L285.2 415.4 L285.7 415.4 L286.2 415.1 L286.7 415.2 L287.2 415.2 L287.7 414.9 L288.2 415.1 L288.7 415.3 L289.2 415.2 L289.7 415.5 L290.2 414.7 L290.7 414.9 L291.2 415.3 L291.7 415.4 L292.2 415.4 L292.7 416.1 L293.2 416.4 L293.7 416.5 L294.2 416.6 L294.7 417.8 L295.2 418.0 L295.7 418.1 L296.2 418.8 L296.7 419.9 L297.2 421.6 L297.7 422.2 L298.2 423.0 L298.2 423.7 L297.7 424.0 L297.2 424.5 L296.7 424.8 L296.2 425.5 L295.7 425.8 L295.2 425.9 L294.7 425.9 L294.2 426.0 L293.7 426.1 L293.2 426.1 L292.7 426.2 L292.2 426.2 L291.7 426.2 L291.2 426.3 L290.7 426.3 L290.2 426.3 L289.7 426.3 L289.2 434.0 L288.7 434.0 L288.2 434.0 L287.7 434.0 L287.2 434.0 L286.7 434.0 L286.2 434.0 L285.7 434.0 L285.2 434.0 L284.7 434.0 L284.2 434.0 L283.7 434.0 L283.2 434.0 L282.7 434.0 L282.2 434.0 L281.7 434.0 L281.2 434.0 L280.7 434.0 L280.2 434.0 L279.7 434.0 L279.2 434.0 L278.7 434.0 L278.2 434.0 L277.7 434.0 L277.2 434.0 L276.7 434.0 L276.2 434.0 L275.7 434.0 L275.2 434.0 L274.7 434.0 L274.2 434.0 L273.7 434.0 L273.2 434.0 L272.7 434.0 L272.2 434.0 L271.7 434.0 L271.2 434.0 L270.7 434.0 L270.2 434.0 L269.7 434.0 L269.2 434.0 L268.8 434.0 L268.3 434.0 L267.8 434.0 L267.3 434.0 L266.8 434.0 L266.3 434.0 L265.8 434.0 L265.3 434.0 L264.8 434.0 L264.3 434.0 L263.8 434.0 L263.3 434.0 L262.8 434.0 L262.3 434.0 L261.8 434.0 L261.3 434.0 L260.8 434.0 L260.3 434.0 L259.8 434.0 L259.3 434.0 L258.8 434.0 L258.3 434.0 L257.8 434.0 L257.3 434.0 L256.8 434.0 L256.3 434.0 L255.8 426.6 L255.3 426.6 L254.8 426.6 L254.3 426.6 L253.8 426.6 L253.3 426.6 L252.8 426.6 L252.3 426.6 L251.8 426.6 L251.3 426.6 L250.8 426.6 L250.3 426.6 L249.8 426.6 L249.3 426.6 L248.8 426.6 L248.3 426.6 L247.8 426.6 L247.3 426.6 L246.8 426.6 L246.3 426.6 L245.8 426.6 L245.3 426.6 L244.8 426.6 L244.3 426.6 L243.8 426.6 L243.3 426.6 L242.8 426.6 L242.3 426.6 L241.8 426.6 L241.3 426.6 L240.8 426.6 L240.3 426.6Z" fill="#060606"/>
<path d="M266.7 416.3 V433.3" stroke="#5a5a5a" stroke-width="0.6" fill="none"/>
<path d="M246.6 417.0h.9v.9h-.9zM253.0 415.7h.9v.9h-.9zM283.7 413.0h.9v.9h-.9zM289.5 415.5h.9v.9h-.9zM262.9 413.3h.9v.9h-.9zM242.8 417.3h.9v.9h-.9zM269.5 414.0h.9v.9h-.9zM284.6 414.0h.9v.9h-.9zM268.0 414.5h.9v.9h-.9zM254.4 415.4h.9v.9h-.9zM244.7 416.5h.9v.9h-.9zM250.1 414.2h.9v.9h-.9zM278.6 414.9h.9v.9h-.9zM270.0 414.4h.9v.9h-.9zM243.4 417.3h.9v.9h-.9zM242.6 416.4h.9v.9h-.9zM241.1 417.1h.9v.9h-.9zM298.4 421.5h.9v.9h-.9zM254.5 415.0h.9v.9h-.9zM249.1 416.3h.9v.9h-.9zM291.3 414.0h.9v.9h-.9zM241.4 417.5h.9v.9h-.9zM278.2 414.2h.9v.9h-.9zM287.7 413.1h.9v.9h-.9zM273.0 414.6h.9v.9h-.9zM290.4 414.1h.9v.9h-.9zM251.9 415.6h.9v.9h-.9zM250.2 414.5h.9v.9h-.9zM270.6 413.8h.9v.9h-.9zM288.6 412.4h.9v.9h-.9zM252.0 415.5h.9v.9h-.9zM291.9 414.2h.9v.9h-.9zM263.4 413.9h.9v.9h-.9zM252.3 416.0h.9v.9h-.9zM243.9 417.2h.9v.9h-.9zM254.7 414.8h.9v.9h-.9zM297.4 421.4h.9v.9h-.9zM273.4 413.3h.9v.9h-.9zM275.8 414.0h.9v.9h-.9zM285.7 415.4h.9v.9h-.9zM296.2 417.8h.9v.9h-.9zM287.9 413.5h.9v.9h-.9zM246.6 417.5h.9v.9h-.9zM251.3 415.4h.9v.9h-.9zM295.6 416.1h.9v.9h-.9zM264.9 414.1h.9v.9h-.9zM284.0 414.7h.9v.9h-.9zM297.5 419.9h.9v.9h-.9zM283.3 413.5h.9v.9h-.9zM287.6 414.0h.9v.9h-.9zM259.6 414.4h.9v.9h-.9zM254.8 415.4h.9v.9h-.9zM294.9 417.5h.9v.9h-.9zM242.3 417.7h.9v.9h-.9zM246.9 417.0h.9v.9h-.9zM260.3 414.1h.9v.9h-.9zM268.7 414.5h.9v.9h-.9zM261.5 413.6h.9v.9h-.9zM258.8 414.5h.9v.9h-.9zM292.1 412.8h.9v.9h-.9zM262.7 414.8h.9v.9h-.9zM296.3 418.2h.9v.9h-.9zM253.6 415.7h.9v.9h-.9zM254.8 415.1h.9v.9h-.9zM249.0 416.2h.9v.9h-.9zM298.9 421.6h.9v.9h-.9zM247.5 416.8h.9v.9h-.9zM287.6 414.3h.9v.9h-.9zM244.9 417.0h.9v.9h-.9zM263.1 412.8h.9v.9h-.9zM274.9 414.1h.9v.9h-.9zM277.7 414.0h.9v.9h-.9zM280.9 413.0h.9v.9h-.9zM280.0 414.5h.9v.9h-.9zM257.6 415.3h.9v.9h-.9zM245.7 417.1h.9v.9h-.9zM267.3 413.6h.9v.9h-.9zM253.6 415.3h.9v.9h-.9zM278.0 413.2h.9v.9h-.9zM242.1 416.0h.9v.9h-.9zM275.0 414.4h.9v.9h-.9zM254.9 414.5h.9v.9h-.9zM295.3 417.7h.9v.9h-.9zM264.1 414.7h.9v.9h-.9zM251.1 415.6h.9v.9h-.9zM294.4 415.9h.9v.9h-.9zM288.9 415.1h.9v.9h-.9zM291.5 414.2h.9v.9h-.9zM254.0 415.0h.9v.9h-.9zM280.7 413.7h.9v.9h-.9zM276.0 414.3h.9v.9h-.9zM273.2 414.6h.9v.9h-.9zM287.4 414.8h.9v.9h-.9zM298.0 422.3h.9v.9h-.9zM254.2 415.2h.9v.9h-.9zM248.4 416.1h.9v.9h-.9zM243.6 416.8h.9v.9h-.9zM258.9 413.9h.9v.9h-.9zM248.3 416.3h.9v.9h-.9zM282.5 414.9h.9v.9h-.9zM248.5 416.8h.9v.9h-.9zM278.7 414.7h.9v.9h-.9zM241.4 417.4h.9v.9h-.9zM288.0 415.0h.9v.9h-.9zM295.7 417.5h.9v.9h-.9zM250.3 415.9h.9v.9h-.9zM262.5 414.3h.9v.9h-.9zM251.1 415.9h.9v.9h-.9zM270.1 414.6h.9v.9h-.9zM266.8 414.3h.9v.9h-.9zM281.6 414.3h.9v.9h-.9zM254.2 415.5h.9v.9h-.9zM291.0 414.9h.9v.9h-.9zM248.1 417.1h.9v.9h-.9zM289.1 414.6h.9v.9h-.9zM294.8 417.0h.9v.9h-.9zM260.5 413.8h.9v.9h-.9zM283.6 414.9h.9v.9h-.9zM287.7 414.4h.9v.9h-.9zM243.4 417.5h.9v.9h-.9zM273.6 414.3h.9v.9h-.9zM293.7 414.5h.9v.9h-.9zM270.7 412.9h.9v.9h-.9zM281.1 413.8h.9v.9h-.9zM250.1 413.6h.9v.9h-.9zM294.5 417.3h.9v.9h-.9zM263.3 414.7h.9v.9h-.9zM277.0 412.7h.9v.9h-.9zM263.6 414.7h.9v.9h-.9zM276.6 413.2h.9v.9h-.9zM250.8 415.3h.9v.9h-.9zM278.3 414.4h.9v.9h-.9zM288.5 415.0h.9v.9h-.9zM289.4 414.7h.9v.9h-.9zM250.6 415.5h.9v.9h-.9zM247.5 417.1h.9v.9h-.9zM285.1 414.2h.9v.9h-.9zM277.7 413.7h.9v.9h-.9zM279.6 413.5h.9v.9h-.9zM262.3 414.8h.9v.9h-.9zM268.2 414.8h.9v.9h-.9zM251.9 415.5h.9v.9h-.9zM245.3 416.0h.9v.9h-.9zM257.3 413.7h.9v.9h-.9zM283.9 415.1h.9v.9h-.9zM293.3 415.1h.9v.9h-.9zM271.5 413.5h.9v.9h-.9zM268.8 414.9h.9v.9h-.9zM249.6 416.2h.9v.9h-.9zM290.9 413.5h.9v.9h-.9zM247.8 417.1h.9v.9h-.9zM247.4 417.1h.9v.9h-.9zM261.4 413.7h.9v.9h-.9zM249.6 415.6h.9v.9h-.9zM255.0 413.7h.9v.9h-.9zM269.0 414.5h.9v.9h-.9zM285.5 415.1h.9v.9h-.9zM255.9 415.2h.9v.9h-.9zM258.1 414.5h.9v.9h-.9zM283.8 414.7h.9v.9h-.9zM282.1 415.1h.9v.9h-.9zM245.0 417.1h.9v.9h-.9zM263.8 413.0h.9v.9h-.9zM252.5 416.0h.9v.9h-.9zM250.0 416.2h.9v.9h-.9zM296.9 417.8h.9v.9h-.9zM254.2 415.6h.9v.9h-.9zM269.3 413.7h.9v.9h-.9zM247.4 416.9h.9v.9h-.9zM285.7 415.4h.9v.9h-.9zM282.8 414.1h.9v.9h-.9zM286.7 414.7h.9v.9h-.9zM267.9 414.2h.9v.9h-.9zM248.8 415.7h.9v.9h-.9zM254.9 415.1h.9v.9h-.9zM243.5 417.7h.9v.9h-.9zM244.1 417.3h.9v.9h-.9zM254.7 414.8h.9v.9h-.9zM270.3 414.6h.9v.9h-.9zM248.3 416.5h.9v.9h-.9zM280.3 414.0h.9v.9h-.9zM270.5 414.0h.9v.9h-.9zM242.3 417.7h.9v.9h-.9zM287.6 414.5h.9v.9h-.9zM247.0 417.1h.9v.9h-.9zM289.5 415.4h.9v.9h-.9zM247.4 416.8h.9v.9h-.9zM291.8 415.0h.9v.9h-.9zM255.4 413.7h.9v.9h-.9zM246.4 416.9h.9v.9h-.9zM300.7 426.4h.9v.9h-.9zM299.7 421.2h.9v.9h-.9zM297.4 419.2h.9v.9h-.9zM299.3 420.7h.9v.9h-.9zM297.8 420.6h.9v.9h-.9zM300.4 427.5h.9v.9h-.9zM298.8 425.8h.9v.9h-.9zM300.3 425.5h.9v.9h-.9zM299.1 425.3h.9v.9h-.9zM297.6 425.7h.9v.9h-.9zM263.2 413.4h.9v.9h-.9zM284.2 413.1h.9v.9h-.9zM274.0 413.2h.9v.9h-.9zM271.6 413.3h.9v.9h-.9zM282.6 412.9h.9v.9h-.9zM277.9 411.8h.9v.9h-.9zM287.3 413.8h.9v.9h-.9zM268.7 410.9h.9v.9h-.9zM271.3 406.0h.9v.9h-.9zM278.2 412.0h.9v.9h-.9zM271.4 410.8h.9v.9h-.9zM280.9 410.4h.9v.9h-.9zM256.6 413.8h.9v.9h-.9zM284.0 413.5h.9v.9h-.9zM273.1 414.3h.9v.9h-.9zM263.7 412.9h.9v.9h-.9zM258.3 411.0h.9v.9h-.9zM289.4 411.3h.9v.9h-.9zM275.9 414.2h.9v.9h-.9zM261.2 412.1h.9v.9h-.9zM283.8 414.0h.9v.9h-.9zM292.6 412.3h.9v.9h-.9zM289.1 414.6h.9v.9h-.9zM273.2 412.7h.9v.9h-.9zM280.9 413.4h.9v.9h-.9zM264.9 413.2h.9v.9h-.9zM281.6 414.3h.9v.9h-.9zM267.6 413.3h.9v.9h-.9zM264.7 413.9h.9v.9h-.9zM280.2 412.2h.9v.9h-.9zM279.9 414.2h.9v.9h-.9zM268.4 412.9h.9v.9h-.9zM280.5 412.6h.9v.9h-.9zM278.1 410.1h.9v.9h-.9zM271.3 412.7h.9v.9h-.9zM282.0 415.0h.9v.9h-.9zM271.7 414.5h.9v.9h-.9zM257.7 415.3h.9v.9h-.9zM282.8 412.6h.9v.9h-.9zM267.4 413.7h.9v.9h-.9zM259.8 408.2h.9v.9h-.9zM276.0 414.2h.9v.9h-.9zM276.7 410.2h.9v.9h-.9zM271.9 414.1h.9v.9h-.9zM281.5 412.1h.9v.9h-.9zM285.1 412.1h.9v.9h-.9zM288.4 413.3h.9v.9h-.9zM257.1 413.9h.9v.9h-.9zM263.1 412.8h.9v.9h-.9zM260.4 413.2h.9v.9h-.9zM271.4 411.9h.9v.9h-.9zM257.6 411.4h.9v.9h-.9zM259.4 403.8h.9v.9h-.9zM270.5 405.1h.9v.9h-.9zM255.5 404.1h.9v.9h-.9zM258.2 414.1h.9v.9h-.9zM278.4 411.3h.9v.9h-.9zM291.4 409.5h.9v.9h-.9zM286.4 411.6h.9v.9h-.9zM262.5 410.5h.9v.9h-.9zM280.4 414.7h.9v.9h-.9zM277.7 411.2h.9v.9h-.9zM277.4 410.0h.9v.9h-.9zM275.3 402.5h.9v.9h-.9zM268.7 411.0h.9v.9h-.9zM275.7 410.4h.9v.9h-.9zM287.6 403.8h.9v.9h-.9zM258.7 401.5h.9v.9h-.9zM274.0 408.4h.9v.9h-.9zM286.0 414.3h.9v.9h-.9zM279.1 414.4h.9v.9h-.9zM272.6 399.5h.9v.9h-.9zM281.8 413.9h.9v.9h-.9zM277.1 411.5h.9v.9h-.9zM268.3 412.2h.9v.9h-.9zM259.0 408.3h.9v.9h-.9zM270.8 403.6h.9v.9h-.9zM282.1 405.9h.9v.9h-.9zM281.4 412.4h.9v.9h-.9zM265.6 412.3h.9v.9h-.9zM274.3 397.5h.9v.9h-.9zM283.4 413.6h.9v.9h-.9z" fill="#161616"/>
<path d="M278.0 431.7h1v.9h-1zM272.8 433.4h1v.9h-1zM276.3 432.6h1v.9h-1zM263.6 433.3h1v.9h-1zM281.2 431.4h1v.9h-1zM261.2 433.4h1v.9h-1zM276.7 433.1h1v.9h-1zM280.9 432.7h1v.9h-1zM277.1 433.4h1v.9h-1zM278.6 433.2h1v.9h-1zM270.3 432.6h1v.9h-1zM267.8 433.2h1v.9h-1zM270.7 433.4h1v.9h-1zM263.8 433.3h1v.9h-1zM280.5 433.0h1v.9h-1zM283.6 431.4h1v.9h-1zM264.0 431.5h1v.9h-1zM283.7 432.7h1v.9h-1zM271.6 432.1h1v.9h-1zM271.8 433.1h1v.9h-1z" fill="#fff"/>
<rect x="240.30" y="427.80" width="16.20" height="6.30" fill="#cbcbcb" stroke="#999" stroke-width="0.4"/>
<rect x="289.40" y="427.80" width="14.20" height="6.30" fill="#ececec" stroke="#aaa" stroke-width="0.4"/>
<text x="240.90" y="374.70" font-size="5.7" text-anchor="start" fill="#6a6a6a">0.08</text>
<text x="302.40" y="374.70" font-size="5.7" text-anchor="end" fill="#6a6a6a">0.08</text>
<text x="241.10" y="433.00" font-size="5.7" text-anchor="start" fill="#5c5c5c">73.31</text>
<text x="303.00" y="433.00" font-size="5.7" text-anchor="end" fill="#5c5c5c">26.52</text>
<rect x="239.9" y="369.6" width="64.10" height="64.70" fill="none" stroke="#bcbcbc" stroke-width="0.7"/>
</g>
<g>
<rect x="331.4" y="369.6" width="65.20" height="64.70" fill="#fff" stroke="#bcbcbc" stroke-width="0.7"/>
<path d="M357.3 369.6 V434.3 M331.4 413.5 H396.6" stroke="#c8c8c8" stroke-width="0.7" fill="none"/>
<path d="M347.70 434.3 v-1.6 M331.4 418.12 h1.6 M364.00 434.3 v-1.6 M331.4 401.95 h1.6 M380.30 434.3 v-1.6 M331.4 385.78 h1.6" stroke="#999" stroke-width="0.6" fill="none"/>
<text x="329.00" y="439.10" font-size="3.3" fill="#b8b8b8">10<tspan dy="-1.3" font-size="2.3">0</tspan></text>
<text x="324.80" y="435.30" font-size="3.3" fill="#b8b8b8">10<tspan dy="-1.3" font-size="2.3">0</tspan></text>
<text x="345.30" y="439.10" font-size="3.3" fill="#b8b8b8">10<tspan dy="-1.3" font-size="2.3">1</tspan></text>
<text x="324.80" y="419.12" font-size="3.3" fill="#b8b8b8">10<tspan dy="-1.3" font-size="2.3">1</tspan></text>
<text x="361.60" y="439.10" font-size="3.3" fill="#b8b8b8">10<tspan dy="-1.3" font-size="2.3">2</tspan></text>
<text x="324.80" y="402.95" font-size="3.3" fill="#b8b8b8">10<tspan dy="-1.3" font-size="2.3">2</tspan></text>
<text x="377.90" y="439.10" font-size="3.3" fill="#b8b8b8">10<tspan dy="-1.3" font-size="2.3">3</tspan></text>
<text x="324.80" y="386.78" font-size="3.3" fill="#b8b8b8">10<tspan dy="-1.3" font-size="2.3">3</tspan></text>
<text x="364.00" y="444.50" font-size="2.9" text-anchor="middle" fill="#999">FL1-H</text>
<text transform="translate(318.80 402.95) rotate(-90)" font-size="2.9" text-anchor="middle" fill="#999">FL2-H</text>
<path d="M331.8 419.0 L332.3 419.2 L332.8 419.1 L333.3 418.1 L333.8 418.1 L334.3 417.8 L334.8 417.7 L335.3 417.1 L335.8 416.8 L336.3 416.8 L336.8 416.5 L337.3 416.6 L337.8 416.1 L338.3 415.8 L338.8 416.2 L339.3 416.1 L339.8 416.1 L340.3 416.2 L340.8 415.8 L341.3 415.2 L341.8 415.6 L342.3 415.6 L342.8 415.6 L343.3 415.4 L343.8 415.7 L344.3 415.1 L344.8 415.2 L345.3 414.7 L345.8 414.6 L346.2 414.6 L346.7 414.1 L347.2 413.6 L347.7 413.7 L348.2 414.0 L348.7 414.0 L349.2 413.9 L349.7 414.0 L350.2 413.5 L350.7 413.2 L351.2 413.2 L351.7 413.7 L352.2 413.3 L352.7 412.9 L353.2 412.7 L353.7 412.5 L354.2 412.6 L354.7 413.0 L355.2 413.4 L355.7 413.1 L356.2 412.9 L356.7 412.7 L357.2 412.6 L357.7 413.0 L358.2 413.0 L358.7 412.6 L359.2 412.2 L359.7 412.7 L360.2 412.9 L360.7 413.1 L361.2 412.5 L361.7 412.5 L362.2 412.9 L362.7 412.8 L363.2 413.1 L363.7 412.4 L364.2 412.9 L364.7 412.1 L365.2 412.1 L365.7 411.7 L366.2 412.3 L366.7 412.5 L367.2 412.9 L367.7 413.0 L368.2 413.2 L368.7 412.9 L369.2 413.2 L369.7 413.2 L370.2 412.7 L370.7 413.2 L371.2 412.8 L371.7 412.4 L372.2 412.1 L372.7 412.4 L373.2 412.3 L373.7 413.0 L374.2 413.5 L374.7 413.0 L375.1 412.6 L375.6 412.9 L376.1 412.7 L376.6 413.0 L377.1 413.5 L377.6 413.2 L378.1 413.2 L378.6 413.8 L379.1 413.6 L379.6 413.5 L380.1 414.0 L380.6 414.2 L381.1 414.4 L381.6 414.4 L382.1 414.0 L382.6 414.2 L383.1 414.4 L383.6 414.5 L384.1 414.3 L384.6 414.5 L385.1 414.8 L385.6 415.6 L386.1 416.0 L386.6 416.5 L387.1 417.2 L387.6 417.5 L388.1 419.1 L388.6 420.2 L389.1 421.5 L389.6 422.8 L389.6 423.7 L389.1 423.9 L388.6 424.4 L388.1 425.2 L387.6 425.9 L387.1 426.4 L386.6 426.4 L386.1 426.5 L385.6 426.6 L385.1 426.6 L384.6 426.7 L384.1 426.7 L383.6 426.8 L383.1 426.8 L382.6 426.8 L382.1 426.8 L381.6 434.0 L381.1 434.0 L380.6 434.0 L380.1 434.0 L379.6 434.0 L379.1 434.0 L378.6 434.0 L378.1 434.0 L377.6 434.0 L377.1 434.0 L376.6 434.0 L376.1 434.0 L375.6 434.0 L375.1 434.0 L374.7 434.0 L374.2 434.0 L373.7 434.0 L373.2 434.0 L372.7 434.0 L372.2 434.0 L371.7 434.0 L371.2 434.0 L370.7 434.0 L370.2 434.0 L369.7 434.0 L369.2 434.0 L368.7 434.0 L368.2 434.0 L367.7 434.0 L367.2 434.0 L366.7 434.0 L366.2 434.0 L365.7 434.0 L365.2 434.0 L364.7 434.0 L364.2 434.0 L363.7 434.0 L363.2 434.0 L362.7 434.0 L362.2 434.0 L361.7 434.0 L361.2 434.0 L360.7 434.0 L360.2 434.0 L359.7 434.0 L359.2 434.0 L358.7 434.0 L358.2 434.0 L357.7 434.0 L357.2 434.0 L356.7 434.0 L356.2 434.0 L355.7 434.0 L355.2 434.0 L354.7 434.0 L354.2 434.0 L353.7 434.0 L353.2 434.0 L352.7 434.0 L352.2 434.0 L351.7 434.0 L351.2 434.0 L350.7 434.0 L350.2 434.0 L349.7 434.0 L349.2 434.0 L348.7 434.0 L348.2 434.0 L347.7 434.0 L347.2 427.0 L346.7 427.0 L346.2 427.0 L345.8 427.0 L345.3 427.0 L344.8 427.0 L344.3 427.0 L343.8 427.0 L343.3 427.0 L342.8 427.0 L342.3 427.0 L341.8 427.0 L341.3 427.0 L340.8 427.0 L340.3 427.0 L339.8 427.0 L339.3 427.0 L338.8 427.0 L338.3 427.0 L337.8 427.0 L337.3 427.0 L336.8 427.0 L336.3 427.0 L335.8 427.0 L335.3 427.0 L334.8 427.0 L334.3 427.0 L333.8 427.0 L333.3 427.0 L332.8 427.0 L332.3 427.0 L331.8 427.0Z" fill="#060606"/>
<path d="M357.3 415.7 V433.3" stroke="#5a5a5a" stroke-width="0.6" fill="none"/>
<path d="M346.9 411.4h.9v.9h-.9zM337.0 415.8h.9v.9h-.9zM363.9 412.1h.9v.9h-.9zM365.0 411.5h.9v.9h-.9zM358.6 411.5h.9v.9h-.9zM332.6 418.7h.9v.9h-.9zM378.1 413.1h.9v.9h-.9zM382.9 414.2h.9v.9h-.9zM372.0 411.9h.9v.9h-.9zM358.6 412.1h.9v.9h-.9zM337.2 415.5h.9v.9h-.9zM360.3 411.8h.9v.9h-.9zM363.8 411.6h.9v.9h-.9zM363.0 412.8h.9v.9h-.9zM384.7 414.4h.9v.9h-.9zM383.4 412.8h.9v.9h-.9zM361.4 411.2h.9v.9h-.9zM371.6 411.6h.9v.9h-.9zM349.4 413.5h.9v.9h-.9zM352.7 412.6h.9v.9h-.9zM388.3 418.7h.9v.9h-.9zM355.0 412.5h.9v.9h-.9zM379.9 413.4h.9v.9h-.9zM364.6 411.9h.9v.9h-.9zM348.6 413.9h.9v.9h-.9zM345.0 414.4h.9v.9h-.9zM382.0 413.4h.9v.9h-.9zM338.8 415.7h.9v.9h-.9zM339.4 415.4h.9v.9h-.9zM358.1 411.2h.9v.9h-.9zM347.5 411.9h.9v.9h-.9zM346.8 410.5h.9v.9h-.9zM369.3 413.2h.9v.9h-.9zM379.4 413.4h.9v.9h-.9zM353.5 412.4h.9v.9h-.9zM381.1 414.4h.9v.9h-.9zM375.4 412.2h.9v.9h-.9zM371.9 411.8h.9v.9h-.9zM337.0 414.3h.9v.9h-.9zM370.5 413.0h.9v.9h-.9zM389.2 419.3h.9v.9h-.9zM343.0 415.4h.9v.9h-.9zM368.0 413.1h.9v.9h-.9zM375.0 412.0h.9v.9h-.9zM373.7 412.3h.9v.9h-.9zM377.3 412.0h.9v.9h-.9zM367.5 412.2h.9v.9h-.9zM351.4 413.1h.9v.9h-.9zM337.8 414.3h.9v.9h-.9zM344.4 414.6h.9v.9h-.9zM350.8 412.4h.9v.9h-.9zM363.4 410.6h.9v.9h-.9zM357.8 412.6h.9v.9h-.9zM370.3 411.5h.9v.9h-.9zM386.3 415.7h.9v.9h-.9zM384.0 410.7h.9v.9h-.9zM389.6 422.6h.9v.9h-.9zM354.5 411.6h.9v.9h-.9zM380.8 414.2h.9v.9h-.9zM355.4 412.3h.9v.9h-.9zM376.5 412.3h.9v.9h-.9zM344.7 414.7h.9v.9h-.9zM335.8 416.5h.9v.9h-.9zM357.3 411.0h.9v.9h-.9zM366.7 412.0h.9v.9h-.9zM346.7 413.8h.9v.9h-.9zM371.4 411.9h.9v.9h-.9zM342.5 414.0h.9v.9h-.9zM365.9 408.6h.9v.9h-.9zM363.6 411.5h.9v.9h-.9zM357.3 411.8h.9v.9h-.9zM385.9 412.5h.9v.9h-.9zM370.9 412.7h.9v.9h-.9zM336.0 415.2h.9v.9h-.9zM355.2 413.0h.9v.9h-.9zM335.7 416.8h.9v.9h-.9zM355.1 410.1h.9v.9h-.9zM375.5 411.8h.9v.9h-.9zM371.3 412.5h.9v.9h-.9zM342.2 414.7h.9v.9h-.9zM336.1 416.0h.9v.9h-.9zM362.3 412.2h.9v.9h-.9zM339.5 416.0h.9v.9h-.9zM359.9 412.6h.9v.9h-.9zM369.7 412.8h.9v.9h-.9zM368.5 411.7h.9v.9h-.9zM367.7 412.3h.9v.9h-.9zM343.9 415.3h.9v.9h-.9zM389.3 421.2h.9v.9h-.9zM348.9 413.4h.9v.9h-.9zM364.2 411.5h.9v.9h-.9zM349.6 411.0h.9v.9h-.9zM333.7 416.7h.9v.9h-.9zM365.6 409.6h.9v.9h-.9zM341.3 414.2h.9v.9h-.9zM387.5 416.5h.9v.9h-.9zM338.9 413.9h.9v.9h-.9zM388.8 420.1h.9v.9h-.9zM380.5 414.1h.9v.9h-.9zM337.1 415.1h.9v.9h-.9zM374.3 410.7h.9v.9h-.9zM369.2 412.6h.9v.9h-.9zM348.2 413.2h.9v.9h-.9zM390.2 421.8h.9v.9h-.9zM383.4 414.2h.9v.9h-.9zM375.2 411.4h.9v.9h-.9zM336.5 415.3h.9v.9h-.9zM342.6 415.3h.9v.9h-.9zM336.0 415.8h.9v.9h-.9zM340.7 412.5h.9v.9h-.9zM332.4 417.7h.9v.9h-.9zM376.6 412.3h.9v.9h-.9zM365.7 410.2h.9v.9h-.9zM369.4 413.0h.9v.9h-.9zM378.8 413.4h.9v.9h-.9zM366.4 411.6h.9v.9h-.9zM385.0 414.3h.9v.9h-.9zM382.1 414.0h.9v.9h-.9zM351.4 412.2h.9v.9h-.9zM368.0 411.6h.9v.9h-.9zM344.5 413.6h.9v.9h-.9zM378.7 413.7h.9v.9h-.9zM340.5 415.1h.9v.9h-.9zM389.2 420.6h.9v.9h-.9zM357.3 412.0h.9v.9h-.9zM379.5 412.8h.9v.9h-.9zM363.6 411.6h.9v.9h-.9zM386.6 415.0h.9v.9h-.9zM381.2 414.2h.9v.9h-.9zM367.3 411.4h.9v.9h-.9zM374.2 410.8h.9v.9h-.9zM385.7 415.5h.9v.9h-.9zM362.0 412.5h.9v.9h-.9zM344.3 414.5h.9v.9h-.9zM389.6 421.5h.9v.9h-.9zM338.2 415.5h.9v.9h-.9zM353.9 410.5h.9v.9h-.9zM359.1 412.0h.9v.9h-.9zM364.4 412.6h.9v.9h-.9zM334.6 416.9h.9v.9h-.9zM390.1 421.4h.9v.9h-.9zM375.2 412.5h.9v.9h-.9zM365.1 411.2h.9v.9h-.9zM376.6 412.5h.9v.9h-.9zM335.5 414.7h.9v.9h-.9zM347.9 412.5h.9v.9h-.9zM359.4 410.8h.9v.9h-.9zM352.1 413.2h.9v.9h-.9zM357.3 412.0h.9v.9h-.9zM378.5 413.3h.9v.9h-.9zM371.2 412.4h.9v.9h-.9zM375.0 412.4h.9v.9h-.9zM383.6 411.9h.9v.9h-.9zM333.8 416.3h.9v.9h-.9zM377.7 412.1h.9v.9h-.9zM338.6 415.0h.9v.9h-.9zM377.3 412.6h.9v.9h-.9zM388.5 417.6h.9v.9h-.9zM369.3 410.9h.9v.9h-.9zM340.8 415.5h.9v.9h-.9zM363.2 412.4h.9v.9h-.9zM387.9 416.6h.9v.9h-.9zM368.6 412.0h.9v.9h-.9zM387.4 417.0h.9v.9h-.9zM375.4 412.1h.9v.9h-.9zM355.8 412.7h.9v.9h-.9zM341.3 415.2h.9v.9h-.9zM352.0 413.4h.9v.9h-.9zM337.1 416.0h.9v.9h-.9zM352.8 410.6h.9v.9h-.9zM377.8 412.2h.9v.9h-.9zM381.7 414.1h.9v.9h-.9zM339.2 415.3h.9v.9h-.9zM345.6 410.8h.9v.9h-.9zM357.1 410.6h.9v.9h-.9zM346.7 414.1h.9v.9h-.9zM368.9 411.8h.9v.9h-.9zM347.3 411.2h.9v.9h-.9zM389.0 420.5h.9v.9h-.9zM389.5 419.1h.9v.9h-.9zM341.0 414.1h.9v.9h-.9zM375.8 411.7h.9v.9h-.9zM352.2 412.6h.9v.9h-.9zM366.6 410.8h.9v.9h-.9zM335.4 416.7h.9v.9h-.9zM350.7 411.8h.9v.9h-.9zM339.2 416.0h.9v.9h-.9zM339.1 416.0h.9v.9h-.9zM357.7 411.2h.9v.9h-.9zM353.1 412.6h.9v.9h-.9zM371.4 412.4h.9v.9h-.9zM365.6 410.4h.9v.9h-.9zM358.9 411.4h.9v.9h-.9zM368.5 411.2h.9v.9h-.9zM376.8 410.9h.9v.9h-.9zM375.8 412.6h.9v.9h-.9zM361.8 411.2h.9v.9h-.9zM378.1 412.1h.9v.9h-.9zM381.5 412.8h.9v.9h-.9zM363.9 411.5h.9v.9h-.9zM334.9 417.1h.9v.9h-.9zM374.7 410.8h.9v.9h-.9zM381.8 413.8h.9v.9h-.9zM345.8 412.7h.9v.9h-.9zM370.7 413.0h.9v.9h-.9zM334.6 415.8h.9v.9h-.9zM366.0 412.2h.9v.9h-.9zM390.0 422.0h.9v.9h-.9zM376.6 411.5h.9v.9h-.9zM347.3 412.9h.9v.9h-.9zM342.4 414.7h.9v.9h-.9zM357.7 411.6h.9v.9h-.9zM339.1 415.9h.9v.9h-.9zM354.9 413.0h.9v.9h-.9zM356.1 410.0h.9v.9h-.9zM382.8 414.0h.9v.9h-.9zM380.8 414.0h.9v.9h-.9zM346.3 413.7h.9v.9h-.9zM349.5 413.8h.9v.9h-.9zM337.4 416.4h.9v.9h-.9zM390.3 417.0h.9v.9h-.9zM393.1 422.9h.9v.9h-.9zM389.4 416.5h.9v.9h-.9zM392.0 420.9h.9v.9h-.9zM388.6 421.4h.9v.9h-.9zM389.1 420.3h.9v.9h-.9zM391.7 417.4h.9v.9h-.9zM388.9 426.7h.9v.9h-.9zM389.1 418.1h.9v.9h-.9zM392.4 417.6h.9v.9h-.9zM388.9 419.4h.9v.9h-.9zM389.5 418.1h.9v.9h-.9zM392.3 422.7h.9v.9h-.9zM390.8 422.4h.9v.9h-.9zM392.6 417.0h.9v.9h-.9zM388.8 417.0h.9v.9h-.9zM388.7 422.5h.9v.9h-.9zM388.8 423.9h.9v.9h-.9zM388.6 421.2h.9v.9h-.9zM388.7 420.2h.9v.9h-.9zM366.8 407.6h.9v.9h-.9zM380.8 411.2h.9v.9h-.9zM342.8 408.4h.9v.9h-.9zM367.7 411.3h.9v.9h-.9zM376.8 402.4h.9v.9h-.9zM345.9 405.4h.9v.9h-.9zM356.7 402.2h.9v.9h-.9zM350.3 413.1h.9v.9h-.9zM364.9 411.6h.9v.9h-.9zM348.0 410.2h.9v.9h-.9zM344.1 414.7h.9v.9h-.9zM379.4 403.0h.9v.9h-.9zM343.8 409.8h.9v.9h-.9zM343.5 409.3h.9v.9h-.9zM383.0 412.6h.9v.9h-.9zM381.0 407.6h.9v.9h-.9zM382.9 413.7h.9v.9h-.9zM375.3 409.2h.9v.9h-.9zM352.5 412.2h.9v.9h-.9zM353.4 408.8h.9v.9h-.9zM367.6 407.3h.9v.9h-.9zM351.4 405.6h.9v.9h-.9zM358.6 409.1h.9v.9h-.9zM382.2 412.2h.9v.9h-.9zM378.4 408.7h.9v.9h-.9zM352.5 403.6h.9v.9h-.9zM368.4 412.2h.9v.9h-.9zM352.5 406.1h.9v.9h-.9zM359.2 411.1h.9v.9h-.9zM367.4 411.1h.9v.9h-.9zM358.3 407.7h.9v.9h-.9zM350.9 411.6h.9v.9h-.9zM353.1 405.0h.9v.9h-.9zM352.1 407.6h.9v.9h-.9zM358.9 408.4h.9v.9h-.9zM348.9 409.7h.9v.9h-.9zM360.3 410.5h.9v.9h-.9zM382.8 413.3h.9v.9h-.9zM344.8 414.7h.9v.9h-.9zM376.5 412.6h.9v.9h-.9zM354.8 410.4h.9v.9h-.9zM385.7 409.8h.9v.9h-.9zM361.3 405.0h.9v.9h-.9zM355.7 410.9h.9v.9h-.9zM373.0 411.5h.9v.9h-.9zM357.5 411.3h.9v.9h-.9zM354.7 412.3h.9v.9h-.9zM359.8 412.6h.9v.9h-.9zM385.2 408.6h.9v.9h-.9zM377.3 412.1h.9v.9h-.9zM352.0 413.2h.9v.9h-.9zM368.5 406.7h.9v.9h-.9zM351.3 411.7h.9v.9h-.9zM347.4 410.6h.9v.9h-.9zM378.3 404.1h.9v.9h-.9zM368.0 412.8h.9v.9h-.9zM364.2 403.1h.9v.9h-.9zM369.7 406.8h.9v.9h-.9zM376.8 411.6h.9v.9h-.9zM369.8 409.9h.9v.9h-.9zM379.7 407.7h.9v.9h-.9zM350.1 409.2h.9v.9h-.9zM358.0 410.9h.9v.9h-.9zM364.2 411.7h.9v.9h-.9zM355.6 409.9h.9v.9h-.9zM350.3 408.8h.9v.9h-.9zM362.6 403.7h.9v.9h-.9zM370.4 408.3h.9v.9h-.9zM362.3 407.8h.9v.9h-.9zM362.5 412.5h.9v.9h-.9zM352.3 411.3h.9v.9h-.9zM358.8 409.9h.9v.9h-.9zM351.1 411.7h.9v.9h-.9zM355.6 410.0h.9v.9h-.9zM375.9 410.0h.9v.9h-.9zM381.5 409.9h.9v.9h-.9zM361.0 404.7h.9v.9h-.9zM378.5 413.6h.9v.9h-.9zM351.1 402.8h.9v.9h-.9zM366.1 408.8h.9v.9h-.9zM364.2 412.0h.9v.9h-.9zM377.5 412.8h.9v.9h-.9zM344.0 413.5h.9v.9h-.9zM342.1 415.5h.9v.9h-.9zM362.8 411.3h.9v.9h-.9zM350.4 413.3h.9v.9h-.9zM351.0 411.9h.9v.9h-.9zM363.4 411.0h.9v.9h-.9zM353.5 411.3h.9v.9h-.9zM385.5 409.0h.9v.9h-.9zM358.4 404.4h.9v.9h-.9zM356.2 402.8h.9v.9h-.9zM362.6 410.5h.9v.9h-.9zM356.4 406.1h.9v.9h-.9zM381.4 413.5h.9v.9h-.9zM346.4 414.0h.9v.9h-.9zM372.7 405.9h.9v.9h-.9zM355.6 411.9h.9v.9h-.9zM344.7 413.7h.9v.9h-.9zM385.1 413.6h.9v.9h-.9zM376.3 412.5h.9v.9h-.9zM364.1 412.2h.9v.9h-.9zM378.9 413.6h.9v.9h-.9zM384.5 405.4h.9v.9h-.9zM354.5 408.5h.9v.9h-.9zM361.0 403.8h.9v.9h-.9zM354.5 409.3h.9v.9h-.9zM348.9 412.0h.9v.9h-.9zM375.2 409.6h.9v.9h-.9zM370.7 411.7h.9v.9h-.9zM356.7 409.1h.9v.9h-.9zM371.5 406.1h.9v.9h-.9zM350.3 412.8h.9v.9h-.9zM381.1 409.9h.9v.9h-.9zM358.1 407.0h.9v.9h-.9zM362.1 409.8h.9v.9h-.9zM348.1 406.4h.9v.9h-.9zM345.8 413.5h.9v.9h-.9zM363.9 409.8h.9v.9h-.9zM363.6 412.1h.9v.9h-.9zM349.9 413.4h.9v.9h-.9zM352.9 412.9h.9v.9h-.9zM378.7 413.0h.9v.9h-.9zM378.0 409.4h.9v.9h-.9zM339.7 414.5h.9v.9h-.9zM358.8 403.2h.9v.9h-.9zM340.1 415.6h.9v.9h-.9zM371.4 409.6h.9v.9h-.9zM368.5 411.0h.9v.9h-.9zM381.5 413.6h.9v.9h-.9zM356.6 412.1h.9v.9h-.9zM371.6 405.0h.9v.9h-.9zM379.7 411.6h.9v.9h-.9zM375.4 408.2h.9v.9h-.9zM372.5 410.6h.9v.9h-.9zM356.5 409.5h.9v.9h-.9zM367.2 412.0h.9v.9h-.9zM347.1 412.8h.9v.9h-.9zM369.5 405.7h.9v.9h-.9zM364.2 412.5h.9v.9h-.9zM373.2 405.7h.9v.9h-.9zM347.4 408.1h.9v.9h-.9zM352.0 411.1h.9v.9h-.9zM355.4 412.7h.9v.9h-.9zM357.5 401.5h.9v.9h-.9zM351.4 408.8h.9v.9h-.9zM366.1 409.5h.9v.9h-.9zM343.7 413.1h.9v.9h-.9zM381.7 411.3h.9v.9h-.9zM358.4 408.6h.9v.9h-.9zM374.8 412.4h.9v.9h-.9zM341.2 411.1h.9v.9h-.9zM349.8 410.8h.9v.9h-.9zM364.6 410.8h.9v.9h-.9zM356.6 407.9h.9v.9h-.9zM352.7 409.6h.9v.9h-.9zM348.3 405.5h.9v.9h-.9zM346.9 411.4h.9v.9h-.9zM378.1 412.5h.9v.9h-.9zM371.2 407.4h.9v.9h-.9zM377.0 413.0h.9v.9h-.9zM344.3 415.0h.9v.9h-.9zM386.3 416.0h.9v.9h-.9zM375.3 405.0h.9v.9h-.9zM347.9 407.0h.9v.9h-.9zM369.4 406.3h.9v.9h-.9zM377.2 412.2h.9v.9h-.9zM345.0 411.9h.9v.9h-.9zM366.6 409.6h.9v.9h-.9zM345.4 410.7h.9v.9h-.9zM362.6 403.1h.9v.9h-.9zM359.3 411.5h.9v.9h-.9zM377.5 408.8h.9v.9h-.9zM358.1 411.4h.9v.9h-.9zM344.0 407.3h.9v.9h-.9zM377.6 410.9h.9v.9h-.9zM380.2 412.8h.9v.9h-.9zM350.4 413.0h.9v.9h-.9zM377.6 410.4h.9v.9h-.9zM365.6 411.6h.9v.9h-.9zM384.1 410.8h.9v.9h-.9zM376.4 412.5h.9v.9h-.9zM366.3 410.6h.9v.9h-.9zM366.5 412.2h.9v.9h-.9zM367.2 412.4h.9v.9h-.9zM343.8 414.9h.9v.9h-.9zM357.2 402.8h.9v.9h-.9zM357.6 402.9h.9v.9h-.9zM371.4 409.9h.9v.9h-.9zM366.8 411.1h.9v.9h-.9zM355.4 410.4h.9v.9h-.9zM377.6 413.2h.9v.9h-.9zM374.3 402.6h.9v.9h-.9zM348.0 413.4h.9v.9h-.9zM349.7 410.8h.9v.9h-.9zM370.1 407.5h.9v.9h-.9zM372.4 410.5h.9v.9h-.9zM375.3 410.1h.9v.9h-.9zM356.0 402.4h.9v.9h-.9zM362.1 406.4h.9v.9h-.9zM367.0 410.7h.9v.9h-.9zM358.3 408.6h.9v.9h-.9zM371.9 409.4h.9v.9h-.9zM363.4 410.9h.9v.9h-.9zM356.8 412.0h.9v.9h-.9zM346.1 412.5h.9v.9h-.9zM381.1 409.2h.9v.9h-.9zM385.5 410.9h.9v.9h-.9zM384.4 414.4h.9v.9h-.9zM383.5 412.7h.9v.9h-.9zM376.4 409.7h.9v.9h-.9zM354.8 409.0h.9v.9h-.9zM375.7 412.9h.9v.9h-.9zM361.1 404.2h.9v.9h-.9zM383.6 411.8h.9v.9h-.9zM357.6 410.1h.9v.9h-.9zM365.1 409.2h.9v.9h-.9zM344.7 411.3h.9v.9h-.9zM344.2 414.2h.9v.9h-.9zM361.9 406.1h.9v.9h-.9zM385.9 413.1h.9v.9h-.9zM361.1 409.0h.9v.9h-.9zM384.8 409.2h.9v.9h-.9zM373.4 402.3h.9v.9h-.9zM381.3 413.2h.9v.9h-.9zM351.7 404.2h.9v.9h-.9zM375.5 406.4h.9v.9h-.9zM341.2 412.1h.9v.9h-.9zM353.9 412.5h.9v.9h-.9zM389.7 417.8h.9v.9h-.9zM382.1 410.4h.9v.9h-.9zM369.7 408.7h.9v.9h-.9zM352.5 412.8h.9v.9h-.9zM373.0 412.1h.9v.9h-.9zM383.2 412.8h.9v.9h-.9zM377.8 411.3h.9v.9h-.9zM373.2 410.9h.9v.9h-.9zM363.5 411.7h.9v.9h-.9zM368.0 412.1h.9v.9h-.9zM356.7 408.7h.9v.9h-.9zM352.9 411.1h.9v.9h-.9zM347.8 412.1h.9v.9h-.9zM388.1 418.6h.9v.9h-.9zM343.2 413.8h.9v.9h-.9zM362.0 406.7h.9v.9h-.9zM371.4 410.8h.9v.9h-.9zM371.2 410.8h.9v.9h-.9zM373.2 411.4h.9v.9h-.9zM344.3 413.7h.9v.9h-.9zM381.2 414.1h.9v.9h-.9zM347.0 411.1h.9v.9h-.9zM381.5 409.3h.9v.9h-.9zM362.3 406.3h.9v.9h-.9zM345.3 411.4h.9v.9h-.9zM375.3 408.4h.9v.9h-.9zM379.0 412.1h.9v.9h-.9zM381.4 411.2h.9v.9h-.9zM375.8 406.9h.9v.9h-.9zM374.8 409.8h.9v.9h-.9zM363.0 412.0h.9v.9h-.9zM367.6 404.3h.9v.9h-.9zM351.5 412.1h.9v.9h-.9zM383.7 408.7h.9v.9h-.9zM344.0 413.7h.9v.9h-.9zM346.7 410.0h.9v.9h-.9zM357.4 409.3h.9v.9h-.9zM360.6 408.5h.9v.9h-.9zM345.3 413.4h.9v.9h-.9zM347.0 406.6h.9v.9h-.9zM341.1 413.3h.9v.9h-.9zM383.6 413.9h.9v.9h-.9zM352.0 412.9h.9v.9h-.9zM344.1 409.9h.9v.9h-.9zM352.1 412.5h.9v.9h-.9zM366.7 404.4h.9v.9h-.9zM381.6 413.8h.9v.9h-.9zM364.3 412.0h.9v.9h-.9zM368.6 412.2h.9v.9h-.9zM372.1 403.4h.9v.9h-.9zM356.9 410.4h.9v.9h-.9zM364.2 405.2h.9v.9h-.9zM385.1 413.2h.9v.9h-.9zM354.1 409.2h.9v.9h-.9zM369.5 408.9h.9v.9h-.9zM351.0 408.8h.9v.9h-.9zM345.1 413.9h.9v.9h-.9zM358.1 411.7h.9v.9h-.9zM365.5 408.9h.9v.9h-.9zM349.6 411.6h.9v.9h-.9zM387.0 415.4h.9v.9h-.9zM348.8 404.4h.9v.9h-.9zM384.8 412.2h.9v.9h-.9zM353.1 407.8h.9v.9h-.9zM374.6 408.8h.9v.9h-.9zM356.8 407.5h.9v.9h-.9zM345.6 413.7h.9v.9h-.9zM348.1 411.8h.9v.9h-.9zM380.4 409.8h.9v.9h-.9zM352.3 411.2h.9v.9h-.9zM380.8 409.8h.9v.9h-.9zM339.8 414.9h.9v.9h-.9zM359.7 408.4h.9v.9h-.9zM372.0 407.9h.9v.9h-.9zM365.3 410.5h.9v.9h-.9zM351.2 411.6h.9v.9h-.9zM376.1 406.0h.9v.9h-.9zM360.8 403.5h.9v.9h-.9zM342.6 409.0h.9v.9h-.9zM360.7 402.2h.9v.9h-.9zM373.4 406.9h.9v.9h-.9zM359.0 410.2h.9v.9h-.9zM378.5 409.8h.9v.9h-.9zM383.7 408.0h.9v.9h-.9zM350.1 396.3h.9v.9h-.9zM344.8 412.4h.9v.9h-.9zM376.4 394.4h.9v.9h-.9zM364.1 401.0h.9v.9h-.9zM371.0 403.8h.9v.9h-.9zM370.6 401.0h.9v.9h-.9zM376.2 407.3h.9v.9h-.9zM381.5 397.3h.9v.9h-.9zM351.6 400.5h.9v.9h-.9zM351.0 406.7h.9v.9h-.9zM346.0 412.6h.9v.9h-.9zM373.1 398.0h.9v.9h-.9zM383.4 409.1h.9v.9h-.9zM371.3 398.5h.9v.9h-.9zM381.8 401.3h.9v.9h-.9zM355.6 396.4h.9v.9h-.9zM383.9 413.9h.9v.9h-.9zM374.3 413.5h.9v.9h-.9zM371.3 412.2h.9v.9h-.9zM360.5 392.1h.9v.9h-.9zM378.9 406.0h.9v.9h-.9zM348.6 406.1h.9v.9h-.9zM378.8 409.5h.9v.9h-.9zM362.7 403.9h.9v.9h-.9zM358.2 404.0h.9v.9h-.9zM370.6 402.4h.9v.9h-.9zM360.0 397.7h.9v.9h-.9zM384.1 411.4h.9v.9h-.9zM359.5 392.2h.9v.9h-.9zM386.0 405.0h.9v.9h-.9zM369.5 413.0h.9v.9h-.9zM370.1 404.1h.9v.9h-.9zM346.9 402.5h.9v.9h-.9zM351.6 410.1h.9v.9h-.9zM365.6 401.1h.9v.9h-.9zM371.0 408.9h.9v.9h-.9zM385.7 410.8h.9v.9h-.9zM347.1 409.2h.9v.9h-.9zM372.5 410.6h.9v.9h-.9zM368.8 412.4h.9v.9h-.9zM367.5 398.8h.9v.9h-.9zM378.5 409.6h.9v.9h-.9zM375.5 400.6h.9v.9h-.9zM381.2 408.4h.9v.9h-.9zM345.4 408.3h.9v.9h-.9zM369.8 398.6h.9v.9h-.9zM354.4 392.6h.9v.9h-.9zM358.9 412.4h.9v.9h-.9zM370.2 409.3h.9v.9h-.9zM366.2 410.2h.9v.9h-.9zM347.6 396.1h.9v.9h-.9zM351.8 406.7h.9v.9h-.9zM375.3 397.0h.9v.9h-.9zM356.8 410.2h.9v.9h-.9zM355.6 411.8h.9v.9h-.9zM381.2 404.1h.9v.9h-.9zM371.4 406.9h.9v.9h-.9zM351.4 410.7h.9v.9h-.9zM350.8 403.2h.9v.9h-.9zM368.4 407.2h.9v.9h-.9zM368.4 407.6h.9v.9h-.9zM366.6 408.6h.9v.9h-.9zM364.5 412.1h.9v.9h-.9zM358.9 408.4h.9v.9h-.9zM371.6 410.8h.9v.9h-.9zM346.1 397.3h.9v.9h-.9zM356.7 389.0h.9v.9h-.9zM376.1 402.2h.9v.9h-.9zM367.0 396.3h.9v.9h-.9zM368.8 412.0h.9v.9h-.9zM378.2 412.6h.9v.9h-.9zM381.4 404.2h.9v.9h-.9zM356.1 405.9h.9v.9h-.9zM365.5 409.8h.9v.9h-.9zM354.5 409.0h.9v.9h-.9zM371.4 404.0h.9v.9h-.9zM357.4 410.6h.9v.9h-.9zM374.4 413.2h.9v.9h-.9zM386.2 414.0h.9v.9h-.9zM367.4 397.8h.9v.9h-.9zM351.0 409.3h.9v.9h-.9zM379.4 410.4h.9v.9h-.9zM372.2 402.2h.9v.9h-.9zM381.8 410.5h.9v.9h-.9zM345.9 410.5h.9v.9h-.9zM365.8 401.1h.9v.9h-.9zM362.1 406.3h.9v.9h-.9zM379.2 413.1h.9v.9h-.9zM358.1 407.2h.9v.9h-.9zM359.2 388.3h.9v.9h-.9zM381.5 414.3h.9v.9h-.9zM349.8 409.7h.9v.9h-.9zM358.5 406.6h.9v.9h-.9zM378.2 412.0h.9v.9h-.9zM353.9 406.4h.9v.9h-.9zM370.9 390.1h.9v.9h-.9zM346.1 410.5h.9v.9h-.9zM346.9 408.4h.9v.9h-.9zM351.1 411.8h.9v.9h-.9zM371.9 411.1h.9v.9h-.9zM345.5 403.7h.9v.9h-.9zM360.4 401.9h.9v.9h-.9zM355.9 393.3h.9v.9h-.9zM376.6 408.5h.9v.9h-.9zM373.2 409.5h.9v.9h-.9zM385.9 414.8h.9v.9h-.9zM346.6 404.5h.9v.9h-.9zM344.9 409.3h.9v.9h-.9zM377.6 404.2h.9v.9h-.9zM349.9 406.6h.9v.9h-.9zM361.7 394.5h.9v.9h-.9zM373.2 405.4h.9v.9h-.9zM353.3 402.8h.9v.9h-.9zM378.8 411.8h.9v.9h-.9zM345.9 412.8h.9v.9h-.9zM352.9 403.3h.9v.9h-.9zM368.7 410.8h.9v.9h-.9zM374.0 408.1h.9v.9h-.9zM355.5 412.1h.9v.9h-.9zM350.8 405.9h.9v.9h-.9zM349.1 411.9h.9v.9h-.9zM378.3 413.0h.9v.9h-.9zM357.7 406.4h.9v.9h-.9zM377.2 407.8h.9v.9h-.9zM382.1 413.4h.9v.9h-.9zM358.6 388.8h.9v.9h-.9zM358.4 412.8h.9v.9h-.9zM371.0 411.2h.9v.9h-.9zM371.2 411.5h.9v.9h-.9zM348.4 393.9h.9v.9h-.9zM353.2 392.3h.9v.9h-.9zM371.9 409.1h.9v.9h-.9zM368.0 398.3h.9v.9h-.9zM348.6 406.3h.9v.9h-.9zM375.0 409.5h.9v.9h-.9zM375.7 411.9h.9v.9h-.9zM341.9 414.5h.9v.9h-.9zM375.3 402.5h.9v.9h-.9zM382.1 410.5h.9v.9h-.9zM384.5 412.4h.9v.9h-.9zM377.9 409.8h.9v.9h-.9zM347.4 402.2h.9v.9h-.9zM358.1 402.4h.9v.9h-.9zM377.3 394.0h.9v.9h-.9zM344.8 414.3h.9v.9h-.9zM369.8 411.3h.9v.9h-.9zM347.3 407.0h.9v.9h-.9zM359.7 410.8h.9v.9h-.9zM386.0 412.2h.9v.9h-.9zM368.6 404.7h.9v.9h-.9zM346.7 407.8h.9v.9h-.9zM359.2 405.3h.9v.9h-.9zM372.9 411.0h.9v.9h-.9zM345.5 414.3h.9v.9h-.9zM381.1 411.4h.9v.9h-.9zM347.2 407.1h.9v.9h-.9zM361.5 404.2h.9v.9h-.9zM372.0 409.8h.9v.9h-.9zM356.8 412.2h.9v.9h-.9zM377.2 409.1h.9v.9h-.9zM354.7 408.5h.9v.9h-.9zM371.0 410.3h.9v.9h-.9zM385.9 403.3h.9v.9h-.9zM383.9 408.0h.9v.9h-.9zM358.9 406.8h.9v.9h-.9zM373.4 407.8h.9v.9h-.9zM368.9 392.3h.9v.9h-.9zM358.9 393.0h.9v.9h-.9zM368.3 400.7h.9v.9h-.9zM356.8 411.6h.9v.9h-.9zM378.0 396.2h.9v.9h-.9zM365.3 396.0h.9v.9h-.9zM346.0 412.2h.9v.9h-.9zM351.8 401.5h.9v.9h-.9zM355.9 396.4h.9v.9h-.9zM379.8 409.3h.9v.9h-.9zM386.2 411.6h.9v.9h-.9zM369.4 409.4h.9v.9h-.9zM347.4 407.0h.9v.9h-.9zM368.6 397.1h.9v.9h-.9zM371.0 407.4h.9v.9h-.9zM359.0 408.0h.9v.9h-.9zM346.4 412.8h.9v.9h-.9zM343.5 407.0h.9v.9h-.9zM340.5 411.9h.9v.9h-.9zM354.9 393.7h.9v.9h-.9zM380.7 397.5h.9v.9h-.9zM353.7 408.2h.9v.9h-.9zM374.4 412.8h.9v.9h-.9zM368.6 410.3h.9v.9h-.9zM363.6 391.0h.9v.9h-.9zM367.1 404.2h.9v.9h-.9zM380.0 405.7h.9v.9h-.9zM348.0 412.3h.9v.9h-.9zM384.6 412.0h.9v.9h-.9zM350.2 410.4h.9v.9h-.9zM361.4 409.0h.9v.9h-.9zM386.7 405.7h.9v.9h-.9zM381.5 412.7h.9v.9h-.9zM346.5 413.2h.9v.9h-.9zM345.3 403.7h.9v.9h-.9zM353.7 407.2h.9v.9h-.9zM377.2 412.6h.9v.9h-.9zM345.5 399.8h.9v.9h-.9zM364.7 410.5h.9v.9h-.9zM366.4 408.6h.9v.9h-.9zM386.7 414.5h.9v.9h-.9zM355.0 408.2h.9v.9h-.9zM345.5 411.2h.9v.9h-.9zM350.9 412.9h.9v.9h-.9zM346.9 401.7h.9v.9h-.9zM354.2 409.5h.9v.9h-.9zM376.0 409.2h.9v.9h-.9zM369.4 412.1h.9v.9h-.9zM386.7 411.1h.9v.9h-.9zM374.5 395.8h.9v.9h-.9zM368.6 408.2h.9v.9h-.9zM347.0 410.1h.9v.9h-.9zM367.1 406.0h.9v.9h-.9zM358.5 407.6h.9v.9h-.9zM356.2 412.4h.9v.9h-.9zM362.0 390.2h.9v.9h-.9zM348.0 412.6h.9v.9h-.9zM345.5 414.0h.9v.9h-.9zM371.6 409.7h.9v.9h-.9zM356.7 391.2h.9v.9h-.9zM360.4 402.9h.9v.9h-.9zM368.4 409.7h.9v.9h-.9zM349.3 407.8h.9v.9h-.9zM372.8 409.7h.9v.9h-.9zM378.1 402.6h.9v.9h-.9zM385.1 412.5h.9v.9h-.9zM379.5 407.7h.9v.9h-.9zM377.6 396.8h.9v.9h-.9zM350.1 400.3h.9v.9h-.9zM370.0 411.2h.9v.9h-.9zM376.6 399.0h.9v.9h-.9zM380.0 398.9h.9v.9h-.9zM364.0 407.6h.9v.9h-.9zM348.2 413.9h.9v.9h-.9zM352.6 408.8h.9v.9h-.9zM378.2 406.8h.9v.9h-.9zM347.0 413.1h.9v.9h-.9zM355.4 409.7h.9v.9h-.9zM343.9 402.9h.9v.9h-.9zM351.7 405.3h.9v.9h-.9zM384.1 398.3h.9v.9h-.9zM380.7 403.0h.9v.9h-.9zM378.4 408.4h.9v.9h-.9zM378.6 407.4h.9v.9h-.9zM374.3 411.0h.9v.9h-.9zM350.1 406.5h.9v.9h-.9zM378.6 394.1h.9v.9h-.9zM363.2 411.3h.9v.9h-.9zM379.3 410.5h.9v.9h-.9zM371.6 391.2h.9v.9h-.9zM356.8 406.4h.9v.9h-.9zM384.7 414.1h.9v.9h-.9zM356.3 406.2h.9v.9h-.9zM385.3 413.4h.9v.9h-.9zM365.3 408.8h.9v.9h-.9zM346.8 408.4h.9v.9h-.9zM364.3 408.6h.9v.9h-.9zM360.5 400.3h.9v.9h-.9zM357.2 409.1h.9v.9h-.9zM386.0 415.3h.9v.9h-.9zM385.1 400.7h.9v.9h-.9zM365.0 410.3h.9v.9h-.9zM371.9 406.2h.9v.9h-.9zM357.1 395.0h.9v.9h-.9zM369.0 411.8h.9v.9h-.9zM360.1 406.9h.9v.9h-.9zM371.3 402.5h.9v.9h-.9zM348.8 406.8h.9v.9h-.9zM367.9 402.7h.9v.9h-.9zM372.5 389.5h.9v.9h-.9zM348.8 413.1h.9v.9h-.9zM349.7 413.3h.9v.9h-.9zM355.9 406.4h.9v.9h-.9zM355.2 404.7h.9v.9h-.9zM362.6 412.0h.9v.9h-.9zM373.0 411.4h.9v.9h-.9zM375.8 412.8h.9v.9h-.9zM347.6 408.6h.9v.9h-.9zM348.1 411.0h.9v.9h-.9zM386.1 414.0h.9v.9h-.9zM364.9 396.5h.9v.9h-.9zM383.7 396.6h.9v.9h-.9zM374.3 408.9h.9v.9h-.9z" fill="#161616"/>
<path d="M370.2 430.7h1v.9h-1zM355.1 430.7h1v.9h-1zM355.4 433.4h1v.9h-1zM354.2 431.2h1v.9h-1zM360.4 431.2h1v.9h-1zM367.8 433.4h1v.9h-1zM376.2 433.2h1v.9h-1zM375.7 431.1h1v.9h-1zM366.1 433.4h1v.9h-1zM355.1 433.1h1v.9h-1zM357.8 431.6h1v.9h-1zM358.0 432.7h1v.9h-1zM355.2 431.3h1v.9h-1zM361.2 433.4h1v.9h-1zM370.5 431.9h1v.9h-1zM365.0 431.6h1v.9h-1zM360.8 431.4h1v.9h-1zM372.4 432.6h1v.9h-1zM371.2 433.0h1v.9h-1zM366.1 432.1h1v.9h-1zM354.4 432.2h1v.9h-1zM372.4 430.7h1v.9h-1zM377.0 432.7h1v.9h-1zM367.3 433.3h1v.9h-1zM376.5 433.4h1v.9h-1zM368.4 432.6h1v.9h-1zM372.4 430.9h1v.9h-1zM375.3 430.7h1v.9h-1zM374.8 433.4h1v.9h-1zM355.6 432.5h1v.9h-1zM369.0 431.2h1v.9h-1zM372.7 431.6h1v.9h-1zM364.4 433.2h1v.9h-1zM358.3 431.6h1v.9h-1zM360.7 433.4h1v.9h-1zM369.2 432.2h1v.9h-1zM369.4 432.5h1v.9h-1zM358.7 430.7h1v.9h-1zM365.1 432.3h1v.9h-1zM368.8 433.4h1v.9h-1z" fill="#fff"/>
<rect x="331.80" y="427.80" width="16.20" height="6.30" fill="#cbcbcb" stroke="#999" stroke-width="0.4"/>
<rect x="382.10" y="427.80" width="14.10" height="6.30" fill="#ececec" stroke="#aaa" stroke-width="0.4"/>
<text x="332.40" y="374.70" font-size="5.7" text-anchor="start" fill="#6a6a6a">0.32</text>
<text x="395.00" y="374.70" font-size="5.7" text-anchor="end" fill="#6a6a6a">0.65</text>
<text x="332.60" y="433.00" font-size="5.7" text-anchor="start" fill="#5c5c5c">67.22</text>
<text x="395.60" y="433.00" font-size="5.7" text-anchor="end" fill="#5c5c5c">31.8</text>
<rect x="331.4" y="369.6" width="65.20" height="64.70" fill="none" stroke="#bcbcbc" stroke-width="0.7"/>
</g>
<g>
<rect x="431.4" y="369.6" width="65.20" height="64.70" fill="#fff" stroke="#bcbcbc" stroke-width="0.7"/>
<path d="M457.3 369.6 V434.3 M431.4 412.6 H496.6" stroke="#c8c8c8" stroke-width="0.7" fill="none"/>
<path d="M447.70 434.3 v-1.6 M431.4 418.12 h1.6 M464.00 434.3 v-1.6 M431.4 401.95 h1.6 M480.30 434.3 v-1.6 M431.4 385.78 h1.6" stroke="#999" stroke-width="0.6" fill="none"/>
<text x="429.00" y="439.10" font-size="3.3" fill="#b8b8b8">10<tspan dy="-1.3" font-size="2.3">0</tspan></text>
<text x="424.80" y="435.30" font-size="3.3" fill="#b8b8b8">10<tspan dy="-1.3" font-size="2.3">0</tspan></text>
<text x="445.30" y="439.10" font-size="3.3" fill="#b8b8b8">10<tspan dy="-1.3" font-size="2.3">1</tspan></text>
<text x="424.80" y="419.12" font-size="3.3" fill="#b8b8b8">10<tspan dy="-1.3" font-size="2.3">1</tspan></text>
<text x="461.60" y="439.10" font-size="3.3" fill="#b8b8b8">10<tspan dy="-1.3" font-size="2.3">2</tspan></text>
<text x="424.80" y="402.95" font-size="3.3" fill="#b8b8b8">10<tspan dy="-1.3" font-size="2.3">2</tspan></text>
<text x="477.90" y="439.10" font-size="3.3" fill="#b8b8b8">10<tspan dy="-1.3" font-size="2.3">3</tspan></text>
<text x="424.80" y="386.78" font-size="3.3" fill="#b8b8b8">10<tspan dy="-1.3" font-size="2.3">3</tspan></text>
<text x="464.00" y="444.50" font-size="2.9" text-anchor="middle" fill="#999">FL1-H</text>
<text transform="translate(418.80 402.95) rotate(-90)" font-size="2.9" text-anchor="middle" fill="#999">FL2-H</text>
<path d="M431.8 418.8 L432.3 418.8 L432.8 418.0 L433.3 418.4 L433.8 417.6 L434.3 417.6 L434.8 416.9 L435.3 417.1 L435.8 416.5 L436.3 416.6 L436.8 416.7 L437.3 416.6 L437.8 416.2 L438.3 416.3 L438.8 416.4 L439.2 415.4 L439.7 415.2 L440.2 415.5 L440.7 415.3 L441.2 414.8 L441.7 414.3 L442.2 414.7 L442.7 414.0 L443.2 414.3 L443.7 414.5 L444.2 413.9 L444.7 413.6 L445.2 413.4 L445.7 413.5 L446.2 413.3 L446.7 413.7 L447.2 413.9 L447.7 413.2 L448.2 413.4 L448.7 412.5 L449.2 412.0 L449.7 412.2 L450.2 412.4 L450.7 412.5 L451.2 412.6 L451.7 412.5 L452.2 411.7 L452.7 411.8 L453.2 411.9 L453.7 411.1 L454.1 411.0 L454.6 410.6 L455.1 410.4 L455.6 410.6 L456.1 411.0 L456.6 411.6 L457.1 411.0 L457.6 411.2 L458.1 411.8 L458.6 412.0 L459.1 411.9 L459.6 411.7 L460.1 412.0 L460.6 411.9 L461.1 412.3 L461.6 412.6 L462.1 412.6 L462.6 413.1 L463.1 413.0 L463.6 413.1 L464.1 413.7 L464.6 413.4 L465.1 413.2 L465.6 413.6 L466.1 413.7 L466.6 414.3 L467.1 413.9 L467.6 413.9 L468.1 413.6 L468.5 413.9 L469.0 413.9 L469.5 414.1 L470.0 414.5 L470.5 414.0 L471.0 414.8 L471.5 414.9 L472.0 415.1 L472.5 414.9 L473.0 414.8 L473.5 414.6 L474.0 414.5 L474.5 414.2 L475.0 414.2 L475.5 414.1 L476.0 414.2 L476.5 414.8 L477.0 415.0 L477.5 415.0 L478.0 414.3 L478.5 414.2 L479.0 414.4 L479.5 414.7 L480.0 414.6 L480.5 414.7 L481.0 415.1 L481.5 414.6 L482.0 414.5 L482.5 414.8 L483.0 414.5 L483.4 414.8 L483.9 414.6 L484.4 414.2 L484.9 414.6 L485.4 414.5 L485.9 415.5 L486.4 416.2 L486.9 416.5 L487.4 417.2 L487.9 417.1 L488.4 417.9 L488.9 418.9 L489.4 419.9 L489.9 421.6 L490.4 422.3 L490.4 423.3 L489.9 423.9 L489.4 424.3 L488.9 425.1 L488.4 425.8 L487.9 426.2 L487.4 426.3 L486.9 426.4 L486.4 426.4 L485.9 426.5 L485.4 426.6 L484.9 426.6 L484.4 426.6 L483.9 426.7 L483.4 426.7 L483.0 426.7 L482.5 426.8 L482.0 426.8 L481.5 426.8 L481.0 426.8 L480.5 434.0 L480.0 434.0 L479.5 434.0 L479.0 434.0 L478.5 434.0 L478.0 434.0 L477.5 434.0 L477.0 434.0 L476.5 434.0 L476.0 434.0 L475.5 434.0 L475.0 434.0 L474.5 434.0 L474.0 434.0 L473.5 434.0 L473.0 434.0 L472.5 434.0 L472.0 434.0 L471.5 434.0 L471.0 434.0 L470.5 434.0 L470.0 434.0 L469.5 434.0 L469.0 434.0 L468.5 434.0 L468.1 434.0 L467.6 434.0 L467.1 434.0 L466.6 434.0 L466.1 434.0 L465.6 434.0 L465.1 434.0 L464.6 434.0 L464.1 434.0 L463.6 434.0 L463.1 434.0 L462.6 434.0 L462.1 434.0 L461.6 434.0 L461.1 434.0 L460.6 434.0 L460.1 434.0 L459.6 434.0 L459.1 434.0 L458.6 434.0 L458.1 434.0 L457.6 434.0 L457.1 434.0 L456.6 434.0 L456.1 434.0 L455.6 434.0 L455.1 434.0 L454.6 434.0 L454.1 434.0 L453.7 434.0 L453.2 434.0 L452.7 434.0 L452.2 434.0 L451.7 434.0 L451.2 434.0 L450.7 434.0 L450.2 434.0 L449.7 434.0 L449.2 434.0 L448.7 434.0 L448.2 434.0 L447.7 434.0 L447.2 427.0 L446.7 427.0 L446.2 427.0 L445.7 427.0 L445.2 427.0 L444.7 427.0 L444.2 427.0 L443.7 427.0 L443.2 427.0 L442.7 427.0 L442.2 427.0 L441.7 427.0 L441.2 427.0 L440.7 427.0 L440.2 427.0 L439.7 427.0 L439.2 427.0 L438.8 427.0 L438.3 427.0 L437.8 427.0 L437.3 427.0 L436.8 427.0 L436.3 427.0 L435.8 427.0 L435.3 427.0 L434.8 427.0 L434.3 427.0 L433.8 427.0 L433.3 427.0 L432.8 427.0 L432.3 427.0 L431.8 427.0Z" fill="#060606"/>
<path d="M457.3 416.1 V433.3" stroke="#5a5a5a" stroke-width="0.6" fill="none"/>
<path d="M487.5 416.5h.9v.9h-.9zM473.7 414.6h.9v.9h-.9zM485.9 414.0h.9v.9h-.9zM438.5 416.2h.9v.9h-.9zM440.7 414.7h.9v.9h-.9zM437.0 415.2h.9v.9h-.9zM461.7 411.5h.9v.9h-.9zM447.4 412.9h.9v.9h-.9zM459.2 411.0h.9v.9h-.9zM456.6 407.5h.9v.9h-.9zM482.3 413.2h.9v.9h-.9zM452.5 411.6h.9v.9h-.9zM441.4 414.7h.9v.9h-.9zM489.5 419.6h.9v.9h-.9zM483.8 414.4h.9v.9h-.9zM469.0 413.6h.9v.9h-.9zM450.5 411.2h.9v.9h-.9zM468.3 411.0h.9v.9h-.9zM446.4 413.0h.9v.9h-.9zM436.1 416.4h.9v.9h-.9zM490.3 421.6h.9v.9h-.9zM460.5 411.5h.9v.9h-.9zM477.2 414.0h.9v.9h-.9zM441.6 414.3h.9v.9h-.9zM442.6 412.5h.9v.9h-.9zM475.6 413.9h.9v.9h-.9zM446.2 413.0h.9v.9h-.9zM472.5 413.6h.9v.9h-.9zM446.5 413.3h.9v.9h-.9zM446.4 410.7h.9v.9h-.9zM465.0 410.7h.9v.9h-.9zM446.7 412.8h.9v.9h-.9zM466.0 411.3h.9v.9h-.9zM453.9 410.8h.9v.9h-.9zM480.6 412.0h.9v.9h-.9zM462.4 412.8h.9v.9h-.9zM437.4 416.1h.9v.9h-.9zM487.0 416.1h.9v.9h-.9zM458.9 411.2h.9v.9h-.9zM446.4 413.2h.9v.9h-.9zM463.0 410.0h.9v.9h-.9zM483.8 414.3h.9v.9h-.9zM478.7 412.6h.9v.9h-.9zM466.8 413.5h.9v.9h-.9zM444.0 413.5h.9v.9h-.9zM472.9 414.6h.9v.9h-.9zM440.7 415.2h.9v.9h-.9zM481.3 412.7h.9v.9h-.9zM462.9 412.2h.9v.9h-.9zM474.1 414.3h.9v.9h-.9zM463.1 412.5h.9v.9h-.9zM483.7 414.4h.9v.9h-.9zM482.4 414.7h.9v.9h-.9zM468.4 411.9h.9v.9h-.9zM436.9 416.1h.9v.9h-.9zM432.7 417.4h.9v.9h-.9zM461.1 409.4h.9v.9h-.9zM461.1 410.1h.9v.9h-.9zM475.4 412.5h.9v.9h-.9zM453.1 411.9h.9v.9h-.9zM470.0 414.4h.9v.9h-.9zM469.3 413.9h.9v.9h-.9zM468.1 412.3h.9v.9h-.9zM489.1 418.7h.9v.9h-.9zM442.7 413.5h.9v.9h-.9zM489.9 421.3h.9v.9h-.9zM460.4 411.4h.9v.9h-.9zM436.1 415.9h.9v.9h-.9zM450.5 411.9h.9v.9h-.9zM476.0 413.2h.9v.9h-.9zM446.8 412.7h.9v.9h-.9zM464.1 412.4h.9v.9h-.9zM432.6 417.7h.9v.9h-.9zM472.1 414.3h.9v.9h-.9zM462.2 411.9h.9v.9h-.9zM468.8 412.7h.9v.9h-.9zM481.7 413.3h.9v.9h-.9zM485.9 414.7h.9v.9h-.9zM442.5 413.6h.9v.9h-.9zM483.3 413.5h.9v.9h-.9zM469.0 413.8h.9v.9h-.9zM441.9 413.4h.9v.9h-.9zM457.3 410.8h.9v.9h-.9zM489.7 421.3h.9v.9h-.9zM487.1 415.6h.9v.9h-.9zM488.8 417.5h.9v.9h-.9zM444.3 413.6h.9v.9h-.9zM483.3 414.3h.9v.9h-.9zM462.1 411.4h.9v.9h-.9zM468.0 412.5h.9v.9h-.9zM463.2 412.8h.9v.9h-.9zM475.0 414.0h.9v.9h-.9zM475.1 412.7h.9v.9h-.9zM440.8 415.3h.9v.9h-.9zM486.3 416.0h.9v.9h-.9zM463.9 413.4h.9v.9h-.9zM440.5 415.2h.9v.9h-.9zM436.7 415.0h.9v.9h-.9zM477.8 412.9h.9v.9h-.9zM441.1 414.5h.9v.9h-.9zM438.1 414.6h.9v.9h-.9zM489.9 418.9h.9v.9h-.9zM482.1 413.6h.9v.9h-.9zM461.8 412.5h.9v.9h-.9zM434.3 416.7h.9v.9h-.9zM489.1 415.3h.9v.9h-.9zM457.0 410.3h.9v.9h-.9zM484.4 413.9h.9v.9h-.9zM475.7 413.3h.9v.9h-.9zM458.0 411.4h.9v.9h-.9zM441.8 414.2h.9v.9h-.9zM449.9 408.4h.9v.9h-.9zM480.7 414.7h.9v.9h-.9zM477.0 414.9h.9v.9h-.9zM466.4 412.0h.9v.9h-.9zM485.8 413.5h.9v.9h-.9zM491.0 421.4h.9v.9h-.9zM434.2 417.3h.9v.9h-.9zM471.9 414.3h.9v.9h-.9zM486.2 416.0h.9v.9h-.9zM484.7 413.8h.9v.9h-.9zM467.4 413.8h.9v.9h-.9zM453.4 411.3h.9v.9h-.9zM476.9 414.0h.9v.9h-.9zM470.2 413.4h.9v.9h-.9zM453.2 411.6h.9v.9h-.9zM490.1 420.6h.9v.9h-.9zM465.4 410.5h.9v.9h-.9zM483.5 413.7h.9v.9h-.9zM490.1 421.1h.9v.9h-.9zM487.0 415.7h.9v.9h-.9zM457.5 410.7h.9v.9h-.9zM435.3 415.1h.9v.9h-.9zM489.8 421.1h.9v.9h-.9zM488.3 417.7h.9v.9h-.9zM459.6 407.2h.9v.9h-.9zM469.7 413.9h.9v.9h-.9zM469.8 414.5h.9v.9h-.9zM475.0 413.4h.9v.9h-.9zM470.4 413.0h.9v.9h-.9zM438.1 414.4h.9v.9h-.9zM477.5 413.0h.9v.9h-.9zM446.0 413.1h.9v.9h-.9zM475.0 411.9h.9v.9h-.9zM466.0 413.4h.9v.9h-.9zM458.4 411.8h.9v.9h-.9zM460.9 409.4h.9v.9h-.9zM472.4 414.7h.9v.9h-.9zM486.4 414.3h.9v.9h-.9zM456.2 411.0h.9v.9h-.9zM471.8 414.5h.9v.9h-.9zM439.9 413.1h.9v.9h-.9zM456.0 410.8h.9v.9h-.9zM449.1 407.1h.9v.9h-.9zM453.1 411.4h.9v.9h-.9zM447.2 413.8h.9v.9h-.9zM440.2 415.4h.9v.9h-.9zM459.3 411.4h.9v.9h-.9zM473.9 412.9h.9v.9h-.9zM484.0 414.5h.9v.9h-.9zM465.3 413.4h.9v.9h-.9zM449.9 411.8h.9v.9h-.9zM455.6 409.0h.9v.9h-.9zM457.5 411.0h.9v.9h-.9zM467.8 413.3h.9v.9h-.9zM485.8 415.4h.9v.9h-.9zM441.6 414.3h.9v.9h-.9zM449.9 410.9h.9v.9h-.9zM437.1 415.8h.9v.9h-.9zM485.3 414.3h.9v.9h-.9zM476.3 413.6h.9v.9h-.9zM489.2 418.2h.9v.9h-.9zM469.5 413.6h.9v.9h-.9zM454.1 410.9h.9v.9h-.9zM435.5 415.5h.9v.9h-.9zM449.1 411.8h.9v.9h-.9zM460.6 411.7h.9v.9h-.9zM469.9 411.8h.9v.9h-.9zM454.4 411.0h.9v.9h-.9zM442.3 414.4h.9v.9h-.9zM484.8 412.0h.9v.9h-.9zM468.2 413.1h.9v.9h-.9zM438.0 414.6h.9v.9h-.9zM433.8 417.3h.9v.9h-.9zM475.6 413.1h.9v.9h-.9zM443.4 410.2h.9v.9h-.9zM471.0 413.7h.9v.9h-.9zM446.2 411.9h.9v.9h-.9zM433.9 416.8h.9v.9h-.9zM433.6 416.2h.9v.9h-.9zM467.2 413.2h.9v.9h-.9zM454.3 409.7h.9v.9h-.9zM434.4 417.4h.9v.9h-.9zM433.1 417.5h.9v.9h-.9zM436.2 416.6h.9v.9h-.9zM482.8 414.2h.9v.9h-.9zM453.9 409.5h.9v.9h-.9zM454.2 409.4h.9v.9h-.9zM490.8 422.2h.9v.9h-.9zM446.4 413.3h.9v.9h-.9zM448.0 412.6h.9v.9h-.9zM490.3 420.9h.9v.9h-.9zM474.9 414.0h.9v.9h-.9zM487.1 416.0h.9v.9h-.9zM478.2 414.1h.9v.9h-.9zM489.9 421.1h.9v.9h-.9zM449.7 410.4h.9v.9h-.9zM471.7 414.4h.9v.9h-.9zM459.0 410.7h.9v.9h-.9zM454.9 410.0h.9v.9h-.9zM461.7 412.2h.9v.9h-.9zM453.1 411.7h.9v.9h-.9zM479.2 413.4h.9v.9h-.9zM442.6 413.9h.9v.9h-.9zM455.6 409.8h.9v.9h-.9zM462.2 411.7h.9v.9h-.9zM473.8 414.3h.9v.9h-.9zM436.3 415.7h.9v.9h-.9zM464.2 413.3h.9v.9h-.9zM484.7 414.5h.9v.9h-.9zM491.7 421.0h.9v.9h-.9zM491.5 424.2h.9v.9h-.9zM491.5 423.8h.9v.9h-.9zM490.8 421.6h.9v.9h-.9zM489.9 420.2h.9v.9h-.9zM490.1 419.9h.9v.9h-.9zM490.0 425.3h.9v.9h-.9zM490.0 427.8h.9v.9h-.9zM490.7 423.7h.9v.9h-.9zM489.6 427.4h.9v.9h-.9zM492.4 419.0h.9v.9h-.9zM491.3 419.6h.9v.9h-.9zM453.8 410.4h.9v.9h-.9zM440.9 414.1h.9v.9h-.9zM469.4 408.7h.9v.9h-.9zM460.9 411.6h.9v.9h-.9zM484.0 413.8h.9v.9h-.9zM453.6 405.8h.9v.9h-.9zM456.6 407.1h.9v.9h-.9zM473.6 413.3h.9v.9h-.9zM480.5 404.3h.9v.9h-.9zM450.7 411.0h.9v.9h-.9zM465.2 412.8h.9v.9h-.9zM458.3 411.4h.9v.9h-.9zM467.1 402.5h.9v.9h-.9zM467.0 403.6h.9v.9h-.9zM453.7 410.5h.9v.9h-.9zM458.3 410.0h.9v.9h-.9zM474.0 405.4h.9v.9h-.9zM480.8 412.6h.9v.9h-.9zM477.6 406.2h.9v.9h-.9zM464.8 412.9h.9v.9h-.9zM483.7 410.9h.9v.9h-.9zM477.5 414.7h.9v.9h-.9zM466.3 413.6h.9v.9h-.9zM456.4 411.4h.9v.9h-.9zM477.8 405.6h.9v.9h-.9zM483.0 408.3h.9v.9h-.9zM468.3 413.4h.9v.9h-.9zM461.1 408.2h.9v.9h-.9zM453.5 410.7h.9v.9h-.9zM445.6 411.4h.9v.9h-.9zM483.7 411.7h.9v.9h-.9zM477.0 407.3h.9v.9h-.9zM477.0 410.1h.9v.9h-.9zM464.6 412.1h.9v.9h-.9zM446.3 412.4h.9v.9h-.9zM447.7 408.1h.9v.9h-.9zM487.0 412.2h.9v.9h-.9zM472.1 409.6h.9v.9h-.9zM467.5 411.4h.9v.9h-.9zM480.2 414.7h.9v.9h-.9zM458.1 408.2h.9v.9h-.9zM463.6 410.7h.9v.9h-.9zM447.4 411.0h.9v.9h-.9zM483.9 413.8h.9v.9h-.9zM456.9 410.5h.9v.9h-.9zM451.4 407.1h.9v.9h-.9zM454.0 406.3h.9v.9h-.9zM463.5 410.3h.9v.9h-.9zM453.4 409.8h.9v.9h-.9zM464.2 411.7h.9v.9h-.9zM485.8 414.8h.9v.9h-.9zM477.0 407.5h.9v.9h-.9zM476.0 412.0h.9v.9h-.9zM481.0 407.1h.9v.9h-.9zM456.4 406.4h.9v.9h-.9zM452.6 400.6h.9v.9h-.9zM477.9 409.2h.9v.9h-.9zM446.2 412.3h.9v.9h-.9zM473.2 412.1h.9v.9h-.9zM486.3 416.0h.9v.9h-.9zM449.2 411.7h.9v.9h-.9zM453.9 405.7h.9v.9h-.9zM477.9 412.3h.9v.9h-.9zM458.8 406.0h.9v.9h-.9zM447.5 409.8h.9v.9h-.9zM458.7 409.4h.9v.9h-.9zM481.5 408.2h.9v.9h-.9zM475.9 413.4h.9v.9h-.9zM481.6 412.6h.9v.9h-.9zM480.5 413.4h.9v.9h-.9zM457.5 402.4h.9v.9h-.9zM460.0 405.5h.9v.9h-.9zM449.0 409.0h.9v.9h-.9zM483.3 411.3h.9v.9h-.9zM474.6 408.3h.9v.9h-.9zM468.7 413.4h.9v.9h-.9zM447.5 411.3h.9v.9h-.9zM475.5 412.2h.9v.9h-.9zM450.6 409.0h.9v.9h-.9zM464.9 411.0h.9v.9h-.9zM469.6 406.3h.9v.9h-.9zM470.9 413.3h.9v.9h-.9zM466.3 402.3h.9v.9h-.9zM445.1 413.1h.9v.9h-.9zM471.6 414.8h.9v.9h-.9zM477.4 413.5h.9v.9h-.9zM467.1 412.1h.9v.9h-.9zM482.1 412.0h.9v.9h-.9zM454.0 410.0h.9v.9h-.9zM465.9 412.5h.9v.9h-.9zM444.0 411.6h.9v.9h-.9zM484.8 405.6h.9v.9h-.9zM469.5 411.7h.9v.9h-.9zM479.2 413.5h.9v.9h-.9zM484.1 414.6h.9v.9h-.9zM467.9 411.6h.9v.9h-.9zM463.5 409.1h.9v.9h-.9zM476.1 410.5h.9v.9h-.9zM468.5 412.8h.9v.9h-.9zM465.6 411.7h.9v.9h-.9zM479.0 408.9h.9v.9h-.9zM472.0 413.6h.9v.9h-.9zM484.3 405.1h.9v.9h-.9zM479.4 411.4h.9v.9h-.9zM458.1 411.3h.9v.9h-.9zM485.6 413.7h.9v.9h-.9zM453.9 408.5h.9v.9h-.9zM477.3 414.2h.9v.9h-.9zM444.1 412.4h.9v.9h-.9zM462.5 400.0h.9v.9h-.9zM475.7 412.0h.9v.9h-.9zM469.9 409.3h.9v.9h-.9zM457.1 405.8h.9v.9h-.9zM481.5 414.3h.9v.9h-.9zM463.2 410.7h.9v.9h-.9zM468.0 402.9h.9v.9h-.9zM449.3 409.0h.9v.9h-.9zM465.8 406.0h.9v.9h-.9zM480.8 411.5h.9v.9h-.9zM465.4 408.6h.9v.9h-.9zM465.3 406.3h.9v.9h-.9zM451.3 411.2h.9v.9h-.9zM467.0 413.0h.9v.9h-.9zM453.6 406.9h.9v.9h-.9zM462.3 409.7h.9v.9h-.9zM471.0 414.2h.9v.9h-.9zM456.8 411.5h.9v.9h-.9zM456.9 405.4h.9v.9h-.9zM457.9 403.8h.9v.9h-.9zM468.7 413.5h.9v.9h-.9zM468.2 402.5h.9v.9h-.9zM449.6 408.8h.9v.9h-.9zM456.2 408.9h.9v.9h-.9zM471.6 414.0h.9v.9h-.9zM465.8 413.3h.9v.9h-.9zM473.9 410.7h.9v.9h-.9zM456.4 408.7h.9v.9h-.9zM453.1 410.6h.9v.9h-.9zM451.3 408.7h.9v.9h-.9zM463.4 401.7h.9v.9h-.9zM480.8 414.5h.9v.9h-.9zM455.5 410.6h.9v.9h-.9zM450.6 408.7h.9v.9h-.9zM482.0 406.7h.9v.9h-.9zM447.9 409.0h.9v.9h-.9zM459.5 411.1h.9v.9h-.9zM471.0 410.0h.9v.9h-.9zM460.1 409.6h.9v.9h-.9zM482.7 410.6h.9v.9h-.9zM445.3 413.4h.9v.9h-.9zM472.9 406.1h.9v.9h-.9zM476.0 404.3h.9v.9h-.9zM456.5 400.6h.9v.9h-.9zM449.1 404.8h.9v.9h-.9zM449.9 410.4h.9v.9h-.9zM483.3 411.7h.9v.9h-.9zM466.7 403.3h.9v.9h-.9zM471.4 413.7h.9v.9h-.9zM460.9 409.8h.9v.9h-.9zM441.1 414.3h.9v.9h-.9zM451.2 410.3h.9v.9h-.9zM461.8 411.0h.9v.9h-.9zM465.3 407.0h.9v.9h-.9zM478.9 414.2h.9v.9h-.9zM464.6 411.1h.9v.9h-.9zM467.1 412.8h.9v.9h-.9zM455.3 407.2h.9v.9h-.9zM452.4 408.2h.9v.9h-.9zM462.6 404.3h.9v.9h-.9zM472.2 404.2h.9v.9h-.9zM473.3 413.4h.9v.9h-.9zM455.8 409.7h.9v.9h-.9zM465.6 413.1h.9v.9h-.9zM448.8 410.7h.9v.9h-.9zM452.1 408.2h.9v.9h-.9zM468.4 404.3h.9v.9h-.9zM448.8 410.7h.9v.9h-.9zM445.1 413.1h.9v.9h-.9zM445.8 409.3h.9v.9h-.9zM452.4 407.3h.9v.9h-.9zM472.6 405.6h.9v.9h-.9zM466.2 411.7h.9v.9h-.9zM484.8 411.6h.9v.9h-.9zM482.2 412.5h.9v.9h-.9zM457.4 403.7h.9v.9h-.9zM460.5 400.5h.9v.9h-.9zM465.4 413.2h.9v.9h-.9zM484.4 410.8h.9v.9h-.9zM475.1 409.3h.9v.9h-.9zM453.2 409.5h.9v.9h-.9zM450.1 410.0h.9v.9h-.9zM488.1 415.8h.9v.9h-.9zM462.6 409.5h.9v.9h-.9zM461.9 411.7h.9v.9h-.9zM446.9 412.2h.9v.9h-.9zM471.5 411.4h.9v.9h-.9zM479.5 414.5h.9v.9h-.9zM466.5 412.0h.9v.9h-.9zM473.2 414.6h.9v.9h-.9zM453.1 406.6h.9v.9h-.9zM454.5 402.6h.9v.9h-.9zM469.7 411.1h.9v.9h-.9zM475.9 412.3h.9v.9h-.9zM450.7 404.6h.9v.9h-.9zM467.0 413.1h.9v.9h-.9zM463.1 413.0h.9v.9h-.9zM448.6 405.8h.9v.9h-.9zM475.5 413.8h.9v.9h-.9zM461.1 402.3h.9v.9h-.9zM457.0 403.5h.9v.9h-.9zM473.2 412.0h.9v.9h-.9zM482.8 413.0h.9v.9h-.9zM443.9 412.7h.9v.9h-.9zM454.7 406.7h.9v.9h-.9zM449.9 411.6h.9v.9h-.9zM476.5 404.8h.9v.9h-.9zM479.2 411.1h.9v.9h-.9zM476.9 414.1h.9v.9h-.9zM457.5 408.8h.9v.9h-.9zM451.1 410.2h.9v.9h-.9zM461.3 403.9h.9v.9h-.9zM485.1 409.8h.9v.9h-.9zM452.7 406.7h.9v.9h-.9zM458.8 410.8h.9v.9h-.9zM482.2 414.1h.9v.9h-.9zM483.8 407.3h.9v.9h-.9zM447.0 413.1h.9v.9h-.9zM450.2 412.2h.9v.9h-.9zM453.8 409.1h.9v.9h-.9zM453.3 408.1h.9v.9h-.9zM456.5 404.7h.9v.9h-.9zM451.0 409.4h.9v.9h-.9zM464.4 412.9h.9v.9h-.9zM454.7 408.3h.9v.9h-.9zM464.2 413.1h.9v.9h-.9zM463.9 411.0h.9v.9h-.9zM460.5 404.8h.9v.9h-.9zM444.1 413.1h.9v.9h-.9zM449.3 409.2h.9v.9h-.9zM446.7 410.0h.9v.9h-.9zM459.3 405.4h.9v.9h-.9zM454.9 405.6h.9v.9h-.9zM451.7 409.7h.9v.9h-.9zM469.8 410.2h.9v.9h-.9zM448.6 408.6h.9v.9h-.9zM462.5 410.9h.9v.9h-.9zM454.5 409.1h.9v.9h-.9zM461.5 411.1h.9v.9h-.9zM465.3 413.1h.9v.9h-.9zM457.4 407.3h.9v.9h-.9zM459.0 411.5h.9v.9h-.9zM444.5 413.6h.9v.9h-.9zM455.9 410.9h.9v.9h-.9zM463.6 411.1h.9v.9h-.9zM459.6 411.3h.9v.9h-.9zM456.7 407.0h.9v.9h-.9zM441.6 411.8h.9v.9h-.9zM444.0 410.4h.9v.9h-.9zM449.5 409.1h.9v.9h-.9zM454.3 407.7h.9v.9h-.9zM461.6 410.0h.9v.9h-.9zM468.0 411.4h.9v.9h-.9zM454.4 408.3h.9v.9h-.9zM453.7 407.6h.9v.9h-.9zM455.9 403.9h.9v.9h-.9zM449.7 408.7h.9v.9h-.9zM461.3 410.4h.9v.9h-.9zM450.8 404.4h.9v.9h-.9zM456.4 402.1h.9v.9h-.9zM453.1 404.8h.9v.9h-.9zM461.2 410.6h.9v.9h-.9zM441.9 410.9h.9v.9h-.9zM453.2 401.0h.9v.9h-.9zM464.9 409.2h.9v.9h-.9zM455.2 408.4h.9v.9h-.9zM450.5 408.5h.9v.9h-.9zM444.0 408.1h.9v.9h-.9zM457.8 409.2h.9v.9h-.9zM449.3 408.0h.9v.9h-.9zM460.8 406.9h.9v.9h-.9zM455.7 409.6h.9v.9h-.9zM447.0 409.2h.9v.9h-.9zM455.7 402.7h.9v.9h-.9zM456.3 410.9h.9v.9h-.9zM449.4 408.5h.9v.9h-.9zM450.7 402.1h.9v.9h-.9zM443.9 409.5h.9v.9h-.9zM453.1 409.6h.9v.9h-.9zM454.8 408.7h.9v.9h-.9zM462.6 411.1h.9v.9h-.9zM454.3 408.0h.9v.9h-.9zM462.0 411.3h.9v.9h-.9zM454.8 410.1h.9v.9h-.9zM447.8 412.9h.9v.9h-.9zM447.7 412.2h.9v.9h-.9zM445.1 411.1h.9v.9h-.9zM467.3 408.6h.9v.9h-.9zM445.2 413.0h.9v.9h-.9zM450.7 412.1h.9v.9h-.9zM460.9 411.0h.9v.9h-.9zM451.5 411.8h.9v.9h-.9zM455.2 401.4h.9v.9h-.9zM464.8 412.8h.9v.9h-.9zM467.6 407.2h.9v.9h-.9zM463.1 412.7h.9v.9h-.9zM453.0 405.0h.9v.9h-.9zM457.5 409.9h.9v.9h-.9zM447.8 411.3h.9v.9h-.9zM458.7 411.2h.9v.9h-.9zM447.7 411.9h.9v.9h-.9zM467.4 410.3h.9v.9h-.9zM456.4 405.9h.9v.9h-.9zM464.7 413.2h.9v.9h-.9zM465.3 412.1h.9v.9h-.9zM448.0 407.6h.9v.9h-.9zM456.3 404.5h.9v.9h-.9zM466.8 408.8h.9v.9h-.9zM464.4 407.6h.9v.9h-.9zM454.7 408.0h.9v.9h-.9zM461.6 408.7h.9v.9h-.9zM451.9 409.1h.9v.9h-.9zM458.8 409.8h.9v.9h-.9zM461.2 402.9h.9v.9h-.9zM460.6 409.4h.9v.9h-.9zM458.2 408.7h.9v.9h-.9zM454.3 402.0h.9v.9h-.9zM453.1 411.3h.9v.9h-.9zM462.1 412.1h.9v.9h-.9zM449.0 407.4h.9v.9h-.9zM458.2 408.3h.9v.9h-.9zM464.0 410.2h.9v.9h-.9zM454.9 408.6h.9v.9h-.9zM458.9 411.0h.9v.9h-.9zM452.4 405.9h.9v.9h-.9zM462.2 406.5h.9v.9h-.9zM457.6 409.8h.9v.9h-.9zM458.6 411.7h.9v.9h-.9zM447.5 404.9h.9v.9h-.9zM460.4 410.5h.9v.9h-.9zM454.6 408.2h.9v.9h-.9zM465.8 412.8h.9v.9h-.9zM466.6 412.7h.9v.9h-.9zM461.8 411.1h.9v.9h-.9zM463.4 410.2h.9v.9h-.9zM454.4 410.8h.9v.9h-.9zM451.7 407.8h.9v.9h-.9zM457.3 408.2h.9v.9h-.9zM448.0 410.9h.9v.9h-.9zM465.0 412.8h.9v.9h-.9zM458.6 408.4h.9v.9h-.9zM447.7 412.0h.9v.9h-.9zM460.6 411.8h.9v.9h-.9zM453.3 411.2h.9v.9h-.9zM450.2 412.3h.9v.9h-.9zM460.9 408.5h.9v.9h-.9zM451.9 411.3h.9v.9h-.9zM457.7 404.8h.9v.9h-.9zM454.5 398.9h.9v.9h-.9zM447.4 412.2h.9v.9h-.9zM462.8 410.7h.9v.9h-.9zM459.2 410.7h.9v.9h-.9zM451.6 410.4h.9v.9h-.9zM465.2 408.4h.9v.9h-.9zM460.9 410.0h.9v.9h-.9zM449.4 406.6h.9v.9h-.9zM448.3 413.4h.9v.9h-.9zM460.7 402.3h.9v.9h-.9zM465.7 410.5h.9v.9h-.9zM460.5 410.9h.9v.9h-.9zM465.0 408.3h.9v.9h-.9zM467.1 413.1h.9v.9h-.9zM462.8 406.2h.9v.9h-.9zM451.7 401.7h.9v.9h-.9zM467.6 412.2h.9v.9h-.9zM465.7 411.1h.9v.9h-.9zM466.0 412.8h.9v.9h-.9zM455.8 410.6h.9v.9h-.9zM454.5 407.8h.9v.9h-.9zM447.1 409.9h.9v.9h-.9zM446.5 410.7h.9v.9h-.9zM458.6 408.7h.9v.9h-.9zM457.5 410.5h.9v.9h-.9zM464.6 411.0h.9v.9h-.9zM451.1 408.6h.9v.9h-.9zM449.6 406.1h.9v.9h-.9zM462.3 407.1h.9v.9h-.9zM457.6 409.7h.9v.9h-.9zM449.8 410.8h.9v.9h-.9zM452.4 410.2h.9v.9h-.9zM454.5 410.6h.9v.9h-.9zM447.8 408.8h.9v.9h-.9zM452.7 400.2h.9v.9h-.9zM462.9 410.7h.9v.9h-.9zM462.8 411.5h.9v.9h-.9zM457.0 406.9h.9v.9h-.9zM459.4 410.6h.9v.9h-.9zM456.0 407.4h.9v.9h-.9zM459.4 408.5h.9v.9h-.9zM462.1 411.5h.9v.9h-.9zM455.7 409.4h.9v.9h-.9zM458.1 411.3h.9v.9h-.9zM464.9 409.7h.9v.9h-.9zM467.5 413.2h.9v.9h-.9zM453.5 410.1h.9v.9h-.9zM445.6 412.3h.9v.9h-.9zM449.8 411.3h.9v.9h-.9zM454.5 400.3h.9v.9h-.9zM457.8 409.7h.9v.9h-.9zM466.2 410.7h.9v.9h-.9zM465.8 410.2h.9v.9h-.9zM445.7 410.0h.9v.9h-.9zM461.9 412.3h.9v.9h-.9zM456.1 407.3h.9v.9h-.9zM452.6 406.9h.9v.9h-.9zM447.4 406.3h.9v.9h-.9zM456.7 408.5h.9v.9h-.9zM450.3 405.8h.9v.9h-.9zM454.8 408.7h.9v.9h-.9zM456.6 409.4h.9v.9h-.9zM458.6 411.8h.9v.9h-.9zM457.0 409.6h.9v.9h-.9zM445.0 410.9h.9v.9h-.9zM464.4 412.0h.9v.9h-.9zM460.3 407.1h.9v.9h-.9zM445.6 412.5h.9v.9h-.9zM452.0 407.4h.9v.9h-.9zM463.9 413.4h.9v.9h-.9zM464.6 406.6h.9v.9h-.9zM449.0 410.7h.9v.9h-.9zM464.6 413.3h.9v.9h-.9zM455.3 399.4h.9v.9h-.9zM446.3 409.7h.9v.9h-.9zM464.0 407.6h.9v.9h-.9zM456.2 410.3h.9v.9h-.9zM455.2 402.7h.9v.9h-.9zM463.4 404.1h.9v.9h-.9zM452.7 409.0h.9v.9h-.9zM454.4 405.3h.9v.9h-.9zM454.6 410.1h.9v.9h-.9zM458.7 411.9h.9v.9h-.9zM460.8 411.4h.9v.9h-.9zM467.1 412.5h.9v.9h-.9zM456.5 400.4h.9v.9h-.9zM451.8 409.5h.9v.9h-.9zM451.0 410.8h.9v.9h-.9zM454.3 408.1h.9v.9h-.9zM446.8 412.4h.9v.9h-.9zM446.6 412.3h.9v.9h-.9zM452.4 411.3h.9v.9h-.9zM461.5 412.6h.9v.9h-.9zM461.9 407.2h.9v.9h-.9zM457.4 406.3h.9v.9h-.9zM452.9 410.5h.9v.9h-.9zM458.6 404.2h.9v.9h-.9zM452.7 409.8h.9v.9h-.9zM459.1 409.0h.9v.9h-.9zM451.5 411.8h.9v.9h-.9zM452.4 408.2h.9v.9h-.9zM467.1 413.9h.9v.9h-.9zM462.3 411.9h.9v.9h-.9zM454.5 405.0h.9v.9h-.9zM452.7 392.3h.9v.9h-.9zM451.3 412.3h.9v.9h-.9zM471.5 404.5h.9v.9h-.9zM462.5 409.4h.9v.9h-.9zM484.8 411.9h.9v.9h-.9zM456.6 408.2h.9v.9h-.9zM456.3 403.0h.9v.9h-.9zM450.4 409.9h.9v.9h-.9zM476.0 406.8h.9v.9h-.9zM446.1 405.4h.9v.9h-.9zM455.7 404.2h.9v.9h-.9zM472.8 412.5h.9v.9h-.9zM455.7 407.2h.9v.9h-.9zM450.3 411.5h.9v.9h-.9zM463.0 407.3h.9v.9h-.9zM463.6 410.7h.9v.9h-.9zM453.6 405.3h.9v.9h-.9zM473.2 410.0h.9v.9h-.9zM457.9 410.4h.9v.9h-.9zM460.7 411.6h.9v.9h-.9zM472.9 406.5h.9v.9h-.9zM475.7 409.0h.9v.9h-.9zM466.4 398.4h.9v.9h-.9zM465.5 397.2h.9v.9h-.9zM468.4 396.0h.9v.9h-.9zM462.3 412.4h.9v.9h-.9zM462.6 411.6h.9v.9h-.9zM464.5 392.3h.9v.9h-.9zM449.4 407.2h.9v.9h-.9zM474.4 401.1h.9v.9h-.9zM466.9 407.4h.9v.9h-.9zM477.0 407.7h.9v.9h-.9zM483.3 397.0h.9v.9h-.9zM465.7 413.0h.9v.9h-.9zM472.2 402.1h.9v.9h-.9zM475.2 407.8h.9v.9h-.9zM476.0 400.8h.9v.9h-.9zM476.4 404.9h.9v.9h-.9zM468.8 413.8h.9v.9h-.9zM479.5 410.3h.9v.9h-.9zM486.0 402.2h.9v.9h-.9zM477.2 414.2h.9v.9h-.9zM485.1 414.5h.9v.9h-.9zM465.3 410.0h.9v.9h-.9zM463.7 395.6h.9v.9h-.9zM463.8 412.6h.9v.9h-.9zM455.3 405.4h.9v.9h-.9zM467.4 413.2h.9v.9h-.9zM488.7 416.4h.9v.9h-.9zM456.2 392.4h.9v.9h-.9zM470.1 398.5h.9v.9h-.9zM470.7 406.6h.9v.9h-.9zM451.1 409.1h.9v.9h-.9zM461.9 402.9h.9v.9h-.9zM481.7 399.8h.9v.9h-.9zM475.6 409.1h.9v.9h-.9zM473.9 403.3h.9v.9h-.9zM483.8 409.4h.9v.9h-.9zM481.7 410.7h.9v.9h-.9zM481.0 414.8h.9v.9h-.9zM454.1 408.9h.9v.9h-.9zM487.5 415.7h.9v.9h-.9zM478.6 409.3h.9v.9h-.9zM462.3 409.2h.9v.9h-.9zM460.8 403.4h.9v.9h-.9zM444.8 403.1h.9v.9h-.9zM462.7 402.0h.9v.9h-.9zM468.7 405.5h.9v.9h-.9zM454.7 404.8h.9v.9h-.9zM457.5 398.2h.9v.9h-.9zM462.6 404.5h.9v.9h-.9zM478.1 408.8h.9v.9h-.9zM459.7 405.3h.9v.9h-.9zM483.6 400.1h.9v.9h-.9zM448.3 403.5h.9v.9h-.9zM451.9 410.5h.9v.9h-.9zM453.1 408.3h.9v.9h-.9zM470.4 401.7h.9v.9h-.9zM483.3 406.0h.9v.9h-.9zM457.1 410.8h.9v.9h-.9zM458.9 402.8h.9v.9h-.9zM462.8 410.6h.9v.9h-.9zM448.0 407.3h.9v.9h-.9zM465.7 401.7h.9v.9h-.9zM461.6 407.2h.9v.9h-.9zM446.7 408.3h.9v.9h-.9zM457.3 406.5h.9v.9h-.9zM466.4 413.2h.9v.9h-.9zM469.4 409.3h.9v.9h-.9zM471.4 410.1h.9v.9h-.9zM479.0 412.9h.9v.9h-.9zM463.7 408.1h.9v.9h-.9zM477.6 406.6h.9v.9h-.9zM477.8 407.5h.9v.9h-.9zM474.0 407.6h.9v.9h-.9zM475.1 410.9h.9v.9h-.9zM447.9 410.0h.9v.9h-.9zM470.5 408.3h.9v.9h-.9zM447.5 409.8h.9v.9h-.9zM459.9 397.8h.9v.9h-.9zM477.2 407.2h.9v.9h-.9zM470.9 411.0h.9v.9h-.9zM450.5 401.9h.9v.9h-.9zM465.8 396.9h.9v.9h-.9zM465.8 406.3h.9v.9h-.9zM468.0 407.9h.9v.9h-.9zM457.8 407.6h.9v.9h-.9zM474.9 400.3h.9v.9h-.9zM450.0 410.2h.9v.9h-.9zM460.9 406.2h.9v.9h-.9zM448.5 404.9h.9v.9h-.9zM457.1 391.6h.9v.9h-.9zM488.6 415.0h.9v.9h-.9zM451.9 411.2h.9v.9h-.9zM465.7 408.8h.9v.9h-.9zM462.0 405.7h.9v.9h-.9zM479.4 414.7h.9v.9h-.9zM474.5 410.9h.9v.9h-.9zM471.7 411.9h.9v.9h-.9zM477.0 402.0h.9v.9h-.9zM465.0 404.5h.9v.9h-.9zM476.7 403.4h.9v.9h-.9zM470.7 414.0h.9v.9h-.9zM476.2 413.2h.9v.9h-.9zM449.3 397.3h.9v.9h-.9zM478.6 407.6h.9v.9h-.9zM473.2 412.5h.9v.9h-.9zM464.4 398.2h.9v.9h-.9zM461.6 404.6h.9v.9h-.9zM457.3 407.1h.9v.9h-.9zM473.6 407.9h.9v.9h-.9zM454.4 400.1h.9v.9h-.9zM471.9 405.5h.9v.9h-.9zM470.9 402.8h.9v.9h-.9zM469.6 401.1h.9v.9h-.9zM462.0 409.2h.9v.9h-.9zM467.3 411.3h.9v.9h-.9zM468.5 398.8h.9v.9h-.9zM452.9 404.9h.9v.9h-.9zM451.8 396.7h.9v.9h-.9zM458.9 399.1h.9v.9h-.9zM472.8 413.6h.9v.9h-.9zM488.0 414.1h.9v.9h-.9zM467.8 412.3h.9v.9h-.9zM464.4 400.6h.9v.9h-.9zM467.6 405.1h.9v.9h-.9zM479.3 410.4h.9v.9h-.9zM449.8 410.9h.9v.9h-.9zM479.7 411.3h.9v.9h-.9zM466.4 398.5h.9v.9h-.9zM461.1 395.2h.9v.9h-.9zM452.5 411.6h.9v.9h-.9zM461.7 410.7h.9v.9h-.9zM457.5 407.3h.9v.9h-.9zM451.6 396.7h.9v.9h-.9zM478.8 407.1h.9v.9h-.9zM469.0 411.5h.9v.9h-.9zM470.9 399.1h.9v.9h-.9zM455.1 410.0h.9v.9h-.9zM474.1 413.1h.9v.9h-.9zM471.7 400.1h.9v.9h-.9zM461.7 406.0h.9v.9h-.9zM478.7 404.0h.9v.9h-.9zM454.7 399.1h.9v.9h-.9zM450.5 412.4h.9v.9h-.9zM485.1 405.0h.9v.9h-.9zM444.3 402.3h.9v.9h-.9zM475.8 413.7h.9v.9h-.9zM462.8 409.7h.9v.9h-.9zM487.0 405.8h.9v.9h-.9zM478.0 406.0h.9v.9h-.9zM456.8 402.8h.9v.9h-.9zM463.5 406.2h.9v.9h-.9zM451.4 407.5h.9v.9h-.9zM454.0 397.2h.9v.9h-.9zM454.4 390.3h.9v.9h-.9zM472.8 409.6h.9v.9h-.9zM483.9 403.1h.9v.9h-.9zM474.0 401.1h.9v.9h-.9zM472.6 407.0h.9v.9h-.9zM472.5 394.5h.9v.9h-.9zM452.1 410.9h.9v.9h-.9zM455.6 404.9h.9v.9h-.9zM481.1 413.3h.9v.9h-.9zM478.0 405.1h.9v.9h-.9zM459.1 403.9h.9v.9h-.9zM481.9 414.2h.9v.9h-.9zM478.3 410.4h.9v.9h-.9zM457.8 408.0h.9v.9h-.9zM475.2 413.6h.9v.9h-.9zM466.0 406.6h.9v.9h-.9zM473.5 403.0h.9v.9h-.9zM482.9 410.4h.9v.9h-.9zM463.9 403.5h.9v.9h-.9zM454.9 397.4h.9v.9h-.9zM477.4 407.0h.9v.9h-.9zM483.0 411.1h.9v.9h-.9zM482.3 414.7h.9v.9h-.9z" fill="#161616"/>
<path d="M464.2 429.0h1v.9h-1zM462.8 431.5h1v.9h-1zM467.7 431.8h1v.9h-1zM467.0 431.1h1v.9h-1zM466.9 432.4h1v.9h-1zM458.7 428.0h1v.9h-1zM469.0 430.1h1v.9h-1zM471.1 428.5h1v.9h-1zM456.6 432.1h1v.9h-1zM464.9 428.6h1v.9h-1zM457.4 433.2h1v.9h-1zM466.3 431.9h1v.9h-1zM467.9 431.0h1v.9h-1zM453.2 433.2h1v.9h-1zM457.8 432.8h1v.9h-1zM464.2 430.4h1v.9h-1zM462.9 427.2h1v.9h-1zM457.0 430.8h1v.9h-1zM465.5 426.8h1v.9h-1zM460.6 433.0h1v.9h-1zM465.6 430.5h1v.9h-1zM463.4 428.2h1v.9h-1zM467.9 430.7h1v.9h-1zM479.0 432.1h1v.9h-1zM464.8 431.9h1v.9h-1zM454.1 433.1h1v.9h-1zM461.8 430.5h1v.9h-1zM472.2 433.1h1v.9h-1zM463.1 431.6h1v.9h-1zM470.4 428.5h1v.9h-1zM467.2 429.7h1v.9h-1zM467.8 431.7h1v.9h-1zM467.6 426.3h1v.9h-1zM461.6 431.3h1v.9h-1zM463.4 429.5h1v.9h-1zM468.3 431.9h1v.9h-1zM464.2 430.1h1v.9h-1zM453.9 433.0h1v.9h-1zM468.2 432.1h1v.9h-1zM451.3 433.3h1v.9h-1zM463.5 432.0h1v.9h-1zM470.1 431.5h1v.9h-1zM459.0 431.4h1v.9h-1zM468.7 431.4h1v.9h-1zM473.6 430.6h1v.9h-1zM474.0 431.7h1v.9h-1zM455.1 432.7h1v.9h-1zM476.3 432.5h1v.9h-1zM457.5 433.0h1v.9h-1zM460.9 431.6h1v.9h-1zM471.6 428.4h1v.9h-1zM468.0 432.1h1v.9h-1zM463.2 431.9h1v.9h-1zM458.8 430.2h1v.9h-1zM458.8 431.7h1v.9h-1zM473.2 431.4h1v.9h-1zM469.7 428.8h1v.9h-1zM472.3 433.3h1v.9h-1zM456.9 432.4h1v.9h-1zM455.7 432.7h1v.9h-1zM476.9 432.8h1v.9h-1zM470.0 431.2h1v.9h-1zM471.9 431.0h1v.9h-1zM460.8 429.7h1v.9h-1zM467.1 431.1h1v.9h-1zM462.7 430.6h1v.9h-1zM464.0 433.1h1v.9h-1zM463.4 432.7h1v.9h-1zM468.1 428.0h1v.9h-1zM472.6 433.1h1v.9h-1zM467.8 433.1h1v.9h-1zM463.2 430.7h1v.9h-1zM462.3 429.3h1v.9h-1zM458.8 432.9h1v.9h-1zM468.0 432.9h1v.9h-1zM464.5 421.8h1v.9h-1zM463.5 433.3h1v.9h-1zM466.4 433.0h1v.9h-1zM454.4 432.8h1v.9h-1zM455.3 433.3h1v.9h-1zM471.1 430.3h1v.9h-1zM467.6 431.2h1v.9h-1zM470.7 431.4h1v.9h-1zM456.4 432.3h1v.9h-1zM455.6 432.2h1v.9h-1zM460.9 433.1h1v.9h-1zM466.8 433.3h1v.9h-1zM471.9 428.5h1v.9h-1zM463.1 429.4h1v.9h-1zM470.8 430.1h1v.9h-1zM460.1 430.3h1v.9h-1zM461.3 427.7h1v.9h-1zM455.7 432.6h1v.9h-1zM464.7 429.2h1v.9h-1zM457.2 431.7h1v.9h-1zM471.1 430.9h1v.9h-1zM458.1 432.4h1v.9h-1zM459.5 430.1h1v.9h-1zM465.2 429.6h1v.9h-1zM458.4 431.7h1v.9h-1zM465.1 428.7h1v.9h-1zM471.4 432.9h1v.9h-1zM469.5 425.4h1v.9h-1zM459.2 433.1h1v.9h-1zM460.7 432.4h1v.9h-1zM466.4 423.4h1v.9h-1zM464.9 432.0h1v.9h-1zM462.8 424.3h1v.9h-1zM460.1 432.6h1v.9h-1zM462.8 432.2h1v.9h-1zM459.2 432.9h1v.9h-1zM451.7 432.8h1v.9h-1zM463.4 430.8h1v.9h-1zM468.6 432.9h1v.9h-1zM473.2 432.3h1v.9h-1zM463.4 432.9h1v.9h-1zM454.8 432.6h1v.9h-1zM471.4 431.6h1v.9h-1zM465.9 433.0h1v.9h-1zM468.6 427.2h1v.9h-1zM468.3 431.8h1v.9h-1zM465.0 430.6h1v.9h-1zM456.3 430.8h1v.9h-1zM458.1 430.9h1v.9h-1zM464.3 433.1h1v.9h-1zM458.5 431.3h1v.9h-1zM465.2 427.1h1v.9h-1zM460.9 430.6h1v.9h-1zM459.2 432.8h1v.9h-1zM470.1 433.0h1v.9h-1zM465.9 430.7h1v.9h-1zM471.7 433.0h1v.9h-1zM465.1 428.4h1v.9h-1zM467.0 433.1h1v.9h-1zM467.9 430.5h1v.9h-1zM458.9 430.6h1v.9h-1zM456.9 432.0h1v.9h-1zM465.2 429.5h1v.9h-1zM473.4 431.8h1v.9h-1zM469.6 432.7h1v.9h-1zM469.8 428.6h1v.9h-1zM458.8 432.2h1v.9h-1zM459.0 431.3h1v.9h-1zM460.5 432.9h1v.9h-1zM465.3 432.5h1v.9h-1zM466.0 423.4h1v.9h-1zM458.0 431.8h1v.9h-1zM461.9 433.3h1v.9h-1zM462.2 431.7h1v.9h-1zM470.0 433.3h1v.9h-1zM463.1 431.1h1v.9h-1zM458.8 433.1h1v.9h-1zM468.9 432.2h1v.9h-1zM470.1 430.4h1v.9h-1zM468.2 427.9h1v.9h-1zM462.5 425.0h1v.9h-1zM469.6 431.8h1v.9h-1zM473.4 431.3h1v.9h-1zM461.8 429.9h1v.9h-1zM460.7 433.1h1v.9h-1zM458.7 430.4h1v.9h-1zM462.0 432.3h1v.9h-1zM458.0 431.3h1v.9h-1zM466.7 432.0h1v.9h-1zM464.8 430.3h1v.9h-1zM464.2 428.4h1v.9h-1zM464.3 432.7h1v.9h-1zM464.6 425.2h1v.9h-1zM466.9 429.6h1v.9h-1zM464.8 428.3h1v.9h-1zM467.7 431.3h1v.9h-1zM464.6 428.7h1v.9h-1zM466.5 432.9h1v.9h-1zM461.6 428.3h1v.9h-1zM464.0 429.7h1v.9h-1zM466.5 430.8h1v.9h-1zM458.2 430.5h1v.9h-1zM462.2 432.4h1v.9h-1zM464.5 433.1h1v.9h-1zM465.6 429.9h1v.9h-1zM468.1 431.5h1v.9h-1zM473.4 431.5h1v.9h-1zM457.1 432.7h1v.9h-1zM462.5 433.3h1v.9h-1zM466.1 433.0h1v.9h-1zM473.0 433.2h1v.9h-1zM466.9 428.9h1v.9h-1z" fill="#fff"/>
<rect x="431.80" y="427.80" width="16.20" height="6.30" fill="#cbcbcb" stroke="#999" stroke-width="0.4"/>
<rect x="480.60" y="427.80" width="15.60" height="6.30" fill="#ececec" stroke="#aaa" stroke-width="0.4"/>
<text x="432.40" y="374.70" font-size="5.7" text-anchor="start" fill="#6a6a6a">0.44</text>
<text x="495.00" y="374.70" font-size="5.7" text-anchor="end" fill="#6a6a6a">0.43</text>
<text x="432.60" y="433.00" font-size="5.7" text-anchor="start" fill="#5c5c5c">77.07</text>
<text x="495.60" y="433.00" font-size="5.7" text-anchor="end" fill="#5c5c5c">22.05</text>
<rect x="431.4" y="369.6" width="65.20" height="64.70" fill="none" stroke="#bcbcbc" stroke-width="0.7"/>
</g>
</svg></body></html>
